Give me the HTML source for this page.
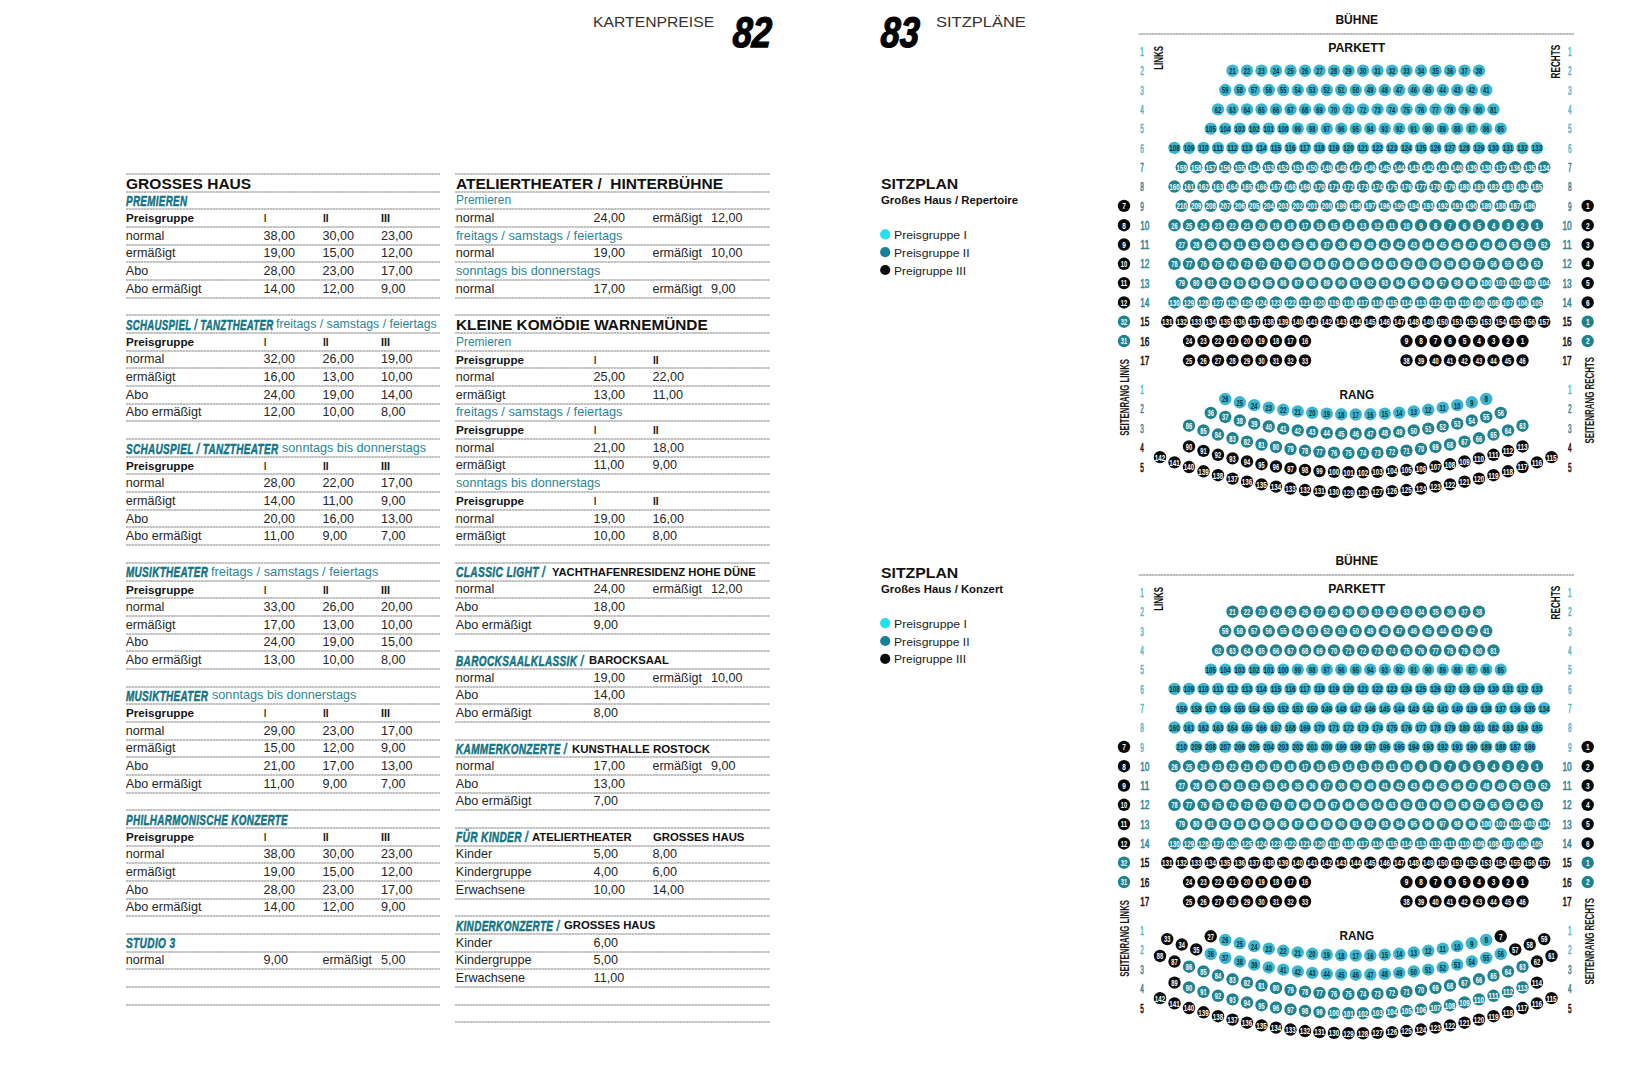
<!DOCTYPE html>
<html><head><meta charset="utf-8"><style>
html,body{margin:0;padding:0;background:#fff;width:1650px;height:1080px;overflow:hidden}
body{position:relative;font-family:"Liberation Sans",sans-serif}
.t{position:absolute;white-space:pre;line-height:0;transform-origin:0 0}
.ln{position:absolute;height:2px;background:repeating-linear-gradient(90deg,#c2c2c2 0 2px,#dadada 2px 3px)}
svg{position:absolute;left:0;top:0}
</style></head><body>
<div class="ln" style="left:125.5px;top:173.0px;width:314.5px"></div>
<div class="ln" style="left:125.5px;top:190.7px;width:314.5px"></div>
<div class="ln" style="left:125.5px;top:208.3px;width:314.5px"></div>
<div class="ln" style="left:125.5px;top:226.0px;width:314.5px"></div>
<div class="ln" style="left:125.5px;top:243.7px;width:314.5px"></div>
<div class="ln" style="left:125.5px;top:261.4px;width:314.5px"></div>
<div class="ln" style="left:125.5px;top:279.0px;width:314.5px"></div>
<div class="ln" style="left:125.5px;top:296.7px;width:314.5px"></div>
<div class="ln" style="left:125.5px;top:314.4px;width:314.5px"></div>
<div class="ln" style="left:125.5px;top:332.0px;width:314.5px"></div>
<div class="ln" style="left:125.5px;top:349.7px;width:314.5px"></div>
<div class="ln" style="left:125.5px;top:367.4px;width:314.5px"></div>
<div class="ln" style="left:125.5px;top:385.1px;width:314.5px"></div>
<div class="ln" style="left:125.5px;top:402.7px;width:314.5px"></div>
<div class="ln" style="left:125.5px;top:420.4px;width:314.5px"></div>
<div class="ln" style="left:125.5px;top:438.1px;width:314.5px"></div>
<div class="ln" style="left:125.5px;top:455.8px;width:314.5px"></div>
<div class="ln" style="left:125.5px;top:473.4px;width:314.5px"></div>
<div class="ln" style="left:125.5px;top:491.1px;width:314.5px"></div>
<div class="ln" style="left:125.5px;top:508.8px;width:314.5px"></div>
<div class="ln" style="left:125.5px;top:526.4px;width:314.5px"></div>
<div class="ln" style="left:125.5px;top:544.1px;width:314.5px"></div>
<div class="ln" style="left:125.5px;top:561.8px;width:314.5px"></div>
<div class="ln" style="left:125.5px;top:579.5px;width:314.5px"></div>
<div class="ln" style="left:125.5px;top:597.1px;width:314.5px"></div>
<div class="ln" style="left:125.5px;top:614.8px;width:314.5px"></div>
<div class="ln" style="left:125.5px;top:632.5px;width:314.5px"></div>
<div class="ln" style="left:125.5px;top:650.1px;width:314.5px"></div>
<div class="ln" style="left:125.5px;top:667.8px;width:314.5px"></div>
<div class="ln" style="left:125.5px;top:685.5px;width:314.5px"></div>
<div class="ln" style="left:125.5px;top:703.2px;width:314.5px"></div>
<div class="ln" style="left:125.5px;top:720.8px;width:314.5px"></div>
<div class="ln" style="left:125.5px;top:738.5px;width:314.5px"></div>
<div class="ln" style="left:125.5px;top:756.2px;width:314.5px"></div>
<div class="ln" style="left:125.5px;top:773.8px;width:314.5px"></div>
<div class="ln" style="left:125.5px;top:791.5px;width:314.5px"></div>
<div class="ln" style="left:125.5px;top:809.2px;width:314.5px"></div>
<div class="ln" style="left:125.5px;top:826.9px;width:314.5px"></div>
<div class="ln" style="left:125.5px;top:844.5px;width:314.5px"></div>
<div class="ln" style="left:125.5px;top:862.2px;width:314.5px"></div>
<div class="ln" style="left:125.5px;top:879.9px;width:314.5px"></div>
<div class="ln" style="left:125.5px;top:897.6px;width:314.5px"></div>
<div class="ln" style="left:125.5px;top:915.2px;width:314.5px"></div>
<div class="ln" style="left:125.5px;top:932.9px;width:314.5px"></div>
<div class="ln" style="left:125.5px;top:950.6px;width:314.5px"></div>
<div class="ln" style="left:125.5px;top:968.2px;width:314.5px"></div>
<div class="ln" style="left:125.5px;top:985.9px;width:314.5px"></div>
<div class="ln" style="left:125.5px;top:1003.6px;width:314.5px"></div>
<div class="ln" style="left:455.3px;top:173.0px;width:314.5px"></div>
<div class="ln" style="left:455.3px;top:190.7px;width:314.5px"></div>
<div class="ln" style="left:455.3px;top:208.3px;width:314.5px"></div>
<div class="ln" style="left:455.3px;top:226.0px;width:314.5px"></div>
<div class="ln" style="left:455.3px;top:243.7px;width:314.5px"></div>
<div class="ln" style="left:455.3px;top:261.4px;width:314.5px"></div>
<div class="ln" style="left:455.3px;top:279.0px;width:314.5px"></div>
<div class="ln" style="left:455.3px;top:296.7px;width:314.5px"></div>
<div class="ln" style="left:455.3px;top:314.4px;width:314.5px"></div>
<div class="ln" style="left:455.3px;top:332.0px;width:314.5px"></div>
<div class="ln" style="left:455.3px;top:349.7px;width:314.5px"></div>
<div class="ln" style="left:455.3px;top:367.4px;width:314.5px"></div>
<div class="ln" style="left:455.3px;top:385.1px;width:314.5px"></div>
<div class="ln" style="left:455.3px;top:402.7px;width:314.5px"></div>
<div class="ln" style="left:455.3px;top:420.4px;width:314.5px"></div>
<div class="ln" style="left:455.3px;top:438.1px;width:314.5px"></div>
<div class="ln" style="left:455.3px;top:455.8px;width:314.5px"></div>
<div class="ln" style="left:455.3px;top:473.4px;width:314.5px"></div>
<div class="ln" style="left:455.3px;top:491.1px;width:314.5px"></div>
<div class="ln" style="left:455.3px;top:508.8px;width:314.5px"></div>
<div class="ln" style="left:455.3px;top:526.4px;width:314.5px"></div>
<div class="ln" style="left:455.3px;top:544.1px;width:314.5px"></div>
<div class="ln" style="left:455.3px;top:561.8px;width:314.5px"></div>
<div class="ln" style="left:455.3px;top:579.5px;width:314.5px"></div>
<div class="ln" style="left:455.3px;top:597.1px;width:314.5px"></div>
<div class="ln" style="left:455.3px;top:614.8px;width:314.5px"></div>
<div class="ln" style="left:455.3px;top:632.5px;width:314.5px"></div>
<div class="ln" style="left:455.3px;top:650.1px;width:314.5px"></div>
<div class="ln" style="left:455.3px;top:667.8px;width:314.5px"></div>
<div class="ln" style="left:455.3px;top:685.5px;width:314.5px"></div>
<div class="ln" style="left:455.3px;top:703.2px;width:314.5px"></div>
<div class="ln" style="left:455.3px;top:720.8px;width:314.5px"></div>
<div class="ln" style="left:455.3px;top:738.5px;width:314.5px"></div>
<div class="ln" style="left:455.3px;top:756.2px;width:314.5px"></div>
<div class="ln" style="left:455.3px;top:773.8px;width:314.5px"></div>
<div class="ln" style="left:455.3px;top:791.5px;width:314.5px"></div>
<div class="ln" style="left:455.3px;top:809.2px;width:314.5px"></div>
<div class="ln" style="left:455.3px;top:826.9px;width:314.5px"></div>
<div class="ln" style="left:455.3px;top:844.5px;width:314.5px"></div>
<div class="ln" style="left:455.3px;top:862.2px;width:314.5px"></div>
<div class="ln" style="left:455.3px;top:879.9px;width:314.5px"></div>
<div class="ln" style="left:455.3px;top:897.6px;width:314.5px"></div>
<div class="ln" style="left:455.3px;top:915.2px;width:314.5px"></div>
<div class="ln" style="left:455.3px;top:932.9px;width:314.5px"></div>
<div class="ln" style="left:455.3px;top:950.6px;width:314.5px"></div>
<div class="ln" style="left:455.3px;top:968.2px;width:314.5px"></div>
<div class="ln" style="left:455.3px;top:985.9px;width:314.5px"></div>
<div class="ln" style="left:455.3px;top:1003.6px;width:314.5px"></div>
<div class="ln" style="left:455.3px;top:1021.3px;width:314.5px"></div>
<div class="t" style="left:125.8px;top:183.58px;font-size:13.9px;font-weight:700;font-style:normal;color:#111;transform:scaleX(1.1186);">GROSSES HAUS</div>
<div class="t" style="left:125.8px;top:201.12px;font-size:14.3px;font-weight:700;font-style:italic;letter-spacing:0.5px;color:#137283;-webkit-text-stroke:0.5px #137283;transform:scaleX(0.6860);">PREMIEREN</div>
<div class="t" style="left:125.8px;top:218.43px;font-size:11.3px;font-weight:700;font-style:normal;color:#141414;transform:scaleX(1.0315);">Preisgruppe</div>
<div class="t" style="left:263.9px;top:218.43px;font-size:11.3px;font-weight:700;font-style:normal;color:#141414;transform:scaleX(0.7005);">I</div>
<div class="t" style="left:322.7px;top:218.43px;font-size:11.3px;font-weight:700;font-style:normal;color:#141414;transform:scaleX(0.8915);">II</div>
<div class="t" style="left:381.4px;top:218.43px;font-size:11.3px;font-weight:700;font-style:normal;color:#141414;transform:scaleX(0.9552);">III</div>
<div class="t" style="left:125.8px;top:235.75px;font-size:12.6px;font-weight:400;font-style:normal;color:#262626;">normal</div>
<div class="t" style="left:263.6px;top:235.75px;font-size:12.6px;font-weight:400;font-style:normal;color:#262626;">38,00</div>
<div class="t" style="left:322.4px;top:235.75px;font-size:12.6px;font-weight:400;font-style:normal;color:#262626;">30,00</div>
<div class="t" style="left:381.1px;top:235.75px;font-size:12.6px;font-weight:400;font-style:normal;color:#262626;">23,00</div>
<div class="t" style="left:125.8px;top:253.42px;font-size:12.6px;font-weight:400;font-style:normal;color:#262626;">ermäßigt</div>
<div class="t" style="left:263.6px;top:253.42px;font-size:12.6px;font-weight:400;font-style:normal;color:#262626;">19,00</div>
<div class="t" style="left:322.4px;top:253.42px;font-size:12.6px;font-weight:400;font-style:normal;color:#262626;">15,00</div>
<div class="t" style="left:381.1px;top:253.42px;font-size:12.6px;font-weight:400;font-style:normal;color:#262626;">12,00</div>
<div class="t" style="left:125.8px;top:271.09px;font-size:12.6px;font-weight:400;font-style:normal;color:#262626;">Abo</div>
<div class="t" style="left:263.6px;top:271.09px;font-size:12.6px;font-weight:400;font-style:normal;color:#262626;">28,00</div>
<div class="t" style="left:322.4px;top:271.09px;font-size:12.6px;font-weight:400;font-style:normal;color:#262626;">23,00</div>
<div class="t" style="left:381.1px;top:271.09px;font-size:12.6px;font-weight:400;font-style:normal;color:#262626;">17,00</div>
<div class="t" style="left:125.8px;top:288.77px;font-size:12.6px;font-weight:400;font-style:normal;color:#262626;">Abo ermäßigt</div>
<div class="t" style="left:263.6px;top:288.77px;font-size:12.6px;font-weight:400;font-style:normal;color:#262626;">14,00</div>
<div class="t" style="left:322.4px;top:288.77px;font-size:12.6px;font-weight:400;font-style:normal;color:#262626;">12,00</div>
<div class="t" style="left:381.1px;top:288.77px;font-size:12.6px;font-weight:400;font-style:normal;color:#262626;">9,00</div>
<div class="t" style="left:125.8px;top:324.82px;font-size:14.3px;font-weight:700;font-style:italic;letter-spacing:0.5px;color:#137283;-webkit-text-stroke:0.5px #137283;transform:scaleX(0.6726);">SCHAUSPIEL / TANZTHEATER</div>
<div class="t" style="left:276.2px;top:324.11px;font-size:12.6px;font-weight:400;font-style:normal;color:#2b8696;transform:scaleX(0.9769);">freitags / samstags / feiertags</div>
<div class="t" style="left:125.8px;top:342.13px;font-size:11.3px;font-weight:700;font-style:normal;color:#141414;transform:scaleX(1.0315);">Preisgruppe</div>
<div class="t" style="left:263.9px;top:342.13px;font-size:11.3px;font-weight:700;font-style:normal;color:#141414;transform:scaleX(0.7005);">I</div>
<div class="t" style="left:322.7px;top:342.13px;font-size:11.3px;font-weight:700;font-style:normal;color:#141414;transform:scaleX(0.8915);">II</div>
<div class="t" style="left:381.4px;top:342.13px;font-size:11.3px;font-weight:700;font-style:normal;color:#141414;transform:scaleX(0.9552);">III</div>
<div class="t" style="left:125.8px;top:359.45px;font-size:12.6px;font-weight:400;font-style:normal;color:#262626;">normal</div>
<div class="t" style="left:263.6px;top:359.45px;font-size:12.6px;font-weight:400;font-style:normal;color:#262626;">32,00</div>
<div class="t" style="left:322.4px;top:359.45px;font-size:12.6px;font-weight:400;font-style:normal;color:#262626;">26,00</div>
<div class="t" style="left:381.1px;top:359.45px;font-size:12.6px;font-weight:400;font-style:normal;color:#262626;">19,00</div>
<div class="t" style="left:125.8px;top:377.13px;font-size:12.6px;font-weight:400;font-style:normal;color:#262626;">ermäßigt</div>
<div class="t" style="left:263.6px;top:377.13px;font-size:12.6px;font-weight:400;font-style:normal;color:#262626;">16,00</div>
<div class="t" style="left:322.4px;top:377.13px;font-size:12.6px;font-weight:400;font-style:normal;color:#262626;">13,00</div>
<div class="t" style="left:381.1px;top:377.13px;font-size:12.6px;font-weight:400;font-style:normal;color:#262626;">10,00</div>
<div class="t" style="left:125.8px;top:394.80px;font-size:12.6px;font-weight:400;font-style:normal;color:#262626;">Abo</div>
<div class="t" style="left:263.6px;top:394.80px;font-size:12.6px;font-weight:400;font-style:normal;color:#262626;">24,00</div>
<div class="t" style="left:322.4px;top:394.80px;font-size:12.6px;font-weight:400;font-style:normal;color:#262626;">19,00</div>
<div class="t" style="left:381.1px;top:394.80px;font-size:12.6px;font-weight:400;font-style:normal;color:#262626;">14,00</div>
<div class="t" style="left:125.8px;top:412.47px;font-size:12.6px;font-weight:400;font-style:normal;color:#262626;">Abo ermäßigt</div>
<div class="t" style="left:263.6px;top:412.47px;font-size:12.6px;font-weight:400;font-style:normal;color:#262626;">12,00</div>
<div class="t" style="left:322.4px;top:412.47px;font-size:12.6px;font-weight:400;font-style:normal;color:#262626;">10,00</div>
<div class="t" style="left:381.1px;top:412.47px;font-size:12.6px;font-weight:400;font-style:normal;color:#262626;">8,00</div>
<div class="t" style="left:125.8px;top:448.53px;font-size:14.3px;font-weight:700;font-style:italic;letter-spacing:0.5px;color:#137283;-webkit-text-stroke:0.5px #137283;transform:scaleX(0.6954);">SCHAUSPIEL / TANZTHEATER</div>
<div class="t" style="left:281.8px;top:447.81px;font-size:12.6px;font-weight:400;font-style:normal;color:#2b8696;transform:scaleX(1.0047);">sonntags bis donnerstags</div>
<div class="t" style="left:125.8px;top:465.84px;font-size:11.3px;font-weight:700;font-style:normal;color:#141414;transform:scaleX(1.0315);">Preisgruppe</div>
<div class="t" style="left:263.9px;top:465.84px;font-size:11.3px;font-weight:700;font-style:normal;color:#141414;transform:scaleX(0.7005);">I</div>
<div class="t" style="left:322.7px;top:465.84px;font-size:11.3px;font-weight:700;font-style:normal;color:#141414;transform:scaleX(0.8915);">II</div>
<div class="t" style="left:381.4px;top:465.84px;font-size:11.3px;font-weight:700;font-style:normal;color:#141414;transform:scaleX(0.9552);">III</div>
<div class="t" style="left:125.8px;top:483.16px;font-size:12.6px;font-weight:400;font-style:normal;color:#262626;">normal</div>
<div class="t" style="left:263.6px;top:483.16px;font-size:12.6px;font-weight:400;font-style:normal;color:#262626;">28,00</div>
<div class="t" style="left:322.4px;top:483.16px;font-size:12.6px;font-weight:400;font-style:normal;color:#262626;">22,00</div>
<div class="t" style="left:381.1px;top:483.16px;font-size:12.6px;font-weight:400;font-style:normal;color:#262626;">17,00</div>
<div class="t" style="left:125.8px;top:500.83px;font-size:12.6px;font-weight:400;font-style:normal;color:#262626;">ermäßigt</div>
<div class="t" style="left:263.6px;top:500.83px;font-size:12.6px;font-weight:400;font-style:normal;color:#262626;">14,00</div>
<div class="t" style="left:322.4px;top:500.83px;font-size:12.6px;font-weight:400;font-style:normal;color:#262626;">11,00</div>
<div class="t" style="left:381.1px;top:500.83px;font-size:12.6px;font-weight:400;font-style:normal;color:#262626;">9,00</div>
<div class="t" style="left:125.8px;top:518.50px;font-size:12.6px;font-weight:400;font-style:normal;color:#262626;">Abo</div>
<div class="t" style="left:263.6px;top:518.50px;font-size:12.6px;font-weight:400;font-style:normal;color:#262626;">20,00</div>
<div class="t" style="left:322.4px;top:518.50px;font-size:12.6px;font-weight:400;font-style:normal;color:#262626;">16,00</div>
<div class="t" style="left:381.1px;top:518.50px;font-size:12.6px;font-weight:400;font-style:normal;color:#262626;">13,00</div>
<div class="t" style="left:125.8px;top:536.17px;font-size:12.6px;font-weight:400;font-style:normal;color:#262626;">Abo ermäßigt</div>
<div class="t" style="left:263.6px;top:536.17px;font-size:12.6px;font-weight:400;font-style:normal;color:#262626;">11,00</div>
<div class="t" style="left:322.4px;top:536.17px;font-size:12.6px;font-weight:400;font-style:normal;color:#262626;">9,00</div>
<div class="t" style="left:381.1px;top:536.17px;font-size:12.6px;font-weight:400;font-style:normal;color:#262626;">7,00</div>
<div class="t" style="left:125.8px;top:572.23px;font-size:14.3px;font-weight:700;font-style:italic;letter-spacing:0.5px;color:#137283;-webkit-text-stroke:0.5px #137283;transform:scaleX(0.6935);">MUSIKTHEATER</div>
<div class="t" style="left:211.3px;top:571.52px;font-size:12.6px;font-weight:400;font-style:normal;color:#2b8696;transform:scaleX(1.0176);">freitags / samstags / feiertags</div>
<div class="t" style="left:125.8px;top:589.54px;font-size:11.3px;font-weight:700;font-style:normal;color:#141414;transform:scaleX(1.0315);">Preisgruppe</div>
<div class="t" style="left:263.9px;top:589.54px;font-size:11.3px;font-weight:700;font-style:normal;color:#141414;transform:scaleX(0.7005);">I</div>
<div class="t" style="left:322.7px;top:589.54px;font-size:11.3px;font-weight:700;font-style:normal;color:#141414;transform:scaleX(0.8915);">II</div>
<div class="t" style="left:381.4px;top:589.54px;font-size:11.3px;font-weight:700;font-style:normal;color:#141414;transform:scaleX(0.9552);">III</div>
<div class="t" style="left:125.8px;top:606.86px;font-size:12.6px;font-weight:400;font-style:normal;color:#262626;">normal</div>
<div class="t" style="left:263.6px;top:606.86px;font-size:12.6px;font-weight:400;font-style:normal;color:#262626;">33,00</div>
<div class="t" style="left:322.4px;top:606.86px;font-size:12.6px;font-weight:400;font-style:normal;color:#262626;">26,00</div>
<div class="t" style="left:381.1px;top:606.86px;font-size:12.6px;font-weight:400;font-style:normal;color:#262626;">20,00</div>
<div class="t" style="left:125.8px;top:624.53px;font-size:12.6px;font-weight:400;font-style:normal;color:#262626;">ermäßigt</div>
<div class="t" style="left:263.6px;top:624.53px;font-size:12.6px;font-weight:400;font-style:normal;color:#262626;">17,00</div>
<div class="t" style="left:322.4px;top:624.53px;font-size:12.6px;font-weight:400;font-style:normal;color:#262626;">13,00</div>
<div class="t" style="left:381.1px;top:624.53px;font-size:12.6px;font-weight:400;font-style:normal;color:#262626;">10,00</div>
<div class="t" style="left:125.8px;top:642.21px;font-size:12.6px;font-weight:400;font-style:normal;color:#262626;">Abo</div>
<div class="t" style="left:263.6px;top:642.21px;font-size:12.6px;font-weight:400;font-style:normal;color:#262626;">24,00</div>
<div class="t" style="left:322.4px;top:642.21px;font-size:12.6px;font-weight:400;font-style:normal;color:#262626;">19,00</div>
<div class="t" style="left:381.1px;top:642.21px;font-size:12.6px;font-weight:400;font-style:normal;color:#262626;">15,00</div>
<div class="t" style="left:125.8px;top:659.88px;font-size:12.6px;font-weight:400;font-style:normal;color:#262626;">Abo ermäßigt</div>
<div class="t" style="left:263.6px;top:659.88px;font-size:12.6px;font-weight:400;font-style:normal;color:#262626;">13,00</div>
<div class="t" style="left:322.4px;top:659.88px;font-size:12.6px;font-weight:400;font-style:normal;color:#262626;">10,00</div>
<div class="t" style="left:381.1px;top:659.88px;font-size:12.6px;font-weight:400;font-style:normal;color:#262626;">8,00</div>
<div class="t" style="left:125.8px;top:695.93px;font-size:14.3px;font-weight:700;font-style:italic;letter-spacing:0.5px;color:#137283;-webkit-text-stroke:0.5px #137283;transform:scaleX(0.6935);">MUSIKTHEATER</div>
<div class="t" style="left:211.8px;top:695.22px;font-size:12.6px;font-weight:400;font-style:normal;color:#2b8696;transform:scaleX(1.0054);">sonntags bis donnerstags</div>
<div class="t" style="left:125.8px;top:713.24px;font-size:11.3px;font-weight:700;font-style:normal;color:#141414;transform:scaleX(1.0315);">Preisgruppe</div>
<div class="t" style="left:263.9px;top:713.24px;font-size:11.3px;font-weight:700;font-style:normal;color:#141414;transform:scaleX(0.7005);">I</div>
<div class="t" style="left:322.7px;top:713.24px;font-size:11.3px;font-weight:700;font-style:normal;color:#141414;transform:scaleX(0.8915);">II</div>
<div class="t" style="left:381.4px;top:713.24px;font-size:11.3px;font-weight:700;font-style:normal;color:#141414;transform:scaleX(0.9552);">III</div>
<div class="t" style="left:125.8px;top:730.57px;font-size:12.6px;font-weight:400;font-style:normal;color:#262626;">normal</div>
<div class="t" style="left:263.6px;top:730.57px;font-size:12.6px;font-weight:400;font-style:normal;color:#262626;">29,00</div>
<div class="t" style="left:322.4px;top:730.57px;font-size:12.6px;font-weight:400;font-style:normal;color:#262626;">23,00</div>
<div class="t" style="left:381.1px;top:730.57px;font-size:12.6px;font-weight:400;font-style:normal;color:#262626;">17,00</div>
<div class="t" style="left:125.8px;top:748.24px;font-size:12.6px;font-weight:400;font-style:normal;color:#262626;">ermäßigt</div>
<div class="t" style="left:263.6px;top:748.24px;font-size:12.6px;font-weight:400;font-style:normal;color:#262626;">15,00</div>
<div class="t" style="left:322.4px;top:748.24px;font-size:12.6px;font-weight:400;font-style:normal;color:#262626;">12,00</div>
<div class="t" style="left:381.1px;top:748.24px;font-size:12.6px;font-weight:400;font-style:normal;color:#262626;">9,00</div>
<div class="t" style="left:125.8px;top:765.91px;font-size:12.6px;font-weight:400;font-style:normal;color:#262626;">Abo</div>
<div class="t" style="left:263.6px;top:765.91px;font-size:12.6px;font-weight:400;font-style:normal;color:#262626;">21,00</div>
<div class="t" style="left:322.4px;top:765.91px;font-size:12.6px;font-weight:400;font-style:normal;color:#262626;">17,00</div>
<div class="t" style="left:381.1px;top:765.91px;font-size:12.6px;font-weight:400;font-style:normal;color:#262626;">13,00</div>
<div class="t" style="left:125.8px;top:783.58px;font-size:12.6px;font-weight:400;font-style:normal;color:#262626;">Abo ermäßigt</div>
<div class="t" style="left:263.6px;top:783.58px;font-size:12.6px;font-weight:400;font-style:normal;color:#262626;">11,00</div>
<div class="t" style="left:322.4px;top:783.58px;font-size:12.6px;font-weight:400;font-style:normal;color:#262626;">9,00</div>
<div class="t" style="left:381.1px;top:783.58px;font-size:12.6px;font-weight:400;font-style:normal;color:#262626;">7,00</div>
<div class="t" style="left:125.8px;top:819.64px;font-size:14.3px;font-weight:700;font-style:italic;letter-spacing:0.5px;color:#137283;-webkit-text-stroke:0.5px #137283;transform:scaleX(0.6895);">PHILHARMONISCHE KONZERTE</div>
<div class="t" style="left:125.8px;top:836.95px;font-size:11.3px;font-weight:700;font-style:normal;color:#141414;transform:scaleX(1.0315);">Preisgruppe</div>
<div class="t" style="left:263.9px;top:836.95px;font-size:11.3px;font-weight:700;font-style:normal;color:#141414;transform:scaleX(0.7005);">I</div>
<div class="t" style="left:322.7px;top:836.95px;font-size:11.3px;font-weight:700;font-style:normal;color:#141414;transform:scaleX(0.8915);">II</div>
<div class="t" style="left:381.4px;top:836.95px;font-size:11.3px;font-weight:700;font-style:normal;color:#141414;transform:scaleX(0.9552);">III</div>
<div class="t" style="left:125.8px;top:854.27px;font-size:12.6px;font-weight:400;font-style:normal;color:#262626;">normal</div>
<div class="t" style="left:263.6px;top:854.27px;font-size:12.6px;font-weight:400;font-style:normal;color:#262626;">38,00</div>
<div class="t" style="left:322.4px;top:854.27px;font-size:12.6px;font-weight:400;font-style:normal;color:#262626;">30,00</div>
<div class="t" style="left:381.1px;top:854.27px;font-size:12.6px;font-weight:400;font-style:normal;color:#262626;">23,00</div>
<div class="t" style="left:125.8px;top:871.94px;font-size:12.6px;font-weight:400;font-style:normal;color:#262626;">ermäßigt</div>
<div class="t" style="left:263.6px;top:871.94px;font-size:12.6px;font-weight:400;font-style:normal;color:#262626;">19,00</div>
<div class="t" style="left:322.4px;top:871.94px;font-size:12.6px;font-weight:400;font-style:normal;color:#262626;">15,00</div>
<div class="t" style="left:381.1px;top:871.94px;font-size:12.6px;font-weight:400;font-style:normal;color:#262626;">12,00</div>
<div class="t" style="left:125.8px;top:889.61px;font-size:12.6px;font-weight:400;font-style:normal;color:#262626;">Abo</div>
<div class="t" style="left:263.6px;top:889.61px;font-size:12.6px;font-weight:400;font-style:normal;color:#262626;">28,00</div>
<div class="t" style="left:322.4px;top:889.61px;font-size:12.6px;font-weight:400;font-style:normal;color:#262626;">23,00</div>
<div class="t" style="left:381.1px;top:889.61px;font-size:12.6px;font-weight:400;font-style:normal;color:#262626;">17,00</div>
<div class="t" style="left:125.8px;top:907.29px;font-size:12.6px;font-weight:400;font-style:normal;color:#262626;">Abo ermäßigt</div>
<div class="t" style="left:263.6px;top:907.29px;font-size:12.6px;font-weight:400;font-style:normal;color:#262626;">14,00</div>
<div class="t" style="left:322.4px;top:907.29px;font-size:12.6px;font-weight:400;font-style:normal;color:#262626;">12,00</div>
<div class="t" style="left:381.1px;top:907.29px;font-size:12.6px;font-weight:400;font-style:normal;color:#262626;">9,00</div>
<div class="t" style="left:125.8px;top:943.34px;font-size:14.3px;font-weight:700;font-style:italic;letter-spacing:0.5px;color:#137283;-webkit-text-stroke:0.5px #137283;transform:scaleX(0.7063);">STUDIO 3</div>
<div class="t" style="left:125.8px;top:960.30px;font-size:12.6px;font-weight:400;font-style:normal;color:#262626;">normal</div>
<div class="t" style="left:263.6px;top:960.30px;font-size:12.6px;font-weight:400;font-style:normal;color:#262626;">9,00</div>
<div class="t" style="left:322.4px;top:960.30px;font-size:12.6px;font-weight:400;font-style:normal;color:#262626;">ermäßigt</div>
<div class="t" style="left:381.1px;top:960.30px;font-size:12.6px;font-weight:400;font-style:normal;color:#262626;">5,00</div>
<div class="t" style="left:455.8px;top:183.58px;font-size:13.9px;font-weight:700;font-style:normal;color:#111;transform:scaleX(1.1149);">ATELIERTHEATER /  HINTERBÜHNE</div>
<div class="t" style="left:455.8px;top:200.41px;font-size:12.6px;font-weight:400;font-style:normal;color:#2b8696;transform:scaleX(0.9485);">Premieren</div>
<div class="t" style="left:455.8px;top:218.08px;font-size:12.6px;font-weight:400;font-style:normal;color:#262626;">normal</div>
<div class="t" style="left:593.6px;top:218.08px;font-size:12.6px;font-weight:400;font-style:normal;color:#262626;">24,00</div>
<div class="t" style="left:652.4px;top:218.08px;font-size:12.6px;font-weight:400;font-style:normal;color:#262626;">ermäßigt</div>
<div class="t" style="left:711.1px;top:218.08px;font-size:12.6px;font-weight:400;font-style:normal;color:#262626;">12,00</div>
<div class="t" style="left:455.8px;top:235.75px;font-size:12.6px;font-weight:400;font-style:normal;color:#2b8696;transform:scaleX(1.0122);">freitags / samstags / feiertags</div>
<div class="t" style="left:455.8px;top:253.42px;font-size:12.6px;font-weight:400;font-style:normal;color:#262626;">normal</div>
<div class="t" style="left:593.6px;top:253.42px;font-size:12.6px;font-weight:400;font-style:normal;color:#262626;">19,00</div>
<div class="t" style="left:652.4px;top:253.42px;font-size:12.6px;font-weight:400;font-style:normal;color:#262626;">ermäßigt</div>
<div class="t" style="left:711.1px;top:253.42px;font-size:12.6px;font-weight:400;font-style:normal;color:#262626;">10,00</div>
<div class="t" style="left:455.8px;top:271.09px;font-size:12.6px;font-weight:400;font-style:normal;color:#2b8696;transform:scaleX(1.0061);">sonntags bis donnerstags</div>
<div class="t" style="left:455.8px;top:288.77px;font-size:12.6px;font-weight:400;font-style:normal;color:#262626;">normal</div>
<div class="t" style="left:593.6px;top:288.77px;font-size:12.6px;font-weight:400;font-style:normal;color:#262626;">17,00</div>
<div class="t" style="left:652.4px;top:288.77px;font-size:12.6px;font-weight:400;font-style:normal;color:#262626;">ermäßigt</div>
<div class="t" style="left:711.1px;top:288.77px;font-size:12.6px;font-weight:400;font-style:normal;color:#262626;">9,00</div>
<div class="t" style="left:455.8px;top:324.96px;font-size:13.9px;font-weight:700;font-style:normal;color:#111;transform:scaleX(1.1056);">KLEINE KOMÖDIE WARNEMÜNDE</div>
<div class="t" style="left:455.8px;top:341.78px;font-size:12.6px;font-weight:400;font-style:normal;color:#2b8696;transform:scaleX(0.9485);">Premieren</div>
<div class="t" style="left:455.8px;top:359.80px;font-size:11.3px;font-weight:700;font-style:normal;color:#141414;transform:scaleX(1.0315);">Preisgruppe</div>
<div class="t" style="left:593.9px;top:359.80px;font-size:11.3px;font-weight:700;font-style:normal;color:#141414;transform:scaleX(0.7005);">I</div>
<div class="t" style="left:652.7px;top:359.80px;font-size:11.3px;font-weight:700;font-style:normal;color:#141414;transform:scaleX(0.8915);">II</div>
<div class="t" style="left:455.8px;top:377.13px;font-size:12.6px;font-weight:400;font-style:normal;color:#262626;">normal</div>
<div class="t" style="left:593.6px;top:377.13px;font-size:12.6px;font-weight:400;font-style:normal;color:#262626;">25,00</div>
<div class="t" style="left:652.4px;top:377.13px;font-size:12.6px;font-weight:400;font-style:normal;color:#262626;">22,00</div>
<div class="t" style="left:455.8px;top:394.80px;font-size:12.6px;font-weight:400;font-style:normal;color:#262626;">ermäßigt</div>
<div class="t" style="left:593.6px;top:394.80px;font-size:12.6px;font-weight:400;font-style:normal;color:#262626;">13,00</div>
<div class="t" style="left:652.4px;top:394.80px;font-size:12.6px;font-weight:400;font-style:normal;color:#262626;">11,00</div>
<div class="t" style="left:455.8px;top:412.47px;font-size:12.6px;font-weight:400;font-style:normal;color:#2b8696;transform:scaleX(1.0122);">freitags / samstags / feiertags</div>
<div class="t" style="left:455.8px;top:430.49px;font-size:11.3px;font-weight:700;font-style:normal;color:#141414;transform:scaleX(1.0315);">Preisgruppe</div>
<div class="t" style="left:593.9px;top:430.49px;font-size:11.3px;font-weight:700;font-style:normal;color:#141414;transform:scaleX(0.7005);">I</div>
<div class="t" style="left:652.7px;top:430.49px;font-size:11.3px;font-weight:700;font-style:normal;color:#141414;transform:scaleX(0.8915);">II</div>
<div class="t" style="left:455.8px;top:447.81px;font-size:12.6px;font-weight:400;font-style:normal;color:#262626;">normal</div>
<div class="t" style="left:593.6px;top:447.81px;font-size:12.6px;font-weight:400;font-style:normal;color:#262626;">21,00</div>
<div class="t" style="left:652.4px;top:447.81px;font-size:12.6px;font-weight:400;font-style:normal;color:#262626;">18,00</div>
<div class="t" style="left:455.8px;top:465.49px;font-size:12.6px;font-weight:400;font-style:normal;color:#262626;">ermäßigt</div>
<div class="t" style="left:593.6px;top:465.49px;font-size:12.6px;font-weight:400;font-style:normal;color:#262626;">11,00</div>
<div class="t" style="left:652.4px;top:465.49px;font-size:12.6px;font-weight:400;font-style:normal;color:#262626;">9,00</div>
<div class="t" style="left:455.8px;top:483.16px;font-size:12.6px;font-weight:400;font-style:normal;color:#2b8696;transform:scaleX(1.0061);">sonntags bis donnerstags</div>
<div class="t" style="left:455.8px;top:501.18px;font-size:11.3px;font-weight:700;font-style:normal;color:#141414;transform:scaleX(1.0315);">Preisgruppe</div>
<div class="t" style="left:593.9px;top:501.18px;font-size:11.3px;font-weight:700;font-style:normal;color:#141414;transform:scaleX(0.7005);">I</div>
<div class="t" style="left:652.7px;top:501.18px;font-size:11.3px;font-weight:700;font-style:normal;color:#141414;transform:scaleX(0.8915);">II</div>
<div class="t" style="left:455.8px;top:518.50px;font-size:12.6px;font-weight:400;font-style:normal;color:#262626;">normal</div>
<div class="t" style="left:593.6px;top:518.50px;font-size:12.6px;font-weight:400;font-style:normal;color:#262626;">19,00</div>
<div class="t" style="left:652.4px;top:518.50px;font-size:12.6px;font-weight:400;font-style:normal;color:#262626;">16,00</div>
<div class="t" style="left:455.8px;top:536.17px;font-size:12.6px;font-weight:400;font-style:normal;color:#262626;">ermäßigt</div>
<div class="t" style="left:593.6px;top:536.17px;font-size:12.6px;font-weight:400;font-style:normal;color:#262626;">10,00</div>
<div class="t" style="left:652.4px;top:536.17px;font-size:12.6px;font-weight:400;font-style:normal;color:#262626;">8,00</div>
<div class="t" style="left:455.8px;top:572.23px;font-size:14.3px;font-weight:700;font-style:italic;letter-spacing:0.5px;color:#137283;-webkit-text-stroke:0.5px #137283;transform:scaleX(0.7132);">CLASSIC LIGHT /</div>
<div class="t" style="left:551.8px;top:571.91px;font-size:10.6px;font-weight:700;font-style:normal;color:#111;transform:scaleX(1.0604);">YACHTHAFENRESIDENZ HOHE DÜNE</div>
<div class="t" style="left:455.8px;top:589.19px;font-size:12.6px;font-weight:400;font-style:normal;color:#262626;">normal</div>
<div class="t" style="left:593.6px;top:589.19px;font-size:12.6px;font-weight:400;font-style:normal;color:#262626;">24,00</div>
<div class="t" style="left:652.4px;top:589.19px;font-size:12.6px;font-weight:400;font-style:normal;color:#262626;">ermäßigt</div>
<div class="t" style="left:711.1px;top:589.19px;font-size:12.6px;font-weight:400;font-style:normal;color:#262626;">12,00</div>
<div class="t" style="left:455.8px;top:606.86px;font-size:12.6px;font-weight:400;font-style:normal;color:#262626;">Abo</div>
<div class="t" style="left:593.6px;top:606.86px;font-size:12.6px;font-weight:400;font-style:normal;color:#262626;">18,00</div>
<div class="t" style="left:455.8px;top:624.53px;font-size:12.6px;font-weight:400;font-style:normal;color:#262626;">Abo ermäßigt</div>
<div class="t" style="left:593.6px;top:624.53px;font-size:12.6px;font-weight:400;font-style:normal;color:#262626;">9,00</div>
<div class="t" style="left:455.8px;top:660.59px;font-size:14.3px;font-weight:700;font-style:italic;letter-spacing:0.5px;color:#137283;-webkit-text-stroke:0.5px #137283;transform:scaleX(0.7016);">BAROCKSAALKLASSIK /</div>
<div class="t" style="left:589.2px;top:660.27px;font-size:10.6px;font-weight:700;font-style:normal;color:#111;transform:scaleX(1.0591);">BAROCKSAAL</div>
<div class="t" style="left:455.8px;top:677.55px;font-size:12.6px;font-weight:400;font-style:normal;color:#262626;">normal</div>
<div class="t" style="left:593.6px;top:677.55px;font-size:12.6px;font-weight:400;font-style:normal;color:#262626;">19,00</div>
<div class="t" style="left:652.4px;top:677.55px;font-size:12.6px;font-weight:400;font-style:normal;color:#262626;">ermäßigt</div>
<div class="t" style="left:711.1px;top:677.55px;font-size:12.6px;font-weight:400;font-style:normal;color:#262626;">10,00</div>
<div class="t" style="left:455.8px;top:695.22px;font-size:12.6px;font-weight:400;font-style:normal;color:#262626;">Abo</div>
<div class="t" style="left:593.6px;top:695.22px;font-size:12.6px;font-weight:400;font-style:normal;color:#262626;">14,00</div>
<div class="t" style="left:455.8px;top:712.89px;font-size:12.6px;font-weight:400;font-style:normal;color:#262626;">Abo ermäßigt</div>
<div class="t" style="left:593.6px;top:712.89px;font-size:12.6px;font-weight:400;font-style:normal;color:#262626;">8,00</div>
<div class="t" style="left:455.8px;top:748.95px;font-size:14.3px;font-weight:700;font-style:italic;letter-spacing:0.5px;color:#137283;-webkit-text-stroke:0.5px #137283;transform:scaleX(0.6990);">KAMMERKONZERTE /</div>
<div class="t" style="left:572.0px;top:748.63px;font-size:10.6px;font-weight:700;font-style:normal;color:#111;transform:scaleX(1.0821);">KUNSTHALLE ROSTOCK</div>
<div class="t" style="left:455.8px;top:765.91px;font-size:12.6px;font-weight:400;font-style:normal;color:#262626;">normal</div>
<div class="t" style="left:593.6px;top:765.91px;font-size:12.6px;font-weight:400;font-style:normal;color:#262626;">17,00</div>
<div class="t" style="left:652.4px;top:765.91px;font-size:12.6px;font-weight:400;font-style:normal;color:#262626;">ermäßigt</div>
<div class="t" style="left:711.1px;top:765.91px;font-size:12.6px;font-weight:400;font-style:normal;color:#262626;">9,00</div>
<div class="t" style="left:455.8px;top:783.58px;font-size:12.6px;font-weight:400;font-style:normal;color:#262626;">Abo</div>
<div class="t" style="left:593.6px;top:783.58px;font-size:12.6px;font-weight:400;font-style:normal;color:#262626;">13,00</div>
<div class="t" style="left:455.8px;top:801.25px;font-size:12.6px;font-weight:400;font-style:normal;color:#262626;">Abo ermäßigt</div>
<div class="t" style="left:593.6px;top:801.25px;font-size:12.6px;font-weight:400;font-style:normal;color:#262626;">7,00</div>
<div class="t" style="left:455.8px;top:837.31px;font-size:14.3px;font-weight:700;font-style:italic;letter-spacing:0.5px;color:#137283;-webkit-text-stroke:0.5px #137283;transform:scaleX(0.7071);">FÜR KINDER /</div>
<div class="t" style="left:532.3px;top:836.99px;font-size:10.6px;font-weight:700;font-style:normal;color:#111;transform:scaleX(1.0631);">ATELIERTHEATER</div>
<div class="t" style="left:652.6px;top:836.99px;font-size:10.6px;font-weight:700;font-style:normal;color:#111;transform:scaleX(1.0708);">GROSSES HAUS</div>
<div class="t" style="left:455.8px;top:854.27px;font-size:12.6px;font-weight:400;font-style:normal;color:#262626;">Kinder</div>
<div class="t" style="left:593.6px;top:854.27px;font-size:12.6px;font-weight:400;font-style:normal;color:#262626;">5,00</div>
<div class="t" style="left:652.4px;top:854.27px;font-size:12.6px;font-weight:400;font-style:normal;color:#262626;">8,00</div>
<div class="t" style="left:455.8px;top:871.94px;font-size:12.6px;font-weight:400;font-style:normal;color:#262626;">Kindergruppe</div>
<div class="t" style="left:593.6px;top:871.94px;font-size:12.6px;font-weight:400;font-style:normal;color:#262626;">4,00</div>
<div class="t" style="left:652.4px;top:871.94px;font-size:12.6px;font-weight:400;font-style:normal;color:#262626;">6,00</div>
<div class="t" style="left:455.8px;top:889.61px;font-size:12.6px;font-weight:400;font-style:normal;color:#262626;">Erwachsene</div>
<div class="t" style="left:593.6px;top:889.61px;font-size:12.6px;font-weight:400;font-style:normal;color:#262626;">10,00</div>
<div class="t" style="left:652.4px;top:889.61px;font-size:12.6px;font-weight:400;font-style:normal;color:#262626;">14,00</div>
<div class="t" style="left:455.8px;top:925.67px;font-size:14.3px;font-weight:700;font-style:italic;letter-spacing:0.5px;color:#137283;-webkit-text-stroke:0.5px #137283;transform:scaleX(0.6940);">KINDERKONZERTE /</div>
<div class="t" style="left:563.6px;top:925.35px;font-size:10.6px;font-weight:700;font-style:normal;color:#111;transform:scaleX(1.0696);">GROSSES HAUS</div>
<div class="t" style="left:455.8px;top:942.63px;font-size:12.6px;font-weight:400;font-style:normal;color:#262626;">Kinder</div>
<div class="t" style="left:593.6px;top:942.63px;font-size:12.6px;font-weight:400;font-style:normal;color:#262626;">6,00</div>
<div class="t" style="left:455.8px;top:960.30px;font-size:12.6px;font-weight:400;font-style:normal;color:#262626;">Kindergruppe</div>
<div class="t" style="left:593.6px;top:960.30px;font-size:12.6px;font-weight:400;font-style:normal;color:#262626;">5,00</div>
<div class="t" style="left:455.8px;top:977.97px;font-size:12.6px;font-weight:400;font-style:normal;color:#262626;">Erwachsene</div>
<div class="t" style="left:593.6px;top:977.97px;font-size:12.6px;font-weight:400;font-style:normal;color:#262626;">11,00</div>
<div class="t" style="left:592.9px;top:22.36px;font-size:15.4px;font-weight:400;font-style:normal;color:#333;transform:scaleX(1.0218);">KARTENPREISE</div>
<div class="t" style="left:935.5px;top:22.36px;font-size:15.4px;font-weight:400;font-style:normal;color:#333;transform:scaleX(1.0724);">SITZPLÄNE</div>
<div class="t" style="left:732.5px;top:32.37px;font-size:42.8px;font-weight:700;font-style:italic;color:#000;-webkit-text-stroke:1.3px #000;transform:scaleX(0.8150) skewX(-5deg);">82</div>
<div class="t" style="left:881.0px;top:32.37px;font-size:42.8px;font-weight:700;font-style:italic;color:#000;-webkit-text-stroke:1.3px #000;transform:scaleX(0.8087) skewX(-5deg);">83</div>
<div class="t" style="left:880.5px;top:183.95px;font-size:14px;font-weight:700;font-style:normal;color:#111;transform:scaleX(1.1278);">SITZPLAN</div>
<div class="t" style="left:880.5px;top:200.18px;font-size:11.3px;font-weight:700;font-style:normal;color:#111;transform:scaleX(1.0064);">Großes Haus / Repertoire</div>
<div class="t" style="left:893.9px;top:235.18px;font-size:11.6px;font-weight:400;font-style:normal;color:#222;transform:scaleX(1.0570);">Preisgruppe I</div>
<div class="t" style="left:893.9px;top:252.98px;font-size:11.6px;font-weight:400;font-style:normal;color:#222;transform:scaleX(1.0473);">Preisgruppe II</div>
<div class="t" style="left:893.9px;top:270.78px;font-size:11.6px;font-weight:400;font-style:normal;color:#222;transform:scaleX(1.0343);">Preigruppe III</div>
<div class="t" style="left:880.5px;top:572.55px;font-size:14px;font-weight:700;font-style:normal;color:#111;transform:scaleX(1.1278);">SITZPLAN</div>
<div class="t" style="left:880.5px;top:588.78px;font-size:11.3px;font-weight:700;font-style:normal;color:#111;transform:scaleX(1.0026);">Großes Haus / Konzert</div>
<div class="t" style="left:893.9px;top:623.78px;font-size:11.6px;font-weight:400;font-style:normal;color:#222;transform:scaleX(1.0570);">Preisgruppe I</div>
<div class="t" style="left:893.9px;top:641.58px;font-size:11.6px;font-weight:400;font-style:normal;color:#222;transform:scaleX(1.0473);">Preisgruppe II</div>
<div class="t" style="left:893.9px;top:659.38px;font-size:11.6px;font-weight:400;font-style:normal;color:#222;transform:scaleX(1.0343);">Preigruppe III</div>
<svg width="1650" height="1080" viewBox="0 0 1650 1080"><defs><pattern id="dots" width="3" height="2" patternUnits="userSpaceOnUse"><rect width="2" height="2" fill="#bdbdbd"/><rect x="2" width="1" height="2" fill="#d6d6d6"/></pattern></defs><style>text{font-family:"Liberation Sans",sans-serif;font-weight:700;font-size:9.3px;text-anchor:middle}.lb{font-weight:400;font-size:12.8px;stroke-width:0.6px}.hd{font-size:12px;fill:#111}.vt{font-size:12.4px;fill:#111;text-anchor:start}.vs{font-size:12.6px;font-weight:700;fill:#1a1a1a;text-anchor:start}</style><circle cx="1232.50" cy="70.71" r="6.2" fill="#3db5cf"/><text x="1232.50" y="74.06" fill="#0c3340" textLength="6.3" lengthAdjust="spacingAndGlyphs">21</text><circle cx="1247.00" cy="70.71" r="6.2" fill="#3db5cf"/><text x="1247.00" y="74.06" fill="#0c3340" textLength="6.3" lengthAdjust="spacingAndGlyphs">22</text><circle cx="1261.50" cy="70.71" r="6.2" fill="#3db5cf"/><text x="1261.50" y="74.06" fill="#0c3340" textLength="6.3" lengthAdjust="spacingAndGlyphs">23</text><circle cx="1276.00" cy="70.71" r="6.2" fill="#3db5cf"/><text x="1276.00" y="74.06" fill="#0c3340" textLength="6.3" lengthAdjust="spacingAndGlyphs">24</text><circle cx="1290.50" cy="70.71" r="6.2" fill="#3db5cf"/><text x="1290.50" y="74.06" fill="#0c3340" textLength="6.3" lengthAdjust="spacingAndGlyphs">25</text><circle cx="1305.00" cy="70.71" r="6.2" fill="#3db5cf"/><text x="1305.00" y="74.06" fill="#0c3340" textLength="6.3" lengthAdjust="spacingAndGlyphs">26</text><circle cx="1319.50" cy="70.71" r="6.2" fill="#3db5cf"/><text x="1319.50" y="74.06" fill="#0c3340" textLength="6.3" lengthAdjust="spacingAndGlyphs">27</text><circle cx="1334.00" cy="70.71" r="6.2" fill="#3db5cf"/><text x="1334.00" y="74.06" fill="#0c3340" textLength="6.3" lengthAdjust="spacingAndGlyphs">28</text><circle cx="1348.50" cy="70.71" r="6.2" fill="#3db5cf"/><text x="1348.50" y="74.06" fill="#0c3340" textLength="6.3" lengthAdjust="spacingAndGlyphs">29</text><circle cx="1363.00" cy="70.71" r="6.2" fill="#3db5cf"/><text x="1363.00" y="74.06" fill="#0c3340" textLength="6.3" lengthAdjust="spacingAndGlyphs">30</text><circle cx="1377.50" cy="70.71" r="6.2" fill="#3db5cf"/><text x="1377.50" y="74.06" fill="#0c3340" textLength="6.3" lengthAdjust="spacingAndGlyphs">31</text><circle cx="1392.00" cy="70.71" r="6.2" fill="#3db5cf"/><text x="1392.00" y="74.06" fill="#0c3340" textLength="6.3" lengthAdjust="spacingAndGlyphs">32</text><circle cx="1406.50" cy="70.71" r="6.2" fill="#3db5cf"/><text x="1406.50" y="74.06" fill="#0c3340" textLength="6.3" lengthAdjust="spacingAndGlyphs">33</text><circle cx="1421.00" cy="70.71" r="6.2" fill="#3db5cf"/><text x="1421.00" y="74.06" fill="#0c3340" textLength="6.3" lengthAdjust="spacingAndGlyphs">34</text><circle cx="1435.50" cy="70.71" r="6.2" fill="#3db5cf"/><text x="1435.50" y="74.06" fill="#0c3340" textLength="6.3" lengthAdjust="spacingAndGlyphs">35</text><circle cx="1450.00" cy="70.71" r="6.2" fill="#3db5cf"/><text x="1450.00" y="74.06" fill="#0c3340" textLength="6.3" lengthAdjust="spacingAndGlyphs">36</text><circle cx="1464.50" cy="70.71" r="6.2" fill="#3db5cf"/><text x="1464.50" y="74.06" fill="#0c3340" textLength="6.3" lengthAdjust="spacingAndGlyphs">37</text><circle cx="1479.00" cy="70.71" r="6.2" fill="#3db5cf"/><text x="1479.00" y="74.06" fill="#0c3340" textLength="6.3" lengthAdjust="spacingAndGlyphs">38</text><circle cx="1225.25" cy="90.02" r="6.2" fill="#3db5cf"/><text x="1225.25" y="93.37" fill="#0c3340" textLength="6.3" lengthAdjust="spacingAndGlyphs">59</text><circle cx="1239.75" cy="90.02" r="6.2" fill="#3db5cf"/><text x="1239.75" y="93.37" fill="#0c3340" textLength="6.3" lengthAdjust="spacingAndGlyphs">58</text><circle cx="1254.25" cy="90.02" r="6.2" fill="#3db5cf"/><text x="1254.25" y="93.37" fill="#0c3340" textLength="6.3" lengthAdjust="spacingAndGlyphs">57</text><circle cx="1268.75" cy="90.02" r="6.2" fill="#3db5cf"/><text x="1268.75" y="93.37" fill="#0c3340" textLength="6.3" lengthAdjust="spacingAndGlyphs">56</text><circle cx="1283.25" cy="90.02" r="6.2" fill="#3db5cf"/><text x="1283.25" y="93.37" fill="#0c3340" textLength="6.3" lengthAdjust="spacingAndGlyphs">55</text><circle cx="1297.75" cy="90.02" r="6.2" fill="#3db5cf"/><text x="1297.75" y="93.37" fill="#0c3340" textLength="6.3" lengthAdjust="spacingAndGlyphs">54</text><circle cx="1312.25" cy="90.02" r="6.2" fill="#3db5cf"/><text x="1312.25" y="93.37" fill="#0c3340" textLength="6.3" lengthAdjust="spacingAndGlyphs">53</text><circle cx="1326.75" cy="90.02" r="6.2" fill="#3db5cf"/><text x="1326.75" y="93.37" fill="#0c3340" textLength="6.3" lengthAdjust="spacingAndGlyphs">52</text><circle cx="1341.25" cy="90.02" r="6.2" fill="#3db5cf"/><text x="1341.25" y="93.37" fill="#0c3340" textLength="6.3" lengthAdjust="spacingAndGlyphs">51</text><circle cx="1355.75" cy="90.02" r="6.2" fill="#3db5cf"/><text x="1355.75" y="93.37" fill="#0c3340" textLength="6.3" lengthAdjust="spacingAndGlyphs">50</text><circle cx="1370.25" cy="90.02" r="6.2" fill="#3db5cf"/><text x="1370.25" y="93.37" fill="#0c3340" textLength="6.3" lengthAdjust="spacingAndGlyphs">49</text><circle cx="1384.75" cy="90.02" r="6.2" fill="#3db5cf"/><text x="1384.75" y="93.37" fill="#0c3340" textLength="6.3" lengthAdjust="spacingAndGlyphs">48</text><circle cx="1399.25" cy="90.02" r="6.2" fill="#3db5cf"/><text x="1399.25" y="93.37" fill="#0c3340" textLength="6.3" lengthAdjust="spacingAndGlyphs">47</text><circle cx="1413.75" cy="90.02" r="6.2" fill="#3db5cf"/><text x="1413.75" y="93.37" fill="#0c3340" textLength="6.3" lengthAdjust="spacingAndGlyphs">46</text><circle cx="1428.25" cy="90.02" r="6.2" fill="#3db5cf"/><text x="1428.25" y="93.37" fill="#0c3340" textLength="6.3" lengthAdjust="spacingAndGlyphs">45</text><circle cx="1442.75" cy="90.02" r="6.2" fill="#3db5cf"/><text x="1442.75" y="93.37" fill="#0c3340" textLength="6.3" lengthAdjust="spacingAndGlyphs">44</text><circle cx="1457.25" cy="90.02" r="6.2" fill="#3db5cf"/><text x="1457.25" y="93.37" fill="#0c3340" textLength="6.3" lengthAdjust="spacingAndGlyphs">43</text><circle cx="1471.75" cy="90.02" r="6.2" fill="#3db5cf"/><text x="1471.75" y="93.37" fill="#0c3340" textLength="6.3" lengthAdjust="spacingAndGlyphs">42</text><circle cx="1486.25" cy="90.02" r="6.2" fill="#3db5cf"/><text x="1486.25" y="93.37" fill="#0c3340" textLength="6.3" lengthAdjust="spacingAndGlyphs">41</text><circle cx="1218.00" cy="109.33" r="6.2" fill="#3db5cf"/><text x="1218.00" y="112.68" fill="#0c3340" textLength="6.3" lengthAdjust="spacingAndGlyphs">62</text><circle cx="1232.50" cy="109.33" r="6.2" fill="#3db5cf"/><text x="1232.50" y="112.68" fill="#0c3340" textLength="6.3" lengthAdjust="spacingAndGlyphs">63</text><circle cx="1247.00" cy="109.33" r="6.2" fill="#3db5cf"/><text x="1247.00" y="112.68" fill="#0c3340" textLength="6.3" lengthAdjust="spacingAndGlyphs">64</text><circle cx="1261.50" cy="109.33" r="6.2" fill="#3db5cf"/><text x="1261.50" y="112.68" fill="#0c3340" textLength="6.3" lengthAdjust="spacingAndGlyphs">65</text><circle cx="1276.00" cy="109.33" r="6.2" fill="#3db5cf"/><text x="1276.00" y="112.68" fill="#0c3340" textLength="6.3" lengthAdjust="spacingAndGlyphs">66</text><circle cx="1290.50" cy="109.33" r="6.2" fill="#3db5cf"/><text x="1290.50" y="112.68" fill="#0c3340" textLength="6.3" lengthAdjust="spacingAndGlyphs">67</text><circle cx="1305.00" cy="109.33" r="6.2" fill="#3db5cf"/><text x="1305.00" y="112.68" fill="#0c3340" textLength="6.3" lengthAdjust="spacingAndGlyphs">68</text><circle cx="1319.50" cy="109.33" r="6.2" fill="#3db5cf"/><text x="1319.50" y="112.68" fill="#0c3340" textLength="6.3" lengthAdjust="spacingAndGlyphs">69</text><circle cx="1334.00" cy="109.33" r="6.2" fill="#3db5cf"/><text x="1334.00" y="112.68" fill="#0c3340" textLength="6.3" lengthAdjust="spacingAndGlyphs">70</text><circle cx="1348.50" cy="109.33" r="6.2" fill="#3db5cf"/><text x="1348.50" y="112.68" fill="#0c3340" textLength="6.3" lengthAdjust="spacingAndGlyphs">71</text><circle cx="1363.00" cy="109.33" r="6.2" fill="#3db5cf"/><text x="1363.00" y="112.68" fill="#0c3340" textLength="6.3" lengthAdjust="spacingAndGlyphs">72</text><circle cx="1377.50" cy="109.33" r="6.2" fill="#3db5cf"/><text x="1377.50" y="112.68" fill="#0c3340" textLength="6.3" lengthAdjust="spacingAndGlyphs">73</text><circle cx="1392.00" cy="109.33" r="6.2" fill="#3db5cf"/><text x="1392.00" y="112.68" fill="#0c3340" textLength="6.3" lengthAdjust="spacingAndGlyphs">74</text><circle cx="1406.50" cy="109.33" r="6.2" fill="#3db5cf"/><text x="1406.50" y="112.68" fill="#0c3340" textLength="6.3" lengthAdjust="spacingAndGlyphs">75</text><circle cx="1421.00" cy="109.33" r="6.2" fill="#3db5cf"/><text x="1421.00" y="112.68" fill="#0c3340" textLength="6.3" lengthAdjust="spacingAndGlyphs">76</text><circle cx="1435.50" cy="109.33" r="6.2" fill="#3db5cf"/><text x="1435.50" y="112.68" fill="#0c3340" textLength="6.3" lengthAdjust="spacingAndGlyphs">77</text><circle cx="1450.00" cy="109.33" r="6.2" fill="#3db5cf"/><text x="1450.00" y="112.68" fill="#0c3340" textLength="6.3" lengthAdjust="spacingAndGlyphs">78</text><circle cx="1464.50" cy="109.33" r="6.2" fill="#3db5cf"/><text x="1464.50" y="112.68" fill="#0c3340" textLength="6.3" lengthAdjust="spacingAndGlyphs">79</text><circle cx="1479.00" cy="109.33" r="6.2" fill="#3db5cf"/><text x="1479.00" y="112.68" fill="#0c3340" textLength="6.3" lengthAdjust="spacingAndGlyphs">80</text><circle cx="1493.50" cy="109.33" r="6.2" fill="#3db5cf"/><text x="1493.50" y="112.68" fill="#0c3340" textLength="6.3" lengthAdjust="spacingAndGlyphs">81</text><circle cx="1210.75" cy="128.64" r="6.2" fill="#3db5cf"/><text x="1210.75" y="131.99" fill="#0c3340" textLength="10.3" lengthAdjust="spacingAndGlyphs">105</text><circle cx="1225.25" cy="128.64" r="6.2" fill="#3db5cf"/><text x="1225.25" y="131.99" fill="#0c3340" textLength="10.3" lengthAdjust="spacingAndGlyphs">104</text><circle cx="1239.75" cy="128.64" r="6.2" fill="#3db5cf"/><text x="1239.75" y="131.99" fill="#0c3340" textLength="10.3" lengthAdjust="spacingAndGlyphs">103</text><circle cx="1254.25" cy="128.64" r="6.2" fill="#3db5cf"/><text x="1254.25" y="131.99" fill="#0c3340" textLength="10.3" lengthAdjust="spacingAndGlyphs">102</text><circle cx="1268.75" cy="128.64" r="6.2" fill="#3db5cf"/><text x="1268.75" y="131.99" fill="#0c3340" textLength="10.3" lengthAdjust="spacingAndGlyphs">101</text><circle cx="1283.25" cy="128.64" r="6.2" fill="#3db5cf"/><text x="1283.25" y="131.99" fill="#0c3340" textLength="10.3" lengthAdjust="spacingAndGlyphs">100</text><circle cx="1297.75" cy="128.64" r="6.2" fill="#3db5cf"/><text x="1297.75" y="131.99" fill="#0c3340" textLength="6.3" lengthAdjust="spacingAndGlyphs">99</text><circle cx="1312.25" cy="128.64" r="6.2" fill="#3db5cf"/><text x="1312.25" y="131.99" fill="#0c3340" textLength="6.3" lengthAdjust="spacingAndGlyphs">98</text><circle cx="1326.75" cy="128.64" r="6.2" fill="#3db5cf"/><text x="1326.75" y="131.99" fill="#0c3340" textLength="6.3" lengthAdjust="spacingAndGlyphs">97</text><circle cx="1341.25" cy="128.64" r="6.2" fill="#3db5cf"/><text x="1341.25" y="131.99" fill="#0c3340" textLength="6.3" lengthAdjust="spacingAndGlyphs">96</text><circle cx="1355.75" cy="128.64" r="6.2" fill="#3db5cf"/><text x="1355.75" y="131.99" fill="#0c3340" textLength="6.3" lengthAdjust="spacingAndGlyphs">95</text><circle cx="1370.25" cy="128.64" r="6.2" fill="#3db5cf"/><text x="1370.25" y="131.99" fill="#0c3340" textLength="6.3" lengthAdjust="spacingAndGlyphs">94</text><circle cx="1384.75" cy="128.64" r="6.2" fill="#3db5cf"/><text x="1384.75" y="131.99" fill="#0c3340" textLength="6.3" lengthAdjust="spacingAndGlyphs">93</text><circle cx="1399.25" cy="128.64" r="6.2" fill="#3db5cf"/><text x="1399.25" y="131.99" fill="#0c3340" textLength="6.3" lengthAdjust="spacingAndGlyphs">92</text><circle cx="1413.75" cy="128.64" r="6.2" fill="#3db5cf"/><text x="1413.75" y="131.99" fill="#0c3340" textLength="6.3" lengthAdjust="spacingAndGlyphs">91</text><circle cx="1428.25" cy="128.64" r="6.2" fill="#3db5cf"/><text x="1428.25" y="131.99" fill="#0c3340" textLength="6.3" lengthAdjust="spacingAndGlyphs">90</text><circle cx="1442.75" cy="128.64" r="6.2" fill="#3db5cf"/><text x="1442.75" y="131.99" fill="#0c3340" textLength="6.3" lengthAdjust="spacingAndGlyphs">89</text><circle cx="1457.25" cy="128.64" r="6.2" fill="#3db5cf"/><text x="1457.25" y="131.99" fill="#0c3340" textLength="6.3" lengthAdjust="spacingAndGlyphs">88</text><circle cx="1471.75" cy="128.64" r="6.2" fill="#3db5cf"/><text x="1471.75" y="131.99" fill="#0c3340" textLength="6.3" lengthAdjust="spacingAndGlyphs">87</text><circle cx="1486.25" cy="128.64" r="6.2" fill="#3db5cf"/><text x="1486.25" y="131.99" fill="#0c3340" textLength="6.3" lengthAdjust="spacingAndGlyphs">86</text><circle cx="1500.75" cy="128.64" r="6.2" fill="#3db5cf"/><text x="1500.75" y="131.99" fill="#0c3340" textLength="6.3" lengthAdjust="spacingAndGlyphs">85</text><circle cx="1174.50" cy="147.95" r="6.2" fill="#3db5cf"/><text x="1174.50" y="151.30" fill="#0c3340" textLength="10.3" lengthAdjust="spacingAndGlyphs">108</text><circle cx="1189.00" cy="147.95" r="6.2" fill="#3db5cf"/><text x="1189.00" y="151.30" fill="#0c3340" textLength="10.3" lengthAdjust="spacingAndGlyphs">109</text><circle cx="1203.50" cy="147.95" r="6.2" fill="#3db5cf"/><text x="1203.50" y="151.30" fill="#0c3340" textLength="10.3" lengthAdjust="spacingAndGlyphs">110</text><circle cx="1218.00" cy="147.95" r="6.2" fill="#3db5cf"/><text x="1218.00" y="151.30" fill="#0c3340" textLength="10.3" lengthAdjust="spacingAndGlyphs">111</text><circle cx="1232.50" cy="147.95" r="6.2" fill="#3db5cf"/><text x="1232.50" y="151.30" fill="#0c3340" textLength="10.3" lengthAdjust="spacingAndGlyphs">112</text><circle cx="1247.00" cy="147.95" r="6.2" fill="#3db5cf"/><text x="1247.00" y="151.30" fill="#0c3340" textLength="10.3" lengthAdjust="spacingAndGlyphs">113</text><circle cx="1261.50" cy="147.95" r="6.2" fill="#3db5cf"/><text x="1261.50" y="151.30" fill="#0c3340" textLength="10.3" lengthAdjust="spacingAndGlyphs">114</text><circle cx="1276.00" cy="147.95" r="6.2" fill="#3db5cf"/><text x="1276.00" y="151.30" fill="#0c3340" textLength="10.3" lengthAdjust="spacingAndGlyphs">115</text><circle cx="1290.50" cy="147.95" r="6.2" fill="#3db5cf"/><text x="1290.50" y="151.30" fill="#0c3340" textLength="10.3" lengthAdjust="spacingAndGlyphs">116</text><circle cx="1305.00" cy="147.95" r="6.2" fill="#3db5cf"/><text x="1305.00" y="151.30" fill="#0c3340" textLength="10.3" lengthAdjust="spacingAndGlyphs">117</text><circle cx="1319.50" cy="147.95" r="6.2" fill="#3db5cf"/><text x="1319.50" y="151.30" fill="#0c3340" textLength="10.3" lengthAdjust="spacingAndGlyphs">118</text><circle cx="1334.00" cy="147.95" r="6.2" fill="#3db5cf"/><text x="1334.00" y="151.30" fill="#0c3340" textLength="10.3" lengthAdjust="spacingAndGlyphs">119</text><circle cx="1348.50" cy="147.95" r="6.2" fill="#3db5cf"/><text x="1348.50" y="151.30" fill="#0c3340" textLength="10.3" lengthAdjust="spacingAndGlyphs">120</text><circle cx="1363.00" cy="147.95" r="6.2" fill="#3db5cf"/><text x="1363.00" y="151.30" fill="#0c3340" textLength="10.3" lengthAdjust="spacingAndGlyphs">121</text><circle cx="1377.50" cy="147.95" r="6.2" fill="#3db5cf"/><text x="1377.50" y="151.30" fill="#0c3340" textLength="10.3" lengthAdjust="spacingAndGlyphs">122</text><circle cx="1392.00" cy="147.95" r="6.2" fill="#3db5cf"/><text x="1392.00" y="151.30" fill="#0c3340" textLength="10.3" lengthAdjust="spacingAndGlyphs">123</text><circle cx="1406.50" cy="147.95" r="6.2" fill="#3db5cf"/><text x="1406.50" y="151.30" fill="#0c3340" textLength="10.3" lengthAdjust="spacingAndGlyphs">124</text><circle cx="1421.00" cy="147.95" r="6.2" fill="#3db5cf"/><text x="1421.00" y="151.30" fill="#0c3340" textLength="10.3" lengthAdjust="spacingAndGlyphs">125</text><circle cx="1435.50" cy="147.95" r="6.2" fill="#3db5cf"/><text x="1435.50" y="151.30" fill="#0c3340" textLength="10.3" lengthAdjust="spacingAndGlyphs">126</text><circle cx="1450.00" cy="147.95" r="6.2" fill="#3db5cf"/><text x="1450.00" y="151.30" fill="#0c3340" textLength="10.3" lengthAdjust="spacingAndGlyphs">127</text><circle cx="1464.50" cy="147.95" r="6.2" fill="#3db5cf"/><text x="1464.50" y="151.30" fill="#0c3340" textLength="10.3" lengthAdjust="spacingAndGlyphs">128</text><circle cx="1479.00" cy="147.95" r="6.2" fill="#3db5cf"/><text x="1479.00" y="151.30" fill="#0c3340" textLength="10.3" lengthAdjust="spacingAndGlyphs">129</text><circle cx="1493.50" cy="147.95" r="6.2" fill="#3db5cf"/><text x="1493.50" y="151.30" fill="#0c3340" textLength="10.3" lengthAdjust="spacingAndGlyphs">130</text><circle cx="1508.00" cy="147.95" r="6.2" fill="#3db5cf"/><text x="1508.00" y="151.30" fill="#0c3340" textLength="10.3" lengthAdjust="spacingAndGlyphs">131</text><circle cx="1522.50" cy="147.95" r="6.2" fill="#3db5cf"/><text x="1522.50" y="151.30" fill="#0c3340" textLength="10.3" lengthAdjust="spacingAndGlyphs">132</text><circle cx="1537.00" cy="147.95" r="6.2" fill="#3db5cf"/><text x="1537.00" y="151.30" fill="#0c3340" textLength="10.3" lengthAdjust="spacingAndGlyphs">133</text><circle cx="1181.75" cy="167.26" r="6.2" fill="#21828f"/><text x="1181.75" y="170.61" fill="#ffffff" textLength="10.3" lengthAdjust="spacingAndGlyphs">159</text><circle cx="1196.25" cy="167.26" r="6.2" fill="#21828f"/><text x="1196.25" y="170.61" fill="#ffffff" textLength="10.3" lengthAdjust="spacingAndGlyphs">158</text><circle cx="1210.75" cy="167.26" r="6.2" fill="#21828f"/><text x="1210.75" y="170.61" fill="#ffffff" textLength="10.3" lengthAdjust="spacingAndGlyphs">157</text><circle cx="1225.25" cy="167.26" r="6.2" fill="#21828f"/><text x="1225.25" y="170.61" fill="#ffffff" textLength="10.3" lengthAdjust="spacingAndGlyphs">156</text><circle cx="1239.75" cy="167.26" r="6.2" fill="#21828f"/><text x="1239.75" y="170.61" fill="#ffffff" textLength="10.3" lengthAdjust="spacingAndGlyphs">155</text><circle cx="1254.25" cy="167.26" r="6.2" fill="#21828f"/><text x="1254.25" y="170.61" fill="#ffffff" textLength="10.3" lengthAdjust="spacingAndGlyphs">154</text><circle cx="1268.75" cy="167.26" r="6.2" fill="#21828f"/><text x="1268.75" y="170.61" fill="#ffffff" textLength="10.3" lengthAdjust="spacingAndGlyphs">153</text><circle cx="1283.25" cy="167.26" r="6.2" fill="#21828f"/><text x="1283.25" y="170.61" fill="#ffffff" textLength="10.3" lengthAdjust="spacingAndGlyphs">152</text><circle cx="1297.75" cy="167.26" r="6.2" fill="#21828f"/><text x="1297.75" y="170.61" fill="#ffffff" textLength="10.3" lengthAdjust="spacingAndGlyphs">151</text><circle cx="1312.25" cy="167.26" r="6.2" fill="#21828f"/><text x="1312.25" y="170.61" fill="#ffffff" textLength="10.3" lengthAdjust="spacingAndGlyphs">150</text><circle cx="1326.75" cy="167.26" r="6.2" fill="#21828f"/><text x="1326.75" y="170.61" fill="#ffffff" textLength="10.3" lengthAdjust="spacingAndGlyphs">149</text><circle cx="1341.25" cy="167.26" r="6.2" fill="#21828f"/><text x="1341.25" y="170.61" fill="#ffffff" textLength="10.3" lengthAdjust="spacingAndGlyphs">148</text><circle cx="1355.75" cy="167.26" r="6.2" fill="#21828f"/><text x="1355.75" y="170.61" fill="#ffffff" textLength="10.3" lengthAdjust="spacingAndGlyphs">147</text><circle cx="1370.25" cy="167.26" r="6.2" fill="#21828f"/><text x="1370.25" y="170.61" fill="#ffffff" textLength="10.3" lengthAdjust="spacingAndGlyphs">146</text><circle cx="1384.75" cy="167.26" r="6.2" fill="#21828f"/><text x="1384.75" y="170.61" fill="#ffffff" textLength="10.3" lengthAdjust="spacingAndGlyphs">145</text><circle cx="1399.25" cy="167.26" r="6.2" fill="#21828f"/><text x="1399.25" y="170.61" fill="#ffffff" textLength="10.3" lengthAdjust="spacingAndGlyphs">144</text><circle cx="1413.75" cy="167.26" r="6.2" fill="#21828f"/><text x="1413.75" y="170.61" fill="#ffffff" textLength="10.3" lengthAdjust="spacingAndGlyphs">143</text><circle cx="1428.25" cy="167.26" r="6.2" fill="#21828f"/><text x="1428.25" y="170.61" fill="#ffffff" textLength="10.3" lengthAdjust="spacingAndGlyphs">142</text><circle cx="1442.75" cy="167.26" r="6.2" fill="#21828f"/><text x="1442.75" y="170.61" fill="#ffffff" textLength="10.3" lengthAdjust="spacingAndGlyphs">141</text><circle cx="1457.25" cy="167.26" r="6.2" fill="#21828f"/><text x="1457.25" y="170.61" fill="#ffffff" textLength="10.3" lengthAdjust="spacingAndGlyphs">140</text><circle cx="1471.75" cy="167.26" r="6.2" fill="#21828f"/><text x="1471.75" y="170.61" fill="#ffffff" textLength="10.3" lengthAdjust="spacingAndGlyphs">139</text><circle cx="1486.25" cy="167.26" r="6.2" fill="#21828f"/><text x="1486.25" y="170.61" fill="#ffffff" textLength="10.3" lengthAdjust="spacingAndGlyphs">138</text><circle cx="1500.75" cy="167.26" r="6.2" fill="#21828f"/><text x="1500.75" y="170.61" fill="#ffffff" textLength="10.3" lengthAdjust="spacingAndGlyphs">137</text><circle cx="1515.25" cy="167.26" r="6.2" fill="#21828f"/><text x="1515.25" y="170.61" fill="#ffffff" textLength="10.3" lengthAdjust="spacingAndGlyphs">136</text><circle cx="1529.75" cy="167.26" r="6.2" fill="#21828f"/><text x="1529.75" y="170.61" fill="#ffffff" textLength="10.3" lengthAdjust="spacingAndGlyphs">135</text><circle cx="1544.25" cy="167.26" r="6.2" fill="#21828f"/><text x="1544.25" y="170.61" fill="#ffffff" textLength="10.3" lengthAdjust="spacingAndGlyphs">134</text><circle cx="1174.50" cy="186.57" r="6.2" fill="#21828f"/><text x="1174.50" y="189.92" fill="#ffffff" textLength="10.3" lengthAdjust="spacingAndGlyphs">160</text><circle cx="1189.00" cy="186.57" r="6.2" fill="#21828f"/><text x="1189.00" y="189.92" fill="#ffffff" textLength="10.3" lengthAdjust="spacingAndGlyphs">161</text><circle cx="1203.50" cy="186.57" r="6.2" fill="#21828f"/><text x="1203.50" y="189.92" fill="#ffffff" textLength="10.3" lengthAdjust="spacingAndGlyphs">162</text><circle cx="1218.00" cy="186.57" r="6.2" fill="#21828f"/><text x="1218.00" y="189.92" fill="#ffffff" textLength="10.3" lengthAdjust="spacingAndGlyphs">163</text><circle cx="1232.50" cy="186.57" r="6.2" fill="#21828f"/><text x="1232.50" y="189.92" fill="#ffffff" textLength="10.3" lengthAdjust="spacingAndGlyphs">164</text><circle cx="1247.00" cy="186.57" r="6.2" fill="#21828f"/><text x="1247.00" y="189.92" fill="#ffffff" textLength="10.3" lengthAdjust="spacingAndGlyphs">165</text><circle cx="1261.50" cy="186.57" r="6.2" fill="#21828f"/><text x="1261.50" y="189.92" fill="#ffffff" textLength="10.3" lengthAdjust="spacingAndGlyphs">166</text><circle cx="1276.00" cy="186.57" r="6.2" fill="#21828f"/><text x="1276.00" y="189.92" fill="#ffffff" textLength="10.3" lengthAdjust="spacingAndGlyphs">167</text><circle cx="1290.50" cy="186.57" r="6.2" fill="#21828f"/><text x="1290.50" y="189.92" fill="#ffffff" textLength="10.3" lengthAdjust="spacingAndGlyphs">168</text><circle cx="1305.00" cy="186.57" r="6.2" fill="#21828f"/><text x="1305.00" y="189.92" fill="#ffffff" textLength="10.3" lengthAdjust="spacingAndGlyphs">169</text><circle cx="1319.50" cy="186.57" r="6.2" fill="#21828f"/><text x="1319.50" y="189.92" fill="#ffffff" textLength="10.3" lengthAdjust="spacingAndGlyphs">170</text><circle cx="1334.00" cy="186.57" r="6.2" fill="#21828f"/><text x="1334.00" y="189.92" fill="#ffffff" textLength="10.3" lengthAdjust="spacingAndGlyphs">171</text><circle cx="1348.50" cy="186.57" r="6.2" fill="#21828f"/><text x="1348.50" y="189.92" fill="#ffffff" textLength="10.3" lengthAdjust="spacingAndGlyphs">172</text><circle cx="1363.00" cy="186.57" r="6.2" fill="#21828f"/><text x="1363.00" y="189.92" fill="#ffffff" textLength="10.3" lengthAdjust="spacingAndGlyphs">173</text><circle cx="1377.50" cy="186.57" r="6.2" fill="#21828f"/><text x="1377.50" y="189.92" fill="#ffffff" textLength="10.3" lengthAdjust="spacingAndGlyphs">174</text><circle cx="1392.00" cy="186.57" r="6.2" fill="#21828f"/><text x="1392.00" y="189.92" fill="#ffffff" textLength="10.3" lengthAdjust="spacingAndGlyphs">175</text><circle cx="1406.50" cy="186.57" r="6.2" fill="#21828f"/><text x="1406.50" y="189.92" fill="#ffffff" textLength="10.3" lengthAdjust="spacingAndGlyphs">176</text><circle cx="1421.00" cy="186.57" r="6.2" fill="#21828f"/><text x="1421.00" y="189.92" fill="#ffffff" textLength="10.3" lengthAdjust="spacingAndGlyphs">177</text><circle cx="1435.50" cy="186.57" r="6.2" fill="#21828f"/><text x="1435.50" y="189.92" fill="#ffffff" textLength="10.3" lengthAdjust="spacingAndGlyphs">178</text><circle cx="1450.00" cy="186.57" r="6.2" fill="#21828f"/><text x="1450.00" y="189.92" fill="#ffffff" textLength="10.3" lengthAdjust="spacingAndGlyphs">179</text><circle cx="1464.50" cy="186.57" r="6.2" fill="#21828f"/><text x="1464.50" y="189.92" fill="#ffffff" textLength="10.3" lengthAdjust="spacingAndGlyphs">180</text><circle cx="1479.00" cy="186.57" r="6.2" fill="#21828f"/><text x="1479.00" y="189.92" fill="#ffffff" textLength="10.3" lengthAdjust="spacingAndGlyphs">181</text><circle cx="1493.50" cy="186.57" r="6.2" fill="#21828f"/><text x="1493.50" y="189.92" fill="#ffffff" textLength="10.3" lengthAdjust="spacingAndGlyphs">182</text><circle cx="1508.00" cy="186.57" r="6.2" fill="#21828f"/><text x="1508.00" y="189.92" fill="#ffffff" textLength="10.3" lengthAdjust="spacingAndGlyphs">183</text><circle cx="1522.50" cy="186.57" r="6.2" fill="#21828f"/><text x="1522.50" y="189.92" fill="#ffffff" textLength="10.3" lengthAdjust="spacingAndGlyphs">184</text><circle cx="1537.00" cy="186.57" r="6.2" fill="#21828f"/><text x="1537.00" y="189.92" fill="#ffffff" textLength="10.3" lengthAdjust="spacingAndGlyphs">185</text><circle cx="1181.75" cy="205.88" r="6.2" fill="#21828f"/><text x="1181.75" y="209.23" fill="#ffffff" textLength="10.3" lengthAdjust="spacingAndGlyphs">210</text><circle cx="1196.25" cy="205.88" r="6.2" fill="#21828f"/><text x="1196.25" y="209.23" fill="#ffffff" textLength="10.3" lengthAdjust="spacingAndGlyphs">209</text><circle cx="1210.75" cy="205.88" r="6.2" fill="#21828f"/><text x="1210.75" y="209.23" fill="#ffffff" textLength="10.3" lengthAdjust="spacingAndGlyphs">208</text><circle cx="1225.25" cy="205.88" r="6.2" fill="#21828f"/><text x="1225.25" y="209.23" fill="#ffffff" textLength="10.3" lengthAdjust="spacingAndGlyphs">207</text><circle cx="1239.75" cy="205.88" r="6.2" fill="#21828f"/><text x="1239.75" y="209.23" fill="#ffffff" textLength="10.3" lengthAdjust="spacingAndGlyphs">206</text><circle cx="1254.25" cy="205.88" r="6.2" fill="#21828f"/><text x="1254.25" y="209.23" fill="#ffffff" textLength="10.3" lengthAdjust="spacingAndGlyphs">205</text><circle cx="1268.75" cy="205.88" r="6.2" fill="#21828f"/><text x="1268.75" y="209.23" fill="#ffffff" textLength="10.3" lengthAdjust="spacingAndGlyphs">204</text><circle cx="1283.25" cy="205.88" r="6.2" fill="#21828f"/><text x="1283.25" y="209.23" fill="#ffffff" textLength="10.3" lengthAdjust="spacingAndGlyphs">203</text><circle cx="1297.75" cy="205.88" r="6.2" fill="#21828f"/><text x="1297.75" y="209.23" fill="#ffffff" textLength="10.3" lengthAdjust="spacingAndGlyphs">202</text><circle cx="1312.25" cy="205.88" r="6.2" fill="#21828f"/><text x="1312.25" y="209.23" fill="#ffffff" textLength="10.3" lengthAdjust="spacingAndGlyphs">201</text><circle cx="1326.75" cy="205.88" r="6.2" fill="#21828f"/><text x="1326.75" y="209.23" fill="#ffffff" textLength="10.3" lengthAdjust="spacingAndGlyphs">200</text><circle cx="1341.25" cy="205.88" r="6.2" fill="#21828f"/><text x="1341.25" y="209.23" fill="#ffffff" textLength="10.3" lengthAdjust="spacingAndGlyphs">199</text><circle cx="1355.75" cy="205.88" r="6.2" fill="#21828f"/><text x="1355.75" y="209.23" fill="#ffffff" textLength="10.3" lengthAdjust="spacingAndGlyphs">198</text><circle cx="1370.25" cy="205.88" r="6.2" fill="#21828f"/><text x="1370.25" y="209.23" fill="#ffffff" textLength="10.3" lengthAdjust="spacingAndGlyphs">197</text><circle cx="1384.75" cy="205.88" r="6.2" fill="#21828f"/><text x="1384.75" y="209.23" fill="#ffffff" textLength="10.3" lengthAdjust="spacingAndGlyphs">196</text><circle cx="1399.25" cy="205.88" r="6.2" fill="#21828f"/><text x="1399.25" y="209.23" fill="#ffffff" textLength="10.3" lengthAdjust="spacingAndGlyphs">195</text><circle cx="1413.75" cy="205.88" r="6.2" fill="#21828f"/><text x="1413.75" y="209.23" fill="#ffffff" textLength="10.3" lengthAdjust="spacingAndGlyphs">194</text><circle cx="1428.25" cy="205.88" r="6.2" fill="#21828f"/><text x="1428.25" y="209.23" fill="#ffffff" textLength="10.3" lengthAdjust="spacingAndGlyphs">193</text><circle cx="1442.75" cy="205.88" r="6.2" fill="#21828f"/><text x="1442.75" y="209.23" fill="#ffffff" textLength="10.3" lengthAdjust="spacingAndGlyphs">192</text><circle cx="1457.25" cy="205.88" r="6.2" fill="#21828f"/><text x="1457.25" y="209.23" fill="#ffffff" textLength="10.3" lengthAdjust="spacingAndGlyphs">191</text><circle cx="1471.75" cy="205.88" r="6.2" fill="#21828f"/><text x="1471.75" y="209.23" fill="#ffffff" textLength="10.3" lengthAdjust="spacingAndGlyphs">190</text><circle cx="1486.25" cy="205.88" r="6.2" fill="#21828f"/><text x="1486.25" y="209.23" fill="#ffffff" textLength="10.3" lengthAdjust="spacingAndGlyphs">189</text><circle cx="1500.75" cy="205.88" r="6.2" fill="#21828f"/><text x="1500.75" y="209.23" fill="#ffffff" textLength="10.3" lengthAdjust="spacingAndGlyphs">188</text><circle cx="1515.25" cy="205.88" r="6.2" fill="#21828f"/><text x="1515.25" y="209.23" fill="#ffffff" textLength="10.3" lengthAdjust="spacingAndGlyphs">187</text><circle cx="1529.75" cy="205.88" r="6.2" fill="#21828f"/><text x="1529.75" y="209.23" fill="#ffffff" textLength="10.3" lengthAdjust="spacingAndGlyphs">186</text><circle cx="1174.50" cy="225.19" r="6.2" fill="#21828f"/><text x="1174.50" y="228.54" fill="#ffffff" textLength="6.3" lengthAdjust="spacingAndGlyphs">26</text><circle cx="1189.00" cy="225.19" r="6.2" fill="#21828f"/><text x="1189.00" y="228.54" fill="#ffffff" textLength="6.3" lengthAdjust="spacingAndGlyphs">25</text><circle cx="1203.50" cy="225.19" r="6.2" fill="#21828f"/><text x="1203.50" y="228.54" fill="#ffffff" textLength="6.3" lengthAdjust="spacingAndGlyphs">24</text><circle cx="1218.00" cy="225.19" r="6.2" fill="#21828f"/><text x="1218.00" y="228.54" fill="#ffffff" textLength="6.3" lengthAdjust="spacingAndGlyphs">23</text><circle cx="1232.50" cy="225.19" r="6.2" fill="#21828f"/><text x="1232.50" y="228.54" fill="#ffffff" textLength="6.3" lengthAdjust="spacingAndGlyphs">22</text><circle cx="1247.00" cy="225.19" r="6.2" fill="#21828f"/><text x="1247.00" y="228.54" fill="#ffffff" textLength="6.3" lengthAdjust="spacingAndGlyphs">21</text><circle cx="1261.50" cy="225.19" r="6.2" fill="#21828f"/><text x="1261.50" y="228.54" fill="#ffffff" textLength="6.3" lengthAdjust="spacingAndGlyphs">20</text><circle cx="1276.00" cy="225.19" r="6.2" fill="#21828f"/><text x="1276.00" y="228.54" fill="#ffffff" textLength="6.3" lengthAdjust="spacingAndGlyphs">19</text><circle cx="1290.50" cy="225.19" r="6.2" fill="#21828f"/><text x="1290.50" y="228.54" fill="#ffffff" textLength="6.3" lengthAdjust="spacingAndGlyphs">18</text><circle cx="1305.00" cy="225.19" r="6.2" fill="#21828f"/><text x="1305.00" y="228.54" fill="#ffffff" textLength="6.3" lengthAdjust="spacingAndGlyphs">17</text><circle cx="1319.50" cy="225.19" r="6.2" fill="#21828f"/><text x="1319.50" y="228.54" fill="#ffffff" textLength="6.3" lengthAdjust="spacingAndGlyphs">16</text><circle cx="1334.00" cy="225.19" r="6.2" fill="#21828f"/><text x="1334.00" y="228.54" fill="#ffffff" textLength="6.3" lengthAdjust="spacingAndGlyphs">15</text><circle cx="1348.50" cy="225.19" r="6.2" fill="#21828f"/><text x="1348.50" y="228.54" fill="#ffffff" textLength="6.3" lengthAdjust="spacingAndGlyphs">14</text><circle cx="1363.00" cy="225.19" r="6.2" fill="#21828f"/><text x="1363.00" y="228.54" fill="#ffffff" textLength="6.3" lengthAdjust="spacingAndGlyphs">13</text><circle cx="1377.50" cy="225.19" r="6.2" fill="#21828f"/><text x="1377.50" y="228.54" fill="#ffffff" textLength="6.3" lengthAdjust="spacingAndGlyphs">12</text><circle cx="1392.00" cy="225.19" r="6.2" fill="#21828f"/><text x="1392.00" y="228.54" fill="#ffffff" textLength="6.3" lengthAdjust="spacingAndGlyphs">11</text><circle cx="1406.50" cy="225.19" r="6.2" fill="#21828f"/><text x="1406.50" y="228.54" fill="#ffffff" textLength="6.3" lengthAdjust="spacingAndGlyphs">10</text><circle cx="1421.00" cy="225.19" r="6.2" fill="#21828f"/><text x="1421.00" y="228.54" fill="#ffffff" textLength="3.6" lengthAdjust="spacingAndGlyphs">9</text><circle cx="1435.50" cy="225.19" r="6.2" fill="#21828f"/><text x="1435.50" y="228.54" fill="#ffffff" textLength="3.6" lengthAdjust="spacingAndGlyphs">8</text><circle cx="1450.00" cy="225.19" r="6.2" fill="#21828f"/><text x="1450.00" y="228.54" fill="#ffffff" textLength="3.6" lengthAdjust="spacingAndGlyphs">7</text><circle cx="1464.50" cy="225.19" r="6.2" fill="#21828f"/><text x="1464.50" y="228.54" fill="#ffffff" textLength="3.6" lengthAdjust="spacingAndGlyphs">6</text><circle cx="1479.00" cy="225.19" r="6.2" fill="#21828f"/><text x="1479.00" y="228.54" fill="#ffffff" textLength="3.6" lengthAdjust="spacingAndGlyphs">5</text><circle cx="1493.50" cy="225.19" r="6.2" fill="#21828f"/><text x="1493.50" y="228.54" fill="#ffffff" textLength="3.6" lengthAdjust="spacingAndGlyphs">4</text><circle cx="1508.00" cy="225.19" r="6.2" fill="#21828f"/><text x="1508.00" y="228.54" fill="#ffffff" textLength="3.6" lengthAdjust="spacingAndGlyphs">3</text><circle cx="1522.50" cy="225.19" r="6.2" fill="#21828f"/><text x="1522.50" y="228.54" fill="#ffffff" textLength="3.6" lengthAdjust="spacingAndGlyphs">2</text><circle cx="1537.00" cy="225.19" r="6.2" fill="#21828f"/><text x="1537.00" y="228.54" fill="#ffffff" textLength="3.6" lengthAdjust="spacingAndGlyphs">1</text><circle cx="1181.75" cy="244.50" r="6.2" fill="#21828f"/><text x="1181.75" y="247.85" fill="#ffffff" textLength="6.3" lengthAdjust="spacingAndGlyphs">27</text><circle cx="1196.25" cy="244.50" r="6.2" fill="#21828f"/><text x="1196.25" y="247.85" fill="#ffffff" textLength="6.3" lengthAdjust="spacingAndGlyphs">28</text><circle cx="1210.75" cy="244.50" r="6.2" fill="#21828f"/><text x="1210.75" y="247.85" fill="#ffffff" textLength="6.3" lengthAdjust="spacingAndGlyphs">29</text><circle cx="1225.25" cy="244.50" r="6.2" fill="#21828f"/><text x="1225.25" y="247.85" fill="#ffffff" textLength="6.3" lengthAdjust="spacingAndGlyphs">30</text><circle cx="1239.75" cy="244.50" r="6.2" fill="#21828f"/><text x="1239.75" y="247.85" fill="#ffffff" textLength="6.3" lengthAdjust="spacingAndGlyphs">31</text><circle cx="1254.25" cy="244.50" r="6.2" fill="#21828f"/><text x="1254.25" y="247.85" fill="#ffffff" textLength="6.3" lengthAdjust="spacingAndGlyphs">32</text><circle cx="1268.75" cy="244.50" r="6.2" fill="#21828f"/><text x="1268.75" y="247.85" fill="#ffffff" textLength="6.3" lengthAdjust="spacingAndGlyphs">33</text><circle cx="1283.25" cy="244.50" r="6.2" fill="#21828f"/><text x="1283.25" y="247.85" fill="#ffffff" textLength="6.3" lengthAdjust="spacingAndGlyphs">34</text><circle cx="1297.75" cy="244.50" r="6.2" fill="#21828f"/><text x="1297.75" y="247.85" fill="#ffffff" textLength="6.3" lengthAdjust="spacingAndGlyphs">35</text><circle cx="1312.25" cy="244.50" r="6.2" fill="#21828f"/><text x="1312.25" y="247.85" fill="#ffffff" textLength="6.3" lengthAdjust="spacingAndGlyphs">36</text><circle cx="1326.75" cy="244.50" r="6.2" fill="#21828f"/><text x="1326.75" y="247.85" fill="#ffffff" textLength="6.3" lengthAdjust="spacingAndGlyphs">37</text><circle cx="1341.25" cy="244.50" r="6.2" fill="#21828f"/><text x="1341.25" y="247.85" fill="#ffffff" textLength="6.3" lengthAdjust="spacingAndGlyphs">38</text><circle cx="1355.75" cy="244.50" r="6.2" fill="#21828f"/><text x="1355.75" y="247.85" fill="#ffffff" textLength="6.3" lengthAdjust="spacingAndGlyphs">39</text><circle cx="1370.25" cy="244.50" r="6.2" fill="#21828f"/><text x="1370.25" y="247.85" fill="#ffffff" textLength="6.3" lengthAdjust="spacingAndGlyphs">40</text><circle cx="1384.75" cy="244.50" r="6.2" fill="#21828f"/><text x="1384.75" y="247.85" fill="#ffffff" textLength="6.3" lengthAdjust="spacingAndGlyphs">41</text><circle cx="1399.25" cy="244.50" r="6.2" fill="#21828f"/><text x="1399.25" y="247.85" fill="#ffffff" textLength="6.3" lengthAdjust="spacingAndGlyphs">42</text><circle cx="1413.75" cy="244.50" r="6.2" fill="#21828f"/><text x="1413.75" y="247.85" fill="#ffffff" textLength="6.3" lengthAdjust="spacingAndGlyphs">43</text><circle cx="1428.25" cy="244.50" r="6.2" fill="#21828f"/><text x="1428.25" y="247.85" fill="#ffffff" textLength="6.3" lengthAdjust="spacingAndGlyphs">44</text><circle cx="1442.75" cy="244.50" r="6.2" fill="#21828f"/><text x="1442.75" y="247.85" fill="#ffffff" textLength="6.3" lengthAdjust="spacingAndGlyphs">45</text><circle cx="1457.25" cy="244.50" r="6.2" fill="#21828f"/><text x="1457.25" y="247.85" fill="#ffffff" textLength="6.3" lengthAdjust="spacingAndGlyphs">46</text><circle cx="1471.75" cy="244.50" r="6.2" fill="#21828f"/><text x="1471.75" y="247.85" fill="#ffffff" textLength="6.3" lengthAdjust="spacingAndGlyphs">47</text><circle cx="1486.25" cy="244.50" r="6.2" fill="#21828f"/><text x="1486.25" y="247.85" fill="#ffffff" textLength="6.3" lengthAdjust="spacingAndGlyphs">48</text><circle cx="1500.75" cy="244.50" r="6.2" fill="#21828f"/><text x="1500.75" y="247.85" fill="#ffffff" textLength="6.3" lengthAdjust="spacingAndGlyphs">49</text><circle cx="1515.25" cy="244.50" r="6.2" fill="#21828f"/><text x="1515.25" y="247.85" fill="#ffffff" textLength="6.3" lengthAdjust="spacingAndGlyphs">50</text><circle cx="1529.75" cy="244.50" r="6.2" fill="#21828f"/><text x="1529.75" y="247.85" fill="#ffffff" textLength="6.3" lengthAdjust="spacingAndGlyphs">51</text><circle cx="1544.25" cy="244.50" r="6.2" fill="#21828f"/><text x="1544.25" y="247.85" fill="#ffffff" textLength="6.3" lengthAdjust="spacingAndGlyphs">52</text><circle cx="1174.50" cy="263.81" r="6.2" fill="#21828f"/><text x="1174.50" y="267.16" fill="#ffffff" textLength="6.3" lengthAdjust="spacingAndGlyphs">78</text><circle cx="1189.00" cy="263.81" r="6.2" fill="#21828f"/><text x="1189.00" y="267.16" fill="#ffffff" textLength="6.3" lengthAdjust="spacingAndGlyphs">77</text><circle cx="1203.50" cy="263.81" r="6.2" fill="#21828f"/><text x="1203.50" y="267.16" fill="#ffffff" textLength="6.3" lengthAdjust="spacingAndGlyphs">76</text><circle cx="1218.00" cy="263.81" r="6.2" fill="#21828f"/><text x="1218.00" y="267.16" fill="#ffffff" textLength="6.3" lengthAdjust="spacingAndGlyphs">75</text><circle cx="1232.50" cy="263.81" r="6.2" fill="#21828f"/><text x="1232.50" y="267.16" fill="#ffffff" textLength="6.3" lengthAdjust="spacingAndGlyphs">74</text><circle cx="1247.00" cy="263.81" r="6.2" fill="#21828f"/><text x="1247.00" y="267.16" fill="#ffffff" textLength="6.3" lengthAdjust="spacingAndGlyphs">73</text><circle cx="1261.50" cy="263.81" r="6.2" fill="#21828f"/><text x="1261.50" y="267.16" fill="#ffffff" textLength="6.3" lengthAdjust="spacingAndGlyphs">72</text><circle cx="1276.00" cy="263.81" r="6.2" fill="#21828f"/><text x="1276.00" y="267.16" fill="#ffffff" textLength="6.3" lengthAdjust="spacingAndGlyphs">71</text><circle cx="1290.50" cy="263.81" r="6.2" fill="#21828f"/><text x="1290.50" y="267.16" fill="#ffffff" textLength="6.3" lengthAdjust="spacingAndGlyphs">70</text><circle cx="1305.00" cy="263.81" r="6.2" fill="#21828f"/><text x="1305.00" y="267.16" fill="#ffffff" textLength="6.3" lengthAdjust="spacingAndGlyphs">69</text><circle cx="1319.50" cy="263.81" r="6.2" fill="#21828f"/><text x="1319.50" y="267.16" fill="#ffffff" textLength="6.3" lengthAdjust="spacingAndGlyphs">68</text><circle cx="1334.00" cy="263.81" r="6.2" fill="#21828f"/><text x="1334.00" y="267.16" fill="#ffffff" textLength="6.3" lengthAdjust="spacingAndGlyphs">67</text><circle cx="1348.50" cy="263.81" r="6.2" fill="#21828f"/><text x="1348.50" y="267.16" fill="#ffffff" textLength="6.3" lengthAdjust="spacingAndGlyphs">66</text><circle cx="1363.00" cy="263.81" r="6.2" fill="#21828f"/><text x="1363.00" y="267.16" fill="#ffffff" textLength="6.3" lengthAdjust="spacingAndGlyphs">65</text><circle cx="1377.50" cy="263.81" r="6.2" fill="#21828f"/><text x="1377.50" y="267.16" fill="#ffffff" textLength="6.3" lengthAdjust="spacingAndGlyphs">64</text><circle cx="1392.00" cy="263.81" r="6.2" fill="#21828f"/><text x="1392.00" y="267.16" fill="#ffffff" textLength="6.3" lengthAdjust="spacingAndGlyphs">63</text><circle cx="1406.50" cy="263.81" r="6.2" fill="#21828f"/><text x="1406.50" y="267.16" fill="#ffffff" textLength="6.3" lengthAdjust="spacingAndGlyphs">62</text><circle cx="1421.00" cy="263.81" r="6.2" fill="#21828f"/><text x="1421.00" y="267.16" fill="#ffffff" textLength="6.3" lengthAdjust="spacingAndGlyphs">61</text><circle cx="1435.50" cy="263.81" r="6.2" fill="#21828f"/><text x="1435.50" y="267.16" fill="#ffffff" textLength="6.3" lengthAdjust="spacingAndGlyphs">60</text><circle cx="1450.00" cy="263.81" r="6.2" fill="#21828f"/><text x="1450.00" y="267.16" fill="#ffffff" textLength="6.3" lengthAdjust="spacingAndGlyphs">59</text><circle cx="1464.50" cy="263.81" r="6.2" fill="#21828f"/><text x="1464.50" y="267.16" fill="#ffffff" textLength="6.3" lengthAdjust="spacingAndGlyphs">58</text><circle cx="1479.00" cy="263.81" r="6.2" fill="#21828f"/><text x="1479.00" y="267.16" fill="#ffffff" textLength="6.3" lengthAdjust="spacingAndGlyphs">57</text><circle cx="1493.50" cy="263.81" r="6.2" fill="#21828f"/><text x="1493.50" y="267.16" fill="#ffffff" textLength="6.3" lengthAdjust="spacingAndGlyphs">56</text><circle cx="1508.00" cy="263.81" r="6.2" fill="#21828f"/><text x="1508.00" y="267.16" fill="#ffffff" textLength="6.3" lengthAdjust="spacingAndGlyphs">55</text><circle cx="1522.50" cy="263.81" r="6.2" fill="#21828f"/><text x="1522.50" y="267.16" fill="#ffffff" textLength="6.3" lengthAdjust="spacingAndGlyphs">54</text><circle cx="1537.00" cy="263.81" r="6.2" fill="#21828f"/><text x="1537.00" y="267.16" fill="#ffffff" textLength="6.3" lengthAdjust="spacingAndGlyphs">53</text><circle cx="1181.75" cy="283.12" r="6.2" fill="#21828f"/><text x="1181.75" y="286.47" fill="#ffffff" textLength="6.3" lengthAdjust="spacingAndGlyphs">79</text><circle cx="1196.25" cy="283.12" r="6.2" fill="#21828f"/><text x="1196.25" y="286.47" fill="#ffffff" textLength="6.3" lengthAdjust="spacingAndGlyphs">80</text><circle cx="1210.75" cy="283.12" r="6.2" fill="#21828f"/><text x="1210.75" y="286.47" fill="#ffffff" textLength="6.3" lengthAdjust="spacingAndGlyphs">81</text><circle cx="1225.25" cy="283.12" r="6.2" fill="#21828f"/><text x="1225.25" y="286.47" fill="#ffffff" textLength="6.3" lengthAdjust="spacingAndGlyphs">82</text><circle cx="1239.75" cy="283.12" r="6.2" fill="#21828f"/><text x="1239.75" y="286.47" fill="#ffffff" textLength="6.3" lengthAdjust="spacingAndGlyphs">83</text><circle cx="1254.25" cy="283.12" r="6.2" fill="#21828f"/><text x="1254.25" y="286.47" fill="#ffffff" textLength="6.3" lengthAdjust="spacingAndGlyphs">84</text><circle cx="1268.75" cy="283.12" r="6.2" fill="#21828f"/><text x="1268.75" y="286.47" fill="#ffffff" textLength="6.3" lengthAdjust="spacingAndGlyphs">85</text><circle cx="1283.25" cy="283.12" r="6.2" fill="#21828f"/><text x="1283.25" y="286.47" fill="#ffffff" textLength="6.3" lengthAdjust="spacingAndGlyphs">86</text><circle cx="1297.75" cy="283.12" r="6.2" fill="#21828f"/><text x="1297.75" y="286.47" fill="#ffffff" textLength="6.3" lengthAdjust="spacingAndGlyphs">87</text><circle cx="1312.25" cy="283.12" r="6.2" fill="#21828f"/><text x="1312.25" y="286.47" fill="#ffffff" textLength="6.3" lengthAdjust="spacingAndGlyphs">88</text><circle cx="1326.75" cy="283.12" r="6.2" fill="#21828f"/><text x="1326.75" y="286.47" fill="#ffffff" textLength="6.3" lengthAdjust="spacingAndGlyphs">89</text><circle cx="1341.25" cy="283.12" r="6.2" fill="#21828f"/><text x="1341.25" y="286.47" fill="#ffffff" textLength="6.3" lengthAdjust="spacingAndGlyphs">90</text><circle cx="1355.75" cy="283.12" r="6.2" fill="#21828f"/><text x="1355.75" y="286.47" fill="#ffffff" textLength="6.3" lengthAdjust="spacingAndGlyphs">91</text><circle cx="1370.25" cy="283.12" r="6.2" fill="#21828f"/><text x="1370.25" y="286.47" fill="#ffffff" textLength="6.3" lengthAdjust="spacingAndGlyphs">92</text><circle cx="1384.75" cy="283.12" r="6.2" fill="#21828f"/><text x="1384.75" y="286.47" fill="#ffffff" textLength="6.3" lengthAdjust="spacingAndGlyphs">93</text><circle cx="1399.25" cy="283.12" r="6.2" fill="#21828f"/><text x="1399.25" y="286.47" fill="#ffffff" textLength="6.3" lengthAdjust="spacingAndGlyphs">94</text><circle cx="1413.75" cy="283.12" r="6.2" fill="#21828f"/><text x="1413.75" y="286.47" fill="#ffffff" textLength="6.3" lengthAdjust="spacingAndGlyphs">95</text><circle cx="1428.25" cy="283.12" r="6.2" fill="#21828f"/><text x="1428.25" y="286.47" fill="#ffffff" textLength="6.3" lengthAdjust="spacingAndGlyphs">96</text><circle cx="1442.75" cy="283.12" r="6.2" fill="#21828f"/><text x="1442.75" y="286.47" fill="#ffffff" textLength="6.3" lengthAdjust="spacingAndGlyphs">97</text><circle cx="1457.25" cy="283.12" r="6.2" fill="#21828f"/><text x="1457.25" y="286.47" fill="#ffffff" textLength="6.3" lengthAdjust="spacingAndGlyphs">98</text><circle cx="1471.75" cy="283.12" r="6.2" fill="#21828f"/><text x="1471.75" y="286.47" fill="#ffffff" textLength="6.3" lengthAdjust="spacingAndGlyphs">99</text><circle cx="1486.25" cy="283.12" r="6.2" fill="#21828f"/><text x="1486.25" y="286.47" fill="#ffffff" textLength="10.3" lengthAdjust="spacingAndGlyphs">100</text><circle cx="1500.75" cy="283.12" r="6.2" fill="#21828f"/><text x="1500.75" y="286.47" fill="#ffffff" textLength="10.3" lengthAdjust="spacingAndGlyphs">101</text><circle cx="1515.25" cy="283.12" r="6.2" fill="#21828f"/><text x="1515.25" y="286.47" fill="#ffffff" textLength="10.3" lengthAdjust="spacingAndGlyphs">102</text><circle cx="1529.75" cy="283.12" r="6.2" fill="#21828f"/><text x="1529.75" y="286.47" fill="#ffffff" textLength="10.3" lengthAdjust="spacingAndGlyphs">103</text><circle cx="1544.25" cy="283.12" r="6.2" fill="#21828f"/><text x="1544.25" y="286.47" fill="#ffffff" textLength="10.3" lengthAdjust="spacingAndGlyphs">104</text><circle cx="1174.50" cy="302.43" r="6.2" fill="#21828f"/><text x="1174.50" y="305.78" fill="#ffffff" textLength="10.3" lengthAdjust="spacingAndGlyphs">130</text><circle cx="1189.00" cy="302.43" r="6.2" fill="#21828f"/><text x="1189.00" y="305.78" fill="#ffffff" textLength="10.3" lengthAdjust="spacingAndGlyphs">129</text><circle cx="1203.50" cy="302.43" r="6.2" fill="#21828f"/><text x="1203.50" y="305.78" fill="#ffffff" textLength="10.3" lengthAdjust="spacingAndGlyphs">128</text><circle cx="1218.00" cy="302.43" r="6.2" fill="#21828f"/><text x="1218.00" y="305.78" fill="#ffffff" textLength="10.3" lengthAdjust="spacingAndGlyphs">127</text><circle cx="1232.50" cy="302.43" r="6.2" fill="#21828f"/><text x="1232.50" y="305.78" fill="#ffffff" textLength="10.3" lengthAdjust="spacingAndGlyphs">126</text><circle cx="1247.00" cy="302.43" r="6.2" fill="#21828f"/><text x="1247.00" y="305.78" fill="#ffffff" textLength="10.3" lengthAdjust="spacingAndGlyphs">125</text><circle cx="1261.50" cy="302.43" r="6.2" fill="#21828f"/><text x="1261.50" y="305.78" fill="#ffffff" textLength="10.3" lengthAdjust="spacingAndGlyphs">124</text><circle cx="1276.00" cy="302.43" r="6.2" fill="#21828f"/><text x="1276.00" y="305.78" fill="#ffffff" textLength="10.3" lengthAdjust="spacingAndGlyphs">123</text><circle cx="1290.50" cy="302.43" r="6.2" fill="#21828f"/><text x="1290.50" y="305.78" fill="#ffffff" textLength="10.3" lengthAdjust="spacingAndGlyphs">122</text><circle cx="1305.00" cy="302.43" r="6.2" fill="#21828f"/><text x="1305.00" y="305.78" fill="#ffffff" textLength="10.3" lengthAdjust="spacingAndGlyphs">121</text><circle cx="1319.50" cy="302.43" r="6.2" fill="#21828f"/><text x="1319.50" y="305.78" fill="#ffffff" textLength="10.3" lengthAdjust="spacingAndGlyphs">120</text><circle cx="1334.00" cy="302.43" r="6.2" fill="#21828f"/><text x="1334.00" y="305.78" fill="#ffffff" textLength="10.3" lengthAdjust="spacingAndGlyphs">119</text><circle cx="1348.50" cy="302.43" r="6.2" fill="#21828f"/><text x="1348.50" y="305.78" fill="#ffffff" textLength="10.3" lengthAdjust="spacingAndGlyphs">118</text><circle cx="1363.00" cy="302.43" r="6.2" fill="#21828f"/><text x="1363.00" y="305.78" fill="#ffffff" textLength="10.3" lengthAdjust="spacingAndGlyphs">117</text><circle cx="1377.50" cy="302.43" r="6.2" fill="#21828f"/><text x="1377.50" y="305.78" fill="#ffffff" textLength="10.3" lengthAdjust="spacingAndGlyphs">116</text><circle cx="1392.00" cy="302.43" r="6.2" fill="#21828f"/><text x="1392.00" y="305.78" fill="#ffffff" textLength="10.3" lengthAdjust="spacingAndGlyphs">115</text><circle cx="1406.50" cy="302.43" r="6.2" fill="#21828f"/><text x="1406.50" y="305.78" fill="#ffffff" textLength="10.3" lengthAdjust="spacingAndGlyphs">114</text><circle cx="1421.00" cy="302.43" r="6.2" fill="#21828f"/><text x="1421.00" y="305.78" fill="#ffffff" textLength="10.3" lengthAdjust="spacingAndGlyphs">113</text><circle cx="1435.50" cy="302.43" r="6.2" fill="#21828f"/><text x="1435.50" y="305.78" fill="#ffffff" textLength="10.3" lengthAdjust="spacingAndGlyphs">112</text><circle cx="1450.00" cy="302.43" r="6.2" fill="#21828f"/><text x="1450.00" y="305.78" fill="#ffffff" textLength="10.3" lengthAdjust="spacingAndGlyphs">111</text><circle cx="1464.50" cy="302.43" r="6.2" fill="#21828f"/><text x="1464.50" y="305.78" fill="#ffffff" textLength="10.3" lengthAdjust="spacingAndGlyphs">110</text><circle cx="1479.00" cy="302.43" r="6.2" fill="#21828f"/><text x="1479.00" y="305.78" fill="#ffffff" textLength="10.3" lengthAdjust="spacingAndGlyphs">109</text><circle cx="1493.50" cy="302.43" r="6.2" fill="#21828f"/><text x="1493.50" y="305.78" fill="#ffffff" textLength="10.3" lengthAdjust="spacingAndGlyphs">108</text><circle cx="1508.00" cy="302.43" r="6.2" fill="#21828f"/><text x="1508.00" y="305.78" fill="#ffffff" textLength="10.3" lengthAdjust="spacingAndGlyphs">107</text><circle cx="1522.50" cy="302.43" r="6.2" fill="#21828f"/><text x="1522.50" y="305.78" fill="#ffffff" textLength="10.3" lengthAdjust="spacingAndGlyphs">106</text><circle cx="1537.00" cy="302.43" r="6.2" fill="#21828f"/><text x="1537.00" y="305.78" fill="#ffffff" textLength="10.3" lengthAdjust="spacingAndGlyphs">105</text><circle cx="1167.25" cy="321.74" r="6.2" fill="#0b0b0b"/><text x="1167.25" y="325.09" fill="#ffffff" textLength="10.3" lengthAdjust="spacingAndGlyphs">131</text><circle cx="1181.75" cy="321.74" r="6.2" fill="#0b0b0b"/><text x="1181.75" y="325.09" fill="#ffffff" textLength="10.3" lengthAdjust="spacingAndGlyphs">132</text><circle cx="1196.25" cy="321.74" r="6.2" fill="#0b0b0b"/><text x="1196.25" y="325.09" fill="#ffffff" textLength="10.3" lengthAdjust="spacingAndGlyphs">133</text><circle cx="1210.75" cy="321.74" r="6.2" fill="#0b0b0b"/><text x="1210.75" y="325.09" fill="#ffffff" textLength="10.3" lengthAdjust="spacingAndGlyphs">134</text><circle cx="1225.25" cy="321.74" r="6.2" fill="#0b0b0b"/><text x="1225.25" y="325.09" fill="#ffffff" textLength="10.3" lengthAdjust="spacingAndGlyphs">135</text><circle cx="1239.75" cy="321.74" r="6.2" fill="#0b0b0b"/><text x="1239.75" y="325.09" fill="#ffffff" textLength="10.3" lengthAdjust="spacingAndGlyphs">136</text><circle cx="1254.25" cy="321.74" r="6.2" fill="#0b0b0b"/><text x="1254.25" y="325.09" fill="#ffffff" textLength="10.3" lengthAdjust="spacingAndGlyphs">137</text><circle cx="1268.75" cy="321.74" r="6.2" fill="#0b0b0b"/><text x="1268.75" y="325.09" fill="#ffffff" textLength="10.3" lengthAdjust="spacingAndGlyphs">138</text><circle cx="1283.25" cy="321.74" r="6.2" fill="#0b0b0b"/><text x="1283.25" y="325.09" fill="#ffffff" textLength="10.3" lengthAdjust="spacingAndGlyphs">139</text><circle cx="1297.75" cy="321.74" r="6.2" fill="#0b0b0b"/><text x="1297.75" y="325.09" fill="#ffffff" textLength="10.3" lengthAdjust="spacingAndGlyphs">140</text><circle cx="1312.25" cy="321.74" r="6.2" fill="#0b0b0b"/><text x="1312.25" y="325.09" fill="#ffffff" textLength="10.3" lengthAdjust="spacingAndGlyphs">141</text><circle cx="1326.75" cy="321.74" r="6.2" fill="#0b0b0b"/><text x="1326.75" y="325.09" fill="#ffffff" textLength="10.3" lengthAdjust="spacingAndGlyphs">142</text><circle cx="1341.25" cy="321.74" r="6.2" fill="#0b0b0b"/><text x="1341.25" y="325.09" fill="#ffffff" textLength="10.3" lengthAdjust="spacingAndGlyphs">143</text><circle cx="1355.75" cy="321.74" r="6.2" fill="#0b0b0b"/><text x="1355.75" y="325.09" fill="#ffffff" textLength="10.3" lengthAdjust="spacingAndGlyphs">144</text><circle cx="1370.25" cy="321.74" r="6.2" fill="#0b0b0b"/><text x="1370.25" y="325.09" fill="#ffffff" textLength="10.3" lengthAdjust="spacingAndGlyphs">145</text><circle cx="1384.75" cy="321.74" r="6.2" fill="#0b0b0b"/><text x="1384.75" y="325.09" fill="#ffffff" textLength="10.3" lengthAdjust="spacingAndGlyphs">146</text><circle cx="1399.25" cy="321.74" r="6.2" fill="#0b0b0b"/><text x="1399.25" y="325.09" fill="#ffffff" textLength="10.3" lengthAdjust="spacingAndGlyphs">147</text><circle cx="1413.75" cy="321.74" r="6.2" fill="#0b0b0b"/><text x="1413.75" y="325.09" fill="#ffffff" textLength="10.3" lengthAdjust="spacingAndGlyphs">148</text><circle cx="1428.25" cy="321.74" r="6.2" fill="#0b0b0b"/><text x="1428.25" y="325.09" fill="#ffffff" textLength="10.3" lengthAdjust="spacingAndGlyphs">149</text><circle cx="1442.75" cy="321.74" r="6.2" fill="#0b0b0b"/><text x="1442.75" y="325.09" fill="#ffffff" textLength="10.3" lengthAdjust="spacingAndGlyphs">150</text><circle cx="1457.25" cy="321.74" r="6.2" fill="#0b0b0b"/><text x="1457.25" y="325.09" fill="#ffffff" textLength="10.3" lengthAdjust="spacingAndGlyphs">151</text><circle cx="1471.75" cy="321.74" r="6.2" fill="#0b0b0b"/><text x="1471.75" y="325.09" fill="#ffffff" textLength="10.3" lengthAdjust="spacingAndGlyphs">152</text><circle cx="1486.25" cy="321.74" r="6.2" fill="#0b0b0b"/><text x="1486.25" y="325.09" fill="#ffffff" textLength="10.3" lengthAdjust="spacingAndGlyphs">153</text><circle cx="1500.75" cy="321.74" r="6.2" fill="#0b0b0b"/><text x="1500.75" y="325.09" fill="#ffffff" textLength="10.3" lengthAdjust="spacingAndGlyphs">154</text><circle cx="1515.25" cy="321.74" r="6.2" fill="#0b0b0b"/><text x="1515.25" y="325.09" fill="#ffffff" textLength="10.3" lengthAdjust="spacingAndGlyphs">155</text><circle cx="1529.75" cy="321.74" r="6.2" fill="#0b0b0b"/><text x="1529.75" y="325.09" fill="#ffffff" textLength="10.3" lengthAdjust="spacingAndGlyphs">156</text><circle cx="1544.25" cy="321.74" r="6.2" fill="#0b0b0b"/><text x="1544.25" y="325.09" fill="#ffffff" textLength="10.3" lengthAdjust="spacingAndGlyphs">157</text><circle cx="1189.00" cy="341.05" r="6.2" fill="#0b0b0b"/><text x="1189.00" y="344.40" fill="#ffffff" textLength="6.3" lengthAdjust="spacingAndGlyphs">24</text><circle cx="1203.50" cy="341.05" r="6.2" fill="#0b0b0b"/><text x="1203.50" y="344.40" fill="#ffffff" textLength="6.3" lengthAdjust="spacingAndGlyphs">23</text><circle cx="1218.00" cy="341.05" r="6.2" fill="#0b0b0b"/><text x="1218.00" y="344.40" fill="#ffffff" textLength="6.3" lengthAdjust="spacingAndGlyphs">22</text><circle cx="1232.50" cy="341.05" r="6.2" fill="#0b0b0b"/><text x="1232.50" y="344.40" fill="#ffffff" textLength="6.3" lengthAdjust="spacingAndGlyphs">21</text><circle cx="1247.00" cy="341.05" r="6.2" fill="#0b0b0b"/><text x="1247.00" y="344.40" fill="#ffffff" textLength="6.3" lengthAdjust="spacingAndGlyphs">20</text><circle cx="1261.50" cy="341.05" r="6.2" fill="#0b0b0b"/><text x="1261.50" y="344.40" fill="#ffffff" textLength="6.3" lengthAdjust="spacingAndGlyphs">19</text><circle cx="1276.00" cy="341.05" r="6.2" fill="#0b0b0b"/><text x="1276.00" y="344.40" fill="#ffffff" textLength="6.3" lengthAdjust="spacingAndGlyphs">18</text><circle cx="1290.50" cy="341.05" r="6.2" fill="#0b0b0b"/><text x="1290.50" y="344.40" fill="#ffffff" textLength="6.3" lengthAdjust="spacingAndGlyphs">17</text><circle cx="1305.00" cy="341.05" r="6.2" fill="#0b0b0b"/><text x="1305.00" y="344.40" fill="#ffffff" textLength="6.3" lengthAdjust="spacingAndGlyphs">16</text><circle cx="1406.50" cy="341.05" r="6.2" fill="#0b0b0b"/><text x="1406.50" y="344.40" fill="#ffffff" textLength="3.6" lengthAdjust="spacingAndGlyphs">9</text><circle cx="1421.00" cy="341.05" r="6.2" fill="#0b0b0b"/><text x="1421.00" y="344.40" fill="#ffffff" textLength="3.6" lengthAdjust="spacingAndGlyphs">8</text><circle cx="1435.50" cy="341.05" r="6.2" fill="#0b0b0b"/><text x="1435.50" y="344.40" fill="#ffffff" textLength="3.6" lengthAdjust="spacingAndGlyphs">7</text><circle cx="1450.00" cy="341.05" r="6.2" fill="#0b0b0b"/><text x="1450.00" y="344.40" fill="#ffffff" textLength="3.6" lengthAdjust="spacingAndGlyphs">6</text><circle cx="1464.50" cy="341.05" r="6.2" fill="#0b0b0b"/><text x="1464.50" y="344.40" fill="#ffffff" textLength="3.6" lengthAdjust="spacingAndGlyphs">5</text><circle cx="1479.00" cy="341.05" r="6.2" fill="#0b0b0b"/><text x="1479.00" y="344.40" fill="#ffffff" textLength="3.6" lengthAdjust="spacingAndGlyphs">4</text><circle cx="1493.50" cy="341.05" r="6.2" fill="#0b0b0b"/><text x="1493.50" y="344.40" fill="#ffffff" textLength="3.6" lengthAdjust="spacingAndGlyphs">3</text><circle cx="1508.00" cy="341.05" r="6.2" fill="#0b0b0b"/><text x="1508.00" y="344.40" fill="#ffffff" textLength="3.6" lengthAdjust="spacingAndGlyphs">2</text><circle cx="1522.50" cy="341.05" r="6.2" fill="#0b0b0b"/><text x="1522.50" y="344.40" fill="#ffffff" textLength="3.6" lengthAdjust="spacingAndGlyphs">1</text><circle cx="1189.00" cy="360.36" r="6.2" fill="#0b0b0b"/><text x="1189.00" y="363.71" fill="#ffffff" textLength="6.3" lengthAdjust="spacingAndGlyphs">25</text><circle cx="1203.50" cy="360.36" r="6.2" fill="#0b0b0b"/><text x="1203.50" y="363.71" fill="#ffffff" textLength="6.3" lengthAdjust="spacingAndGlyphs">26</text><circle cx="1218.00" cy="360.36" r="6.2" fill="#0b0b0b"/><text x="1218.00" y="363.71" fill="#ffffff" textLength="6.3" lengthAdjust="spacingAndGlyphs">27</text><circle cx="1232.50" cy="360.36" r="6.2" fill="#0b0b0b"/><text x="1232.50" y="363.71" fill="#ffffff" textLength="6.3" lengthAdjust="spacingAndGlyphs">28</text><circle cx="1247.00" cy="360.36" r="6.2" fill="#0b0b0b"/><text x="1247.00" y="363.71" fill="#ffffff" textLength="6.3" lengthAdjust="spacingAndGlyphs">29</text><circle cx="1261.50" cy="360.36" r="6.2" fill="#0b0b0b"/><text x="1261.50" y="363.71" fill="#ffffff" textLength="6.3" lengthAdjust="spacingAndGlyphs">30</text><circle cx="1276.00" cy="360.36" r="6.2" fill="#0b0b0b"/><text x="1276.00" y="363.71" fill="#ffffff" textLength="6.3" lengthAdjust="spacingAndGlyphs">31</text><circle cx="1290.50" cy="360.36" r="6.2" fill="#0b0b0b"/><text x="1290.50" y="363.71" fill="#ffffff" textLength="6.3" lengthAdjust="spacingAndGlyphs">32</text><circle cx="1305.00" cy="360.36" r="6.2" fill="#0b0b0b"/><text x="1305.00" y="363.71" fill="#ffffff" textLength="6.3" lengthAdjust="spacingAndGlyphs">33</text><circle cx="1406.50" cy="360.36" r="6.2" fill="#0b0b0b"/><text x="1406.50" y="363.71" fill="#ffffff" textLength="6.3" lengthAdjust="spacingAndGlyphs">38</text><circle cx="1421.00" cy="360.36" r="6.2" fill="#0b0b0b"/><text x="1421.00" y="363.71" fill="#ffffff" textLength="6.3" lengthAdjust="spacingAndGlyphs">39</text><circle cx="1435.50" cy="360.36" r="6.2" fill="#0b0b0b"/><text x="1435.50" y="363.71" fill="#ffffff" textLength="6.3" lengthAdjust="spacingAndGlyphs">40</text><circle cx="1450.00" cy="360.36" r="6.2" fill="#0b0b0b"/><text x="1450.00" y="363.71" fill="#ffffff" textLength="6.3" lengthAdjust="spacingAndGlyphs">41</text><circle cx="1464.50" cy="360.36" r="6.2" fill="#0b0b0b"/><text x="1464.50" y="363.71" fill="#ffffff" textLength="6.3" lengthAdjust="spacingAndGlyphs">42</text><circle cx="1479.00" cy="360.36" r="6.2" fill="#0b0b0b"/><text x="1479.00" y="363.71" fill="#ffffff" textLength="6.3" lengthAdjust="spacingAndGlyphs">43</text><circle cx="1493.50" cy="360.36" r="6.2" fill="#0b0b0b"/><text x="1493.50" y="363.71" fill="#ffffff" textLength="6.3" lengthAdjust="spacingAndGlyphs">44</text><circle cx="1508.00" cy="360.36" r="6.2" fill="#0b0b0b"/><text x="1508.00" y="363.71" fill="#ffffff" textLength="6.3" lengthAdjust="spacingAndGlyphs">45</text><circle cx="1522.50" cy="360.36" r="6.2" fill="#0b0b0b"/><text x="1522.50" y="363.71" fill="#ffffff" textLength="6.3" lengthAdjust="spacingAndGlyphs">46</text><circle cx="1225.25" cy="399.00" r="6.2" fill="#3db5cf"/><text x="1225.25" y="402.35" fill="#0c3340" textLength="6.3" lengthAdjust="spacingAndGlyphs">26</text><circle cx="1239.75" cy="402.29" r="6.2" fill="#3db5cf"/><text x="1239.75" y="405.64" fill="#0c3340" textLength="6.3" lengthAdjust="spacingAndGlyphs">25</text><circle cx="1254.25" cy="405.17" r="6.2" fill="#3db5cf"/><text x="1254.25" y="408.52" fill="#0c3340" textLength="6.3" lengthAdjust="spacingAndGlyphs">24</text><circle cx="1268.75" cy="407.66" r="6.2" fill="#3db5cf"/><text x="1268.75" y="411.01" fill="#0c3340" textLength="6.3" lengthAdjust="spacingAndGlyphs">23</text><circle cx="1283.25" cy="409.76" r="6.2" fill="#3db5cf"/><text x="1283.25" y="413.11" fill="#0c3340" textLength="6.3" lengthAdjust="spacingAndGlyphs">22</text><circle cx="1297.75" cy="411.47" r="6.2" fill="#3db5cf"/><text x="1297.75" y="414.82" fill="#0c3340" textLength="6.3" lengthAdjust="spacingAndGlyphs">21</text><circle cx="1312.25" cy="412.80" r="6.2" fill="#3db5cf"/><text x="1312.25" y="416.15" fill="#0c3340" textLength="6.3" lengthAdjust="spacingAndGlyphs">20</text><circle cx="1326.75" cy="413.74" r="6.2" fill="#3db5cf"/><text x="1326.75" y="417.09" fill="#0c3340" textLength="6.3" lengthAdjust="spacingAndGlyphs">19</text><circle cx="1341.25" cy="414.31" r="6.2" fill="#3db5cf"/><text x="1341.25" y="417.66" fill="#0c3340" textLength="6.3" lengthAdjust="spacingAndGlyphs">18</text><circle cx="1355.75" cy="414.50" r="6.2" fill="#3db5cf"/><text x="1355.75" y="417.85" fill="#0c3340" textLength="6.3" lengthAdjust="spacingAndGlyphs">17</text><circle cx="1370.25" cy="414.31" r="6.2" fill="#3db5cf"/><text x="1370.25" y="417.66" fill="#0c3340" textLength="6.3" lengthAdjust="spacingAndGlyphs">16</text><circle cx="1384.75" cy="413.74" r="6.2" fill="#3db5cf"/><text x="1384.75" y="417.09" fill="#0c3340" textLength="6.3" lengthAdjust="spacingAndGlyphs">15</text><circle cx="1399.25" cy="412.80" r="6.2" fill="#3db5cf"/><text x="1399.25" y="416.15" fill="#0c3340" textLength="6.3" lengthAdjust="spacingAndGlyphs">14</text><circle cx="1413.75" cy="411.47" r="6.2" fill="#3db5cf"/><text x="1413.75" y="414.82" fill="#0c3340" textLength="6.3" lengthAdjust="spacingAndGlyphs">13</text><circle cx="1428.25" cy="409.76" r="6.2" fill="#3db5cf"/><text x="1428.25" y="413.11" fill="#0c3340" textLength="6.3" lengthAdjust="spacingAndGlyphs">12</text><circle cx="1442.75" cy="407.66" r="6.2" fill="#3db5cf"/><text x="1442.75" y="411.01" fill="#0c3340" textLength="6.3" lengthAdjust="spacingAndGlyphs">11</text><circle cx="1457.25" cy="405.17" r="6.2" fill="#3db5cf"/><text x="1457.25" y="408.52" fill="#0c3340" textLength="6.3" lengthAdjust="spacingAndGlyphs">10</text><circle cx="1471.75" cy="402.29" r="6.2" fill="#3db5cf"/><text x="1471.75" y="405.64" fill="#0c3340" textLength="3.6" lengthAdjust="spacingAndGlyphs">9</text><circle cx="1486.25" cy="399.00" r="6.2" fill="#3db5cf"/><text x="1486.25" y="402.35" fill="#0c3340" textLength="3.6" lengthAdjust="spacingAndGlyphs">8</text><circle cx="1210.75" cy="412.95" r="6.2" fill="#21828f"/><text x="1210.75" y="416.30" fill="#ffffff" textLength="6.3" lengthAdjust="spacingAndGlyphs">36</text><circle cx="1225.25" cy="416.96" r="6.2" fill="#21828f"/><text x="1225.25" y="420.31" fill="#ffffff" textLength="6.3" lengthAdjust="spacingAndGlyphs">37</text><circle cx="1239.75" cy="420.52" r="6.2" fill="#21828f"/><text x="1239.75" y="423.87" fill="#ffffff" textLength="6.3" lengthAdjust="spacingAndGlyphs">38</text><circle cx="1254.25" cy="423.64" r="6.2" fill="#21828f"/><text x="1254.25" y="426.99" fill="#ffffff" textLength="6.3" lengthAdjust="spacingAndGlyphs">39</text><circle cx="1268.75" cy="426.33" r="6.2" fill="#21828f"/><text x="1268.75" y="429.68" fill="#ffffff" textLength="6.3" lengthAdjust="spacingAndGlyphs">40</text><circle cx="1283.25" cy="428.59" r="6.2" fill="#21828f"/><text x="1283.25" y="431.94" fill="#ffffff" textLength="6.3" lengthAdjust="spacingAndGlyphs">41</text><circle cx="1297.75" cy="430.44" r="6.2" fill="#21828f"/><text x="1297.75" y="433.79" fill="#ffffff" textLength="6.3" lengthAdjust="spacingAndGlyphs">42</text><circle cx="1312.25" cy="431.87" r="6.2" fill="#21828f"/><text x="1312.25" y="435.22" fill="#ffffff" textLength="6.3" lengthAdjust="spacingAndGlyphs">43</text><circle cx="1326.75" cy="432.89" r="6.2" fill="#21828f"/><text x="1326.75" y="436.24" fill="#ffffff" textLength="6.3" lengthAdjust="spacingAndGlyphs">44</text><circle cx="1341.25" cy="433.50" r="6.2" fill="#21828f"/><text x="1341.25" y="436.85" fill="#ffffff" textLength="6.3" lengthAdjust="spacingAndGlyphs">45</text><circle cx="1355.75" cy="433.70" r="6.2" fill="#21828f"/><text x="1355.75" y="437.05" fill="#ffffff" textLength="6.3" lengthAdjust="spacingAndGlyphs">46</text><circle cx="1370.25" cy="433.50" r="6.2" fill="#21828f"/><text x="1370.25" y="436.85" fill="#ffffff" textLength="6.3" lengthAdjust="spacingAndGlyphs">47</text><circle cx="1384.75" cy="432.89" r="6.2" fill="#21828f"/><text x="1384.75" y="436.24" fill="#ffffff" textLength="6.3" lengthAdjust="spacingAndGlyphs">48</text><circle cx="1399.25" cy="431.87" r="6.2" fill="#21828f"/><text x="1399.25" y="435.22" fill="#ffffff" textLength="6.3" lengthAdjust="spacingAndGlyphs">49</text><circle cx="1413.75" cy="430.44" r="6.2" fill="#21828f"/><text x="1413.75" y="433.79" fill="#ffffff" textLength="6.3" lengthAdjust="spacingAndGlyphs">50</text><circle cx="1428.25" cy="428.59" r="6.2" fill="#21828f"/><text x="1428.25" y="431.94" fill="#ffffff" textLength="6.3" lengthAdjust="spacingAndGlyphs">51</text><circle cx="1442.75" cy="426.33" r="6.2" fill="#21828f"/><text x="1442.75" y="429.68" fill="#ffffff" textLength="6.3" lengthAdjust="spacingAndGlyphs">52</text><circle cx="1457.25" cy="423.64" r="6.2" fill="#21828f"/><text x="1457.25" y="426.99" fill="#ffffff" textLength="6.3" lengthAdjust="spacingAndGlyphs">53</text><circle cx="1471.75" cy="420.52" r="6.2" fill="#21828f"/><text x="1471.75" y="423.87" fill="#ffffff" textLength="6.3" lengthAdjust="spacingAndGlyphs">54</text><circle cx="1486.25" cy="416.96" r="6.2" fill="#21828f"/><text x="1486.25" y="420.31" fill="#ffffff" textLength="6.3" lengthAdjust="spacingAndGlyphs">55</text><circle cx="1500.75" cy="412.95" r="6.2" fill="#21828f"/><text x="1500.75" y="416.30" fill="#ffffff" textLength="6.3" lengthAdjust="spacingAndGlyphs">56</text><circle cx="1189.00" cy="425.69" r="6.2" fill="#21828f"/><text x="1189.00" y="429.04" fill="#ffffff" textLength="6.3" lengthAdjust="spacingAndGlyphs">86</text><circle cx="1203.50" cy="430.36" r="6.2" fill="#21828f"/><text x="1203.50" y="433.71" fill="#ffffff" textLength="6.3" lengthAdjust="spacingAndGlyphs">85</text><circle cx="1218.00" cy="434.56" r="6.2" fill="#21828f"/><text x="1218.00" y="437.91" fill="#ffffff" textLength="6.3" lengthAdjust="spacingAndGlyphs">84</text><circle cx="1232.50" cy="438.31" r="6.2" fill="#21828f"/><text x="1232.50" y="441.66" fill="#ffffff" textLength="6.3" lengthAdjust="spacingAndGlyphs">83</text><circle cx="1247.00" cy="441.62" r="6.2" fill="#21828f"/><text x="1247.00" y="444.97" fill="#ffffff" textLength="6.3" lengthAdjust="spacingAndGlyphs">82</text><circle cx="1261.50" cy="444.50" r="6.2" fill="#21828f"/><text x="1261.50" y="447.85" fill="#ffffff" textLength="6.3" lengthAdjust="spacingAndGlyphs">81</text><circle cx="1276.00" cy="446.96" r="6.2" fill="#21828f"/><text x="1276.00" y="450.31" fill="#ffffff" textLength="6.3" lengthAdjust="spacingAndGlyphs">80</text><circle cx="1290.50" cy="449.00" r="6.2" fill="#21828f"/><text x="1290.50" y="452.35" fill="#ffffff" textLength="6.3" lengthAdjust="spacingAndGlyphs">79</text><circle cx="1305.00" cy="450.62" r="6.2" fill="#21828f"/><text x="1305.00" y="453.97" fill="#ffffff" textLength="6.3" lengthAdjust="spacingAndGlyphs">78</text><circle cx="1319.50" cy="451.84" r="6.2" fill="#21828f"/><text x="1319.50" y="455.19" fill="#ffffff" textLength="6.3" lengthAdjust="spacingAndGlyphs">77</text><circle cx="1334.00" cy="452.65" r="6.2" fill="#21828f"/><text x="1334.00" y="456.00" fill="#ffffff" textLength="6.3" lengthAdjust="spacingAndGlyphs">76</text><circle cx="1348.50" cy="453.05" r="6.2" fill="#21828f"/><text x="1348.50" y="456.40" fill="#ffffff" textLength="6.3" lengthAdjust="spacingAndGlyphs">75</text><circle cx="1363.00" cy="453.05" r="6.2" fill="#21828f"/><text x="1363.00" y="456.40" fill="#ffffff" textLength="6.3" lengthAdjust="spacingAndGlyphs">74</text><circle cx="1377.50" cy="452.65" r="6.2" fill="#21828f"/><text x="1377.50" y="456.00" fill="#ffffff" textLength="6.3" lengthAdjust="spacingAndGlyphs">73</text><circle cx="1392.00" cy="451.84" r="6.2" fill="#21828f"/><text x="1392.00" y="455.19" fill="#ffffff" textLength="6.3" lengthAdjust="spacingAndGlyphs">72</text><circle cx="1406.50" cy="450.62" r="6.2" fill="#21828f"/><text x="1406.50" y="453.97" fill="#ffffff" textLength="6.3" lengthAdjust="spacingAndGlyphs">71</text><circle cx="1421.00" cy="449.00" r="6.2" fill="#21828f"/><text x="1421.00" y="452.35" fill="#ffffff" textLength="6.3" lengthAdjust="spacingAndGlyphs">70</text><circle cx="1435.50" cy="446.96" r="6.2" fill="#21828f"/><text x="1435.50" y="450.31" fill="#ffffff" textLength="6.3" lengthAdjust="spacingAndGlyphs">69</text><circle cx="1450.00" cy="444.50" r="6.2" fill="#21828f"/><text x="1450.00" y="447.85" fill="#ffffff" textLength="6.3" lengthAdjust="spacingAndGlyphs">68</text><circle cx="1464.50" cy="441.62" r="6.2" fill="#21828f"/><text x="1464.50" y="444.97" fill="#ffffff" textLength="6.3" lengthAdjust="spacingAndGlyphs">67</text><circle cx="1479.00" cy="438.31" r="6.2" fill="#21828f"/><text x="1479.00" y="441.66" fill="#ffffff" textLength="6.3" lengthAdjust="spacingAndGlyphs">66</text><circle cx="1493.50" cy="434.56" r="6.2" fill="#21828f"/><text x="1493.50" y="437.91" fill="#ffffff" textLength="6.3" lengthAdjust="spacingAndGlyphs">65</text><circle cx="1508.00" cy="430.36" r="6.2" fill="#21828f"/><text x="1508.00" y="433.71" fill="#ffffff" textLength="6.3" lengthAdjust="spacingAndGlyphs">64</text><circle cx="1522.50" cy="425.69" r="6.2" fill="#21828f"/><text x="1522.50" y="429.04" fill="#ffffff" textLength="6.3" lengthAdjust="spacingAndGlyphs">63</text><circle cx="1189.00" cy="446.46" r="6.2" fill="#0b0b0b"/><text x="1189.00" y="449.81" fill="#ffffff" textLength="6.3" lengthAdjust="spacingAndGlyphs">90</text><circle cx="1203.50" cy="450.85" r="6.2" fill="#0b0b0b"/><text x="1203.50" y="454.20" fill="#ffffff" textLength="6.3" lengthAdjust="spacingAndGlyphs">91</text><circle cx="1218.00" cy="454.80" r="6.2" fill="#0b0b0b"/><text x="1218.00" y="458.15" fill="#ffffff" textLength="6.3" lengthAdjust="spacingAndGlyphs">92</text><circle cx="1232.50" cy="458.34" r="6.2" fill="#0b0b0b"/><text x="1232.50" y="461.69" fill="#ffffff" textLength="6.3" lengthAdjust="spacingAndGlyphs">93</text><circle cx="1247.00" cy="461.46" r="6.2" fill="#0b0b0b"/><text x="1247.00" y="464.81" fill="#ffffff" textLength="6.3" lengthAdjust="spacingAndGlyphs">94</text><circle cx="1261.50" cy="464.18" r="6.2" fill="#0b0b0b"/><text x="1261.50" y="467.53" fill="#ffffff" textLength="6.3" lengthAdjust="spacingAndGlyphs">95</text><circle cx="1276.00" cy="466.50" r="6.2" fill="#0b0b0b"/><text x="1276.00" y="469.85" fill="#ffffff" textLength="6.3" lengthAdjust="spacingAndGlyphs">96</text><circle cx="1290.50" cy="468.42" r="6.2" fill="#0b0b0b"/><text x="1290.50" y="471.77" fill="#ffffff" textLength="6.3" lengthAdjust="spacingAndGlyphs">97</text><circle cx="1305.00" cy="469.96" r="6.2" fill="#0b0b0b"/><text x="1305.00" y="473.31" fill="#ffffff" textLength="6.3" lengthAdjust="spacingAndGlyphs">98</text><circle cx="1319.50" cy="471.11" r="6.2" fill="#0b0b0b"/><text x="1319.50" y="474.46" fill="#ffffff" textLength="6.3" lengthAdjust="spacingAndGlyphs">99</text><circle cx="1334.00" cy="471.87" r="6.2" fill="#0b0b0b"/><text x="1334.00" y="475.22" fill="#ffffff" textLength="10.3" lengthAdjust="spacingAndGlyphs">100</text><circle cx="1348.50" cy="472.25" r="6.2" fill="#0b0b0b"/><text x="1348.50" y="475.60" fill="#ffffff" textLength="10.3" lengthAdjust="spacingAndGlyphs">101</text><circle cx="1363.00" cy="472.25" r="6.2" fill="#0b0b0b"/><text x="1363.00" y="475.60" fill="#ffffff" textLength="10.3" lengthAdjust="spacingAndGlyphs">102</text><circle cx="1377.50" cy="471.87" r="6.2" fill="#0b0b0b"/><text x="1377.50" y="475.22" fill="#ffffff" textLength="10.3" lengthAdjust="spacingAndGlyphs">103</text><circle cx="1392.00" cy="471.11" r="6.2" fill="#0b0b0b"/><text x="1392.00" y="474.46" fill="#ffffff" textLength="10.3" lengthAdjust="spacingAndGlyphs">104</text><circle cx="1406.50" cy="469.96" r="6.2" fill="#0b0b0b"/><text x="1406.50" y="473.31" fill="#ffffff" textLength="10.3" lengthAdjust="spacingAndGlyphs">105</text><circle cx="1421.00" cy="468.42" r="6.2" fill="#0b0b0b"/><text x="1421.00" y="471.77" fill="#ffffff" textLength="10.3" lengthAdjust="spacingAndGlyphs">106</text><circle cx="1435.50" cy="466.50" r="6.2" fill="#0b0b0b"/><text x="1435.50" y="469.85" fill="#ffffff" textLength="10.3" lengthAdjust="spacingAndGlyphs">107</text><circle cx="1450.00" cy="464.18" r="6.2" fill="#0b0b0b"/><text x="1450.00" y="467.53" fill="#ffffff" textLength="10.3" lengthAdjust="spacingAndGlyphs">108</text><circle cx="1464.50" cy="461.46" r="6.2" fill="#0b0b0b"/><text x="1464.50" y="464.81" fill="#ffffff" textLength="10.3" lengthAdjust="spacingAndGlyphs">109</text><circle cx="1479.00" cy="458.34" r="6.2" fill="#0b0b0b"/><text x="1479.00" y="461.69" fill="#ffffff" textLength="10.3" lengthAdjust="spacingAndGlyphs">110</text><circle cx="1493.50" cy="454.80" r="6.2" fill="#0b0b0b"/><text x="1493.50" y="458.15" fill="#ffffff" textLength="10.3" lengthAdjust="spacingAndGlyphs">111</text><circle cx="1508.00" cy="450.85" r="6.2" fill="#0b0b0b"/><text x="1508.00" y="454.20" fill="#ffffff" textLength="10.3" lengthAdjust="spacingAndGlyphs">112</text><circle cx="1522.50" cy="446.46" r="6.2" fill="#0b0b0b"/><text x="1522.50" y="449.81" fill="#ffffff" textLength="10.3" lengthAdjust="spacingAndGlyphs">113</text><circle cx="1160.00" cy="457.17" r="6.2" fill="#0b0b0b"/><text x="1160.00" y="460.52" fill="#ffffff" textLength="10.3" lengthAdjust="spacingAndGlyphs">142</text><circle cx="1174.50" cy="462.33" r="6.2" fill="#0b0b0b"/><text x="1174.50" y="465.68" fill="#ffffff" textLength="10.3" lengthAdjust="spacingAndGlyphs">141</text><circle cx="1189.00" cy="467.04" r="6.2" fill="#0b0b0b"/><text x="1189.00" y="470.39" fill="#ffffff" textLength="10.3" lengthAdjust="spacingAndGlyphs">140</text><circle cx="1203.50" cy="471.32" r="6.2" fill="#0b0b0b"/><text x="1203.50" y="474.67" fill="#ffffff" textLength="10.3" lengthAdjust="spacingAndGlyphs">139</text><circle cx="1218.00" cy="475.19" r="6.2" fill="#0b0b0b"/><text x="1218.00" y="478.54" fill="#ffffff" textLength="10.3" lengthAdjust="spacingAndGlyphs">138</text><circle cx="1232.50" cy="478.64" r="6.2" fill="#0b0b0b"/><text x="1232.50" y="481.99" fill="#ffffff" textLength="10.3" lengthAdjust="spacingAndGlyphs">137</text><circle cx="1247.00" cy="481.70" r="6.2" fill="#0b0b0b"/><text x="1247.00" y="485.05" fill="#ffffff" textLength="10.3" lengthAdjust="spacingAndGlyphs">136</text><circle cx="1261.50" cy="484.35" r="6.2" fill="#0b0b0b"/><text x="1261.50" y="487.70" fill="#ffffff" textLength="10.3" lengthAdjust="spacingAndGlyphs">135</text><circle cx="1276.00" cy="486.62" r="6.2" fill="#0b0b0b"/><text x="1276.00" y="489.97" fill="#ffffff" textLength="10.3" lengthAdjust="spacingAndGlyphs">134</text><circle cx="1290.50" cy="488.51" r="6.2" fill="#0b0b0b"/><text x="1290.50" y="491.86" fill="#ffffff" textLength="10.3" lengthAdjust="spacingAndGlyphs">133</text><circle cx="1305.00" cy="490.01" r="6.2" fill="#0b0b0b"/><text x="1305.00" y="493.36" fill="#ffffff" textLength="10.3" lengthAdjust="spacingAndGlyphs">132</text><circle cx="1319.50" cy="491.13" r="6.2" fill="#0b0b0b"/><text x="1319.50" y="494.48" fill="#ffffff" textLength="10.3" lengthAdjust="spacingAndGlyphs">131</text><circle cx="1334.00" cy="491.88" r="6.2" fill="#0b0b0b"/><text x="1334.00" y="495.23" fill="#ffffff" textLength="10.3" lengthAdjust="spacingAndGlyphs">130</text><circle cx="1348.50" cy="492.25" r="6.2" fill="#0b0b0b"/><text x="1348.50" y="495.60" fill="#ffffff" textLength="10.3" lengthAdjust="spacingAndGlyphs">129</text><circle cx="1363.00" cy="492.25" r="6.2" fill="#0b0b0b"/><text x="1363.00" y="495.60" fill="#ffffff" textLength="10.3" lengthAdjust="spacingAndGlyphs">128</text><circle cx="1377.50" cy="491.88" r="6.2" fill="#0b0b0b"/><text x="1377.50" y="495.23" fill="#ffffff" textLength="10.3" lengthAdjust="spacingAndGlyphs">127</text><circle cx="1392.00" cy="491.13" r="6.2" fill="#0b0b0b"/><text x="1392.00" y="494.48" fill="#ffffff" textLength="10.3" lengthAdjust="spacingAndGlyphs">126</text><circle cx="1406.50" cy="490.01" r="6.2" fill="#0b0b0b"/><text x="1406.50" y="493.36" fill="#ffffff" textLength="10.3" lengthAdjust="spacingAndGlyphs">125</text><circle cx="1421.00" cy="488.51" r="6.2" fill="#0b0b0b"/><text x="1421.00" y="491.86" fill="#ffffff" textLength="10.3" lengthAdjust="spacingAndGlyphs">124</text><circle cx="1435.50" cy="486.62" r="6.2" fill="#0b0b0b"/><text x="1435.50" y="489.97" fill="#ffffff" textLength="10.3" lengthAdjust="spacingAndGlyphs">123</text><circle cx="1450.00" cy="484.35" r="6.2" fill="#0b0b0b"/><text x="1450.00" y="487.70" fill="#ffffff" textLength="10.3" lengthAdjust="spacingAndGlyphs">122</text><circle cx="1464.50" cy="481.70" r="6.2" fill="#0b0b0b"/><text x="1464.50" y="485.05" fill="#ffffff" textLength="10.3" lengthAdjust="spacingAndGlyphs">121</text><circle cx="1479.00" cy="478.64" r="6.2" fill="#0b0b0b"/><text x="1479.00" y="481.99" fill="#ffffff" textLength="10.3" lengthAdjust="spacingAndGlyphs">120</text><circle cx="1493.50" cy="475.19" r="6.2" fill="#0b0b0b"/><text x="1493.50" y="478.54" fill="#ffffff" textLength="10.3" lengthAdjust="spacingAndGlyphs">119</text><circle cx="1508.00" cy="471.32" r="6.2" fill="#0b0b0b"/><text x="1508.00" y="474.67" fill="#ffffff" textLength="10.3" lengthAdjust="spacingAndGlyphs">118</text><circle cx="1522.50" cy="467.04" r="6.2" fill="#0b0b0b"/><text x="1522.50" y="470.39" fill="#ffffff" textLength="10.3" lengthAdjust="spacingAndGlyphs">117</text><circle cx="1537.00" cy="462.33" r="6.2" fill="#0b0b0b"/><text x="1537.00" y="465.68" fill="#ffffff" textLength="10.3" lengthAdjust="spacingAndGlyphs">116</text><circle cx="1551.50" cy="457.17" r="6.2" fill="#0b0b0b"/><text x="1551.50" y="460.52" fill="#ffffff" textLength="10.3" lengthAdjust="spacingAndGlyphs">115</text><circle cx="1124.00" cy="205.88" r="6.2" fill="#0b0b0b"/><text x="1124.00" y="209.23" fill="#ffffff" textLength="3.6" lengthAdjust="spacingAndGlyphs">7</text><circle cx="1587.70" cy="205.88" r="6.2" fill="#0b0b0b"/><text x="1587.70" y="209.23" fill="#ffffff" textLength="3.6" lengthAdjust="spacingAndGlyphs">1</text><circle cx="1124.00" cy="225.19" r="6.2" fill="#0b0b0b"/><text x="1124.00" y="228.54" fill="#ffffff" textLength="3.6" lengthAdjust="spacingAndGlyphs">8</text><circle cx="1587.70" cy="225.19" r="6.2" fill="#0b0b0b"/><text x="1587.70" y="228.54" fill="#ffffff" textLength="3.6" lengthAdjust="spacingAndGlyphs">2</text><circle cx="1124.00" cy="244.50" r="6.2" fill="#0b0b0b"/><text x="1124.00" y="247.85" fill="#ffffff" textLength="3.6" lengthAdjust="spacingAndGlyphs">9</text><circle cx="1587.70" cy="244.50" r="6.2" fill="#0b0b0b"/><text x="1587.70" y="247.85" fill="#ffffff" textLength="3.6" lengthAdjust="spacingAndGlyphs">3</text><circle cx="1124.00" cy="263.81" r="6.2" fill="#0b0b0b"/><text x="1124.00" y="267.16" fill="#ffffff" textLength="6.3" lengthAdjust="spacingAndGlyphs">10</text><circle cx="1587.70" cy="263.81" r="6.2" fill="#0b0b0b"/><text x="1587.70" y="267.16" fill="#ffffff" textLength="3.6" lengthAdjust="spacingAndGlyphs">4</text><circle cx="1124.00" cy="283.12" r="6.2" fill="#0b0b0b"/><text x="1124.00" y="286.47" fill="#ffffff" textLength="6.3" lengthAdjust="spacingAndGlyphs">11</text><circle cx="1587.70" cy="283.12" r="6.2" fill="#0b0b0b"/><text x="1587.70" y="286.47" fill="#ffffff" textLength="3.6" lengthAdjust="spacingAndGlyphs">5</text><circle cx="1124.00" cy="302.43" r="6.2" fill="#0b0b0b"/><text x="1124.00" y="305.78" fill="#ffffff" textLength="6.3" lengthAdjust="spacingAndGlyphs">12</text><circle cx="1587.70" cy="302.43" r="6.2" fill="#0b0b0b"/><text x="1587.70" y="305.78" fill="#ffffff" textLength="3.6" lengthAdjust="spacingAndGlyphs">6</text><circle cx="1124.00" cy="321.74" r="6.2" fill="#21828f"/><text x="1124.00" y="325.09" fill="#ffffff" textLength="6.3" lengthAdjust="spacingAndGlyphs">32</text><circle cx="1587.70" cy="321.74" r="6.2" fill="#21828f"/><text x="1587.70" y="325.09" fill="#ffffff" textLength="3.6" lengthAdjust="spacingAndGlyphs">1</text><circle cx="1124.00" cy="341.05" r="6.2" fill="#21828f"/><text x="1124.00" y="344.40" fill="#ffffff" textLength="6.3" lengthAdjust="spacingAndGlyphs">31</text><circle cx="1587.70" cy="341.05" r="6.2" fill="#21828f"/><text x="1587.70" y="344.40" fill="#ffffff" textLength="3.6" lengthAdjust="spacingAndGlyphs">2</text><text class="lb" x="1140.2" y="56.05" fill="#4fb9cf" stroke="#4fb9cf" textLength="3.6" lengthAdjust="spacingAndGlyphs" style="text-anchor:start">1</text><text class="lb" x="1571.6" y="56.05" fill="#4fb9cf" stroke="#4fb9cf" textLength="3.6" lengthAdjust="spacingAndGlyphs" style="text-anchor:end">1</text><text class="lb" x="1140.2" y="75.36" fill="#4fb9cf" stroke="#4fb9cf" textLength="3.6" lengthAdjust="spacingAndGlyphs" style="text-anchor:start">2</text><text class="lb" x="1571.6" y="75.36" fill="#4fb9cf" stroke="#4fb9cf" textLength="3.6" lengthAdjust="spacingAndGlyphs" style="text-anchor:end">2</text><text class="lb" x="1140.2" y="94.67" fill="#4fb9cf" stroke="#4fb9cf" textLength="3.6" lengthAdjust="spacingAndGlyphs" style="text-anchor:start">3</text><text class="lb" x="1571.6" y="94.67" fill="#4fb9cf" stroke="#4fb9cf" textLength="3.6" lengthAdjust="spacingAndGlyphs" style="text-anchor:end">3</text><text class="lb" x="1140.2" y="113.98" fill="#4fb9cf" stroke="#4fb9cf" textLength="3.6" lengthAdjust="spacingAndGlyphs" style="text-anchor:start">4</text><text class="lb" x="1571.6" y="113.98" fill="#4fb9cf" stroke="#4fb9cf" textLength="3.6" lengthAdjust="spacingAndGlyphs" style="text-anchor:end">4</text><text class="lb" x="1140.2" y="133.29" fill="#4fb9cf" stroke="#4fb9cf" textLength="3.6" lengthAdjust="spacingAndGlyphs" style="text-anchor:start">5</text><text class="lb" x="1571.6" y="133.29" fill="#4fb9cf" stroke="#4fb9cf" textLength="3.6" lengthAdjust="spacingAndGlyphs" style="text-anchor:end">5</text><text class="lb" x="1140.2" y="152.60" fill="#4fb9cf" stroke="#4fb9cf" textLength="3.6" lengthAdjust="spacingAndGlyphs" style="text-anchor:start">6</text><text class="lb" x="1571.6" y="152.60" fill="#4fb9cf" stroke="#4fb9cf" textLength="3.6" lengthAdjust="spacingAndGlyphs" style="text-anchor:end">6</text><text class="lb" x="1140.2" y="171.91" fill="#338898" stroke="#338898" textLength="3.6" lengthAdjust="spacingAndGlyphs" style="text-anchor:start">7</text><text class="lb" x="1571.6" y="171.91" fill="#338898" stroke="#338898" textLength="3.6" lengthAdjust="spacingAndGlyphs" style="text-anchor:end">7</text><text class="lb" x="1140.2" y="191.22" fill="#338898" stroke="#338898" textLength="3.6" lengthAdjust="spacingAndGlyphs" style="text-anchor:start">8</text><text class="lb" x="1571.6" y="191.22" fill="#338898" stroke="#338898" textLength="3.6" lengthAdjust="spacingAndGlyphs" style="text-anchor:end">8</text><text class="lb" x="1140.2" y="210.53" fill="#338898" stroke="#338898" textLength="3.6" lengthAdjust="spacingAndGlyphs" style="text-anchor:start">9</text><text class="lb" x="1571.6" y="210.53" fill="#338898" stroke="#338898" textLength="3.6" lengthAdjust="spacingAndGlyphs" style="text-anchor:end">9</text><text class="lb" x="1140.2" y="229.84" fill="#338898" stroke="#338898" textLength="9.2" lengthAdjust="spacingAndGlyphs" style="text-anchor:start">10</text><text class="lb" x="1571.6" y="229.84" fill="#338898" stroke="#338898" textLength="9.2" lengthAdjust="spacingAndGlyphs" style="text-anchor:end">10</text><text class="lb" x="1140.2" y="249.15" fill="#338898" stroke="#338898" textLength="9.2" lengthAdjust="spacingAndGlyphs" style="text-anchor:start">11</text><text class="lb" x="1571.6" y="249.15" fill="#338898" stroke="#338898" textLength="9.2" lengthAdjust="spacingAndGlyphs" style="text-anchor:end">11</text><text class="lb" x="1140.2" y="268.46" fill="#338898" stroke="#338898" textLength="9.2" lengthAdjust="spacingAndGlyphs" style="text-anchor:start">12</text><text class="lb" x="1571.6" y="268.46" fill="#338898" stroke="#338898" textLength="9.2" lengthAdjust="spacingAndGlyphs" style="text-anchor:end">12</text><text class="lb" x="1140.2" y="287.77" fill="#338898" stroke="#338898" textLength="9.2" lengthAdjust="spacingAndGlyphs" style="text-anchor:start">13</text><text class="lb" x="1571.6" y="287.77" fill="#338898" stroke="#338898" textLength="9.2" lengthAdjust="spacingAndGlyphs" style="text-anchor:end">13</text><text class="lb" x="1140.2" y="307.08" fill="#338898" stroke="#338898" textLength="9.2" lengthAdjust="spacingAndGlyphs" style="text-anchor:start">14</text><text class="lb" x="1571.6" y="307.08" fill="#338898" stroke="#338898" textLength="9.2" lengthAdjust="spacingAndGlyphs" style="text-anchor:end">14</text><text class="lb" x="1140.2" y="326.39" fill="#161616" stroke="#161616" textLength="9.2" lengthAdjust="spacingAndGlyphs" style="text-anchor:start">15</text><text class="lb" x="1571.6" y="326.39" fill="#161616" stroke="#161616" textLength="9.2" lengthAdjust="spacingAndGlyphs" style="text-anchor:end">15</text><text class="lb" x="1140.2" y="345.70" fill="#161616" stroke="#161616" textLength="9.2" lengthAdjust="spacingAndGlyphs" style="text-anchor:start">16</text><text class="lb" x="1571.6" y="345.70" fill="#161616" stroke="#161616" textLength="9.2" lengthAdjust="spacingAndGlyphs" style="text-anchor:end">16</text><text class="lb" x="1140.2" y="365.01" fill="#161616" stroke="#161616" textLength="9.2" lengthAdjust="spacingAndGlyphs" style="text-anchor:start">17</text><text class="lb" x="1571.6" y="365.01" fill="#161616" stroke="#161616" textLength="9.2" lengthAdjust="spacingAndGlyphs" style="text-anchor:end">17</text><text class="lb" x="1140.2" y="394.35" fill="#4fb9cf" stroke="#4fb9cf" textLength="3.6" lengthAdjust="spacingAndGlyphs" style="text-anchor:start">1</text><text class="lb" x="1571.6" y="394.35" fill="#4fb9cf" stroke="#4fb9cf" textLength="3.6" lengthAdjust="spacingAndGlyphs" style="text-anchor:end">1</text><text class="lb" x="1140.2" y="412.95" fill="#338898" stroke="#338898" textLength="3.6" lengthAdjust="spacingAndGlyphs" style="text-anchor:start">2</text><text class="lb" x="1571.6" y="412.95" fill="#338898" stroke="#338898" textLength="3.6" lengthAdjust="spacingAndGlyphs" style="text-anchor:end">2</text><text class="lb" x="1140.2" y="432.95" fill="#338898" stroke="#338898" textLength="3.6" lengthAdjust="spacingAndGlyphs" style="text-anchor:start">3</text><text class="lb" x="1571.6" y="432.95" fill="#338898" stroke="#338898" textLength="3.6" lengthAdjust="spacingAndGlyphs" style="text-anchor:end">3</text><text class="lb" x="1140.2" y="451.65" fill="#161616" stroke="#161616" textLength="3.6" lengthAdjust="spacingAndGlyphs" style="text-anchor:start">4</text><text class="lb" x="1571.6" y="451.65" fill="#161616" stroke="#161616" textLength="3.6" lengthAdjust="spacingAndGlyphs" style="text-anchor:end">4</text><text class="lb" x="1140.2" y="471.65" fill="#161616" stroke="#161616" textLength="3.6" lengthAdjust="spacingAndGlyphs" style="text-anchor:start">5</text><text class="lb" x="1571.6" y="471.65" fill="#161616" stroke="#161616" textLength="3.6" lengthAdjust="spacingAndGlyphs" style="text-anchor:end">5</text><text class="hd" x="1356.8" y="23.8" text-anchor="middle" textLength="42.7" lengthAdjust="spacingAndGlyphs">BÜHNE</text><rect x="1138.5" y="33.0" width="435.5" height="2" fill="url(#dots)"/><text class="hd" x="1356.7" y="52.3" text-anchor="middle" textLength="57" lengthAdjust="spacingAndGlyphs">PARKETT</text><text class="hd" x="1356.8" y="399" text-anchor="middle" textLength="34.6" lengthAdjust="spacingAndGlyphs">RANG</text><text class="vt" transform="translate(1163.3 69.8) rotate(-90) scale(0.64 1)">LINKS</text><text class="vt" transform="translate(1560.3 78.4) rotate(-90) scale(0.66 1)">RECHTS</text><text class="vs" transform="translate(1129.2 435.8) rotate(-90) scale(0.621 1)">SEITENRANG LINKS</text><text class="vs" transform="translate(1593.6 443.6) rotate(-90) scale(0.629 1)">SEITENRANG RECHTS</text><circle cx="1232.50" cy="611.71" r="6.2" fill="#21828f"/><text x="1232.50" y="615.06" fill="#ffffff" textLength="6.3" lengthAdjust="spacingAndGlyphs">21</text><circle cx="1247.00" cy="611.71" r="6.2" fill="#21828f"/><text x="1247.00" y="615.06" fill="#ffffff" textLength="6.3" lengthAdjust="spacingAndGlyphs">22</text><circle cx="1261.50" cy="611.71" r="6.2" fill="#21828f"/><text x="1261.50" y="615.06" fill="#ffffff" textLength="6.3" lengthAdjust="spacingAndGlyphs">23</text><circle cx="1276.00" cy="611.71" r="6.2" fill="#21828f"/><text x="1276.00" y="615.06" fill="#ffffff" textLength="6.3" lengthAdjust="spacingAndGlyphs">24</text><circle cx="1290.50" cy="611.71" r="6.2" fill="#21828f"/><text x="1290.50" y="615.06" fill="#ffffff" textLength="6.3" lengthAdjust="spacingAndGlyphs">25</text><circle cx="1305.00" cy="611.71" r="6.2" fill="#21828f"/><text x="1305.00" y="615.06" fill="#ffffff" textLength="6.3" lengthAdjust="spacingAndGlyphs">26</text><circle cx="1319.50" cy="611.71" r="6.2" fill="#21828f"/><text x="1319.50" y="615.06" fill="#ffffff" textLength="6.3" lengthAdjust="spacingAndGlyphs">27</text><circle cx="1334.00" cy="611.71" r="6.2" fill="#21828f"/><text x="1334.00" y="615.06" fill="#ffffff" textLength="6.3" lengthAdjust="spacingAndGlyphs">28</text><circle cx="1348.50" cy="611.71" r="6.2" fill="#21828f"/><text x="1348.50" y="615.06" fill="#ffffff" textLength="6.3" lengthAdjust="spacingAndGlyphs">29</text><circle cx="1363.00" cy="611.71" r="6.2" fill="#21828f"/><text x="1363.00" y="615.06" fill="#ffffff" textLength="6.3" lengthAdjust="spacingAndGlyphs">30</text><circle cx="1377.50" cy="611.71" r="6.2" fill="#21828f"/><text x="1377.50" y="615.06" fill="#ffffff" textLength="6.3" lengthAdjust="spacingAndGlyphs">31</text><circle cx="1392.00" cy="611.71" r="6.2" fill="#21828f"/><text x="1392.00" y="615.06" fill="#ffffff" textLength="6.3" lengthAdjust="spacingAndGlyphs">32</text><circle cx="1406.50" cy="611.71" r="6.2" fill="#21828f"/><text x="1406.50" y="615.06" fill="#ffffff" textLength="6.3" lengthAdjust="spacingAndGlyphs">33</text><circle cx="1421.00" cy="611.71" r="6.2" fill="#21828f"/><text x="1421.00" y="615.06" fill="#ffffff" textLength="6.3" lengthAdjust="spacingAndGlyphs">34</text><circle cx="1435.50" cy="611.71" r="6.2" fill="#21828f"/><text x="1435.50" y="615.06" fill="#ffffff" textLength="6.3" lengthAdjust="spacingAndGlyphs">35</text><circle cx="1450.00" cy="611.71" r="6.2" fill="#21828f"/><text x="1450.00" y="615.06" fill="#ffffff" textLength="6.3" lengthAdjust="spacingAndGlyphs">36</text><circle cx="1464.50" cy="611.71" r="6.2" fill="#21828f"/><text x="1464.50" y="615.06" fill="#ffffff" textLength="6.3" lengthAdjust="spacingAndGlyphs">37</text><circle cx="1479.00" cy="611.71" r="6.2" fill="#21828f"/><text x="1479.00" y="615.06" fill="#ffffff" textLength="6.3" lengthAdjust="spacingAndGlyphs">38</text><circle cx="1225.25" cy="631.02" r="6.2" fill="#21828f"/><text x="1225.25" y="634.37" fill="#ffffff" textLength="6.3" lengthAdjust="spacingAndGlyphs">59</text><circle cx="1239.75" cy="631.02" r="6.2" fill="#21828f"/><text x="1239.75" y="634.37" fill="#ffffff" textLength="6.3" lengthAdjust="spacingAndGlyphs">58</text><circle cx="1254.25" cy="631.02" r="6.2" fill="#21828f"/><text x="1254.25" y="634.37" fill="#ffffff" textLength="6.3" lengthAdjust="spacingAndGlyphs">57</text><circle cx="1268.75" cy="631.02" r="6.2" fill="#21828f"/><text x="1268.75" y="634.37" fill="#ffffff" textLength="6.3" lengthAdjust="spacingAndGlyphs">56</text><circle cx="1283.25" cy="631.02" r="6.2" fill="#21828f"/><text x="1283.25" y="634.37" fill="#ffffff" textLength="6.3" lengthAdjust="spacingAndGlyphs">55</text><circle cx="1297.75" cy="631.02" r="6.2" fill="#21828f"/><text x="1297.75" y="634.37" fill="#ffffff" textLength="6.3" lengthAdjust="spacingAndGlyphs">54</text><circle cx="1312.25" cy="631.02" r="6.2" fill="#21828f"/><text x="1312.25" y="634.37" fill="#ffffff" textLength="6.3" lengthAdjust="spacingAndGlyphs">53</text><circle cx="1326.75" cy="631.02" r="6.2" fill="#21828f"/><text x="1326.75" y="634.37" fill="#ffffff" textLength="6.3" lengthAdjust="spacingAndGlyphs">52</text><circle cx="1341.25" cy="631.02" r="6.2" fill="#21828f"/><text x="1341.25" y="634.37" fill="#ffffff" textLength="6.3" lengthAdjust="spacingAndGlyphs">51</text><circle cx="1355.75" cy="631.02" r="6.2" fill="#21828f"/><text x="1355.75" y="634.37" fill="#ffffff" textLength="6.3" lengthAdjust="spacingAndGlyphs">50</text><circle cx="1370.25" cy="631.02" r="6.2" fill="#21828f"/><text x="1370.25" y="634.37" fill="#ffffff" textLength="6.3" lengthAdjust="spacingAndGlyphs">49</text><circle cx="1384.75" cy="631.02" r="6.2" fill="#21828f"/><text x="1384.75" y="634.37" fill="#ffffff" textLength="6.3" lengthAdjust="spacingAndGlyphs">48</text><circle cx="1399.25" cy="631.02" r="6.2" fill="#21828f"/><text x="1399.25" y="634.37" fill="#ffffff" textLength="6.3" lengthAdjust="spacingAndGlyphs">47</text><circle cx="1413.75" cy="631.02" r="6.2" fill="#21828f"/><text x="1413.75" y="634.37" fill="#ffffff" textLength="6.3" lengthAdjust="spacingAndGlyphs">46</text><circle cx="1428.25" cy="631.02" r="6.2" fill="#21828f"/><text x="1428.25" y="634.37" fill="#ffffff" textLength="6.3" lengthAdjust="spacingAndGlyphs">45</text><circle cx="1442.75" cy="631.02" r="6.2" fill="#21828f"/><text x="1442.75" y="634.37" fill="#ffffff" textLength="6.3" lengthAdjust="spacingAndGlyphs">44</text><circle cx="1457.25" cy="631.02" r="6.2" fill="#21828f"/><text x="1457.25" y="634.37" fill="#ffffff" textLength="6.3" lengthAdjust="spacingAndGlyphs">43</text><circle cx="1471.75" cy="631.02" r="6.2" fill="#21828f"/><text x="1471.75" y="634.37" fill="#ffffff" textLength="6.3" lengthAdjust="spacingAndGlyphs">42</text><circle cx="1486.25" cy="631.02" r="6.2" fill="#21828f"/><text x="1486.25" y="634.37" fill="#ffffff" textLength="6.3" lengthAdjust="spacingAndGlyphs">41</text><circle cx="1218.00" cy="650.33" r="6.2" fill="#21828f"/><text x="1218.00" y="653.68" fill="#ffffff" textLength="6.3" lengthAdjust="spacingAndGlyphs">62</text><circle cx="1232.50" cy="650.33" r="6.2" fill="#21828f"/><text x="1232.50" y="653.68" fill="#ffffff" textLength="6.3" lengthAdjust="spacingAndGlyphs">63</text><circle cx="1247.00" cy="650.33" r="6.2" fill="#21828f"/><text x="1247.00" y="653.68" fill="#ffffff" textLength="6.3" lengthAdjust="spacingAndGlyphs">64</text><circle cx="1261.50" cy="650.33" r="6.2" fill="#21828f"/><text x="1261.50" y="653.68" fill="#ffffff" textLength="6.3" lengthAdjust="spacingAndGlyphs">65</text><circle cx="1276.00" cy="650.33" r="6.2" fill="#21828f"/><text x="1276.00" y="653.68" fill="#ffffff" textLength="6.3" lengthAdjust="spacingAndGlyphs">66</text><circle cx="1290.50" cy="650.33" r="6.2" fill="#21828f"/><text x="1290.50" y="653.68" fill="#ffffff" textLength="6.3" lengthAdjust="spacingAndGlyphs">67</text><circle cx="1305.00" cy="650.33" r="6.2" fill="#21828f"/><text x="1305.00" y="653.68" fill="#ffffff" textLength="6.3" lengthAdjust="spacingAndGlyphs">68</text><circle cx="1319.50" cy="650.33" r="6.2" fill="#21828f"/><text x="1319.50" y="653.68" fill="#ffffff" textLength="6.3" lengthAdjust="spacingAndGlyphs">69</text><circle cx="1334.00" cy="650.33" r="6.2" fill="#21828f"/><text x="1334.00" y="653.68" fill="#ffffff" textLength="6.3" lengthAdjust="spacingAndGlyphs">70</text><circle cx="1348.50" cy="650.33" r="6.2" fill="#21828f"/><text x="1348.50" y="653.68" fill="#ffffff" textLength="6.3" lengthAdjust="spacingAndGlyphs">71</text><circle cx="1363.00" cy="650.33" r="6.2" fill="#21828f"/><text x="1363.00" y="653.68" fill="#ffffff" textLength="6.3" lengthAdjust="spacingAndGlyphs">72</text><circle cx="1377.50" cy="650.33" r="6.2" fill="#21828f"/><text x="1377.50" y="653.68" fill="#ffffff" textLength="6.3" lengthAdjust="spacingAndGlyphs">73</text><circle cx="1392.00" cy="650.33" r="6.2" fill="#21828f"/><text x="1392.00" y="653.68" fill="#ffffff" textLength="6.3" lengthAdjust="spacingAndGlyphs">74</text><circle cx="1406.50" cy="650.33" r="6.2" fill="#21828f"/><text x="1406.50" y="653.68" fill="#ffffff" textLength="6.3" lengthAdjust="spacingAndGlyphs">75</text><circle cx="1421.00" cy="650.33" r="6.2" fill="#21828f"/><text x="1421.00" y="653.68" fill="#ffffff" textLength="6.3" lengthAdjust="spacingAndGlyphs">76</text><circle cx="1435.50" cy="650.33" r="6.2" fill="#21828f"/><text x="1435.50" y="653.68" fill="#ffffff" textLength="6.3" lengthAdjust="spacingAndGlyphs">77</text><circle cx="1450.00" cy="650.33" r="6.2" fill="#21828f"/><text x="1450.00" y="653.68" fill="#ffffff" textLength="6.3" lengthAdjust="spacingAndGlyphs">78</text><circle cx="1464.50" cy="650.33" r="6.2" fill="#21828f"/><text x="1464.50" y="653.68" fill="#ffffff" textLength="6.3" lengthAdjust="spacingAndGlyphs">79</text><circle cx="1479.00" cy="650.33" r="6.2" fill="#21828f"/><text x="1479.00" y="653.68" fill="#ffffff" textLength="6.3" lengthAdjust="spacingAndGlyphs">80</text><circle cx="1493.50" cy="650.33" r="6.2" fill="#21828f"/><text x="1493.50" y="653.68" fill="#ffffff" textLength="6.3" lengthAdjust="spacingAndGlyphs">81</text><circle cx="1210.75" cy="669.64" r="6.2" fill="#3db5cf"/><text x="1210.75" y="672.99" fill="#0c3340" textLength="10.3" lengthAdjust="spacingAndGlyphs">105</text><circle cx="1225.25" cy="669.64" r="6.2" fill="#3db5cf"/><text x="1225.25" y="672.99" fill="#0c3340" textLength="10.3" lengthAdjust="spacingAndGlyphs">104</text><circle cx="1239.75" cy="669.64" r="6.2" fill="#3db5cf"/><text x="1239.75" y="672.99" fill="#0c3340" textLength="10.3" lengthAdjust="spacingAndGlyphs">103</text><circle cx="1254.25" cy="669.64" r="6.2" fill="#3db5cf"/><text x="1254.25" y="672.99" fill="#0c3340" textLength="10.3" lengthAdjust="spacingAndGlyphs">102</text><circle cx="1268.75" cy="669.64" r="6.2" fill="#3db5cf"/><text x="1268.75" y="672.99" fill="#0c3340" textLength="10.3" lengthAdjust="spacingAndGlyphs">101</text><circle cx="1283.25" cy="669.64" r="6.2" fill="#3db5cf"/><text x="1283.25" y="672.99" fill="#0c3340" textLength="10.3" lengthAdjust="spacingAndGlyphs">100</text><circle cx="1297.75" cy="669.64" r="6.2" fill="#3db5cf"/><text x="1297.75" y="672.99" fill="#0c3340" textLength="6.3" lengthAdjust="spacingAndGlyphs">99</text><circle cx="1312.25" cy="669.64" r="6.2" fill="#3db5cf"/><text x="1312.25" y="672.99" fill="#0c3340" textLength="6.3" lengthAdjust="spacingAndGlyphs">98</text><circle cx="1326.75" cy="669.64" r="6.2" fill="#3db5cf"/><text x="1326.75" y="672.99" fill="#0c3340" textLength="6.3" lengthAdjust="spacingAndGlyphs">97</text><circle cx="1341.25" cy="669.64" r="6.2" fill="#3db5cf"/><text x="1341.25" y="672.99" fill="#0c3340" textLength="6.3" lengthAdjust="spacingAndGlyphs">96</text><circle cx="1355.75" cy="669.64" r="6.2" fill="#3db5cf"/><text x="1355.75" y="672.99" fill="#0c3340" textLength="6.3" lengthAdjust="spacingAndGlyphs">95</text><circle cx="1370.25" cy="669.64" r="6.2" fill="#3db5cf"/><text x="1370.25" y="672.99" fill="#0c3340" textLength="6.3" lengthAdjust="spacingAndGlyphs">94</text><circle cx="1384.75" cy="669.64" r="6.2" fill="#3db5cf"/><text x="1384.75" y="672.99" fill="#0c3340" textLength="6.3" lengthAdjust="spacingAndGlyphs">93</text><circle cx="1399.25" cy="669.64" r="6.2" fill="#3db5cf"/><text x="1399.25" y="672.99" fill="#0c3340" textLength="6.3" lengthAdjust="spacingAndGlyphs">92</text><circle cx="1413.75" cy="669.64" r="6.2" fill="#3db5cf"/><text x="1413.75" y="672.99" fill="#0c3340" textLength="6.3" lengthAdjust="spacingAndGlyphs">91</text><circle cx="1428.25" cy="669.64" r="6.2" fill="#3db5cf"/><text x="1428.25" y="672.99" fill="#0c3340" textLength="6.3" lengthAdjust="spacingAndGlyphs">90</text><circle cx="1442.75" cy="669.64" r="6.2" fill="#3db5cf"/><text x="1442.75" y="672.99" fill="#0c3340" textLength="6.3" lengthAdjust="spacingAndGlyphs">89</text><circle cx="1457.25" cy="669.64" r="6.2" fill="#3db5cf"/><text x="1457.25" y="672.99" fill="#0c3340" textLength="6.3" lengthAdjust="spacingAndGlyphs">88</text><circle cx="1471.75" cy="669.64" r="6.2" fill="#3db5cf"/><text x="1471.75" y="672.99" fill="#0c3340" textLength="6.3" lengthAdjust="spacingAndGlyphs">87</text><circle cx="1486.25" cy="669.64" r="6.2" fill="#3db5cf"/><text x="1486.25" y="672.99" fill="#0c3340" textLength="6.3" lengthAdjust="spacingAndGlyphs">86</text><circle cx="1500.75" cy="669.64" r="6.2" fill="#3db5cf"/><text x="1500.75" y="672.99" fill="#0c3340" textLength="6.3" lengthAdjust="spacingAndGlyphs">85</text><circle cx="1174.50" cy="688.95" r="6.2" fill="#3db5cf"/><text x="1174.50" y="692.30" fill="#0c3340" textLength="10.3" lengthAdjust="spacingAndGlyphs">108</text><circle cx="1189.00" cy="688.95" r="6.2" fill="#3db5cf"/><text x="1189.00" y="692.30" fill="#0c3340" textLength="10.3" lengthAdjust="spacingAndGlyphs">109</text><circle cx="1203.50" cy="688.95" r="6.2" fill="#3db5cf"/><text x="1203.50" y="692.30" fill="#0c3340" textLength="10.3" lengthAdjust="spacingAndGlyphs">110</text><circle cx="1218.00" cy="688.95" r="6.2" fill="#3db5cf"/><text x="1218.00" y="692.30" fill="#0c3340" textLength="10.3" lengthAdjust="spacingAndGlyphs">111</text><circle cx="1232.50" cy="688.95" r="6.2" fill="#3db5cf"/><text x="1232.50" y="692.30" fill="#0c3340" textLength="10.3" lengthAdjust="spacingAndGlyphs">112</text><circle cx="1247.00" cy="688.95" r="6.2" fill="#3db5cf"/><text x="1247.00" y="692.30" fill="#0c3340" textLength="10.3" lengthAdjust="spacingAndGlyphs">113</text><circle cx="1261.50" cy="688.95" r="6.2" fill="#3db5cf"/><text x="1261.50" y="692.30" fill="#0c3340" textLength="10.3" lengthAdjust="spacingAndGlyphs">114</text><circle cx="1276.00" cy="688.95" r="6.2" fill="#3db5cf"/><text x="1276.00" y="692.30" fill="#0c3340" textLength="10.3" lengthAdjust="spacingAndGlyphs">115</text><circle cx="1290.50" cy="688.95" r="6.2" fill="#3db5cf"/><text x="1290.50" y="692.30" fill="#0c3340" textLength="10.3" lengthAdjust="spacingAndGlyphs">116</text><circle cx="1305.00" cy="688.95" r="6.2" fill="#3db5cf"/><text x="1305.00" y="692.30" fill="#0c3340" textLength="10.3" lengthAdjust="spacingAndGlyphs">117</text><circle cx="1319.50" cy="688.95" r="6.2" fill="#3db5cf"/><text x="1319.50" y="692.30" fill="#0c3340" textLength="10.3" lengthAdjust="spacingAndGlyphs">118</text><circle cx="1334.00" cy="688.95" r="6.2" fill="#3db5cf"/><text x="1334.00" y="692.30" fill="#0c3340" textLength="10.3" lengthAdjust="spacingAndGlyphs">119</text><circle cx="1348.50" cy="688.95" r="6.2" fill="#3db5cf"/><text x="1348.50" y="692.30" fill="#0c3340" textLength="10.3" lengthAdjust="spacingAndGlyphs">120</text><circle cx="1363.00" cy="688.95" r="6.2" fill="#3db5cf"/><text x="1363.00" y="692.30" fill="#0c3340" textLength="10.3" lengthAdjust="spacingAndGlyphs">121</text><circle cx="1377.50" cy="688.95" r="6.2" fill="#3db5cf"/><text x="1377.50" y="692.30" fill="#0c3340" textLength="10.3" lengthAdjust="spacingAndGlyphs">122</text><circle cx="1392.00" cy="688.95" r="6.2" fill="#3db5cf"/><text x="1392.00" y="692.30" fill="#0c3340" textLength="10.3" lengthAdjust="spacingAndGlyphs">123</text><circle cx="1406.50" cy="688.95" r="6.2" fill="#3db5cf"/><text x="1406.50" y="692.30" fill="#0c3340" textLength="10.3" lengthAdjust="spacingAndGlyphs">124</text><circle cx="1421.00" cy="688.95" r="6.2" fill="#3db5cf"/><text x="1421.00" y="692.30" fill="#0c3340" textLength="10.3" lengthAdjust="spacingAndGlyphs">125</text><circle cx="1435.50" cy="688.95" r="6.2" fill="#3db5cf"/><text x="1435.50" y="692.30" fill="#0c3340" textLength="10.3" lengthAdjust="spacingAndGlyphs">126</text><circle cx="1450.00" cy="688.95" r="6.2" fill="#3db5cf"/><text x="1450.00" y="692.30" fill="#0c3340" textLength="10.3" lengthAdjust="spacingAndGlyphs">127</text><circle cx="1464.50" cy="688.95" r="6.2" fill="#3db5cf"/><text x="1464.50" y="692.30" fill="#0c3340" textLength="10.3" lengthAdjust="spacingAndGlyphs">128</text><circle cx="1479.00" cy="688.95" r="6.2" fill="#3db5cf"/><text x="1479.00" y="692.30" fill="#0c3340" textLength="10.3" lengthAdjust="spacingAndGlyphs">129</text><circle cx="1493.50" cy="688.95" r="6.2" fill="#3db5cf"/><text x="1493.50" y="692.30" fill="#0c3340" textLength="10.3" lengthAdjust="spacingAndGlyphs">130</text><circle cx="1508.00" cy="688.95" r="6.2" fill="#3db5cf"/><text x="1508.00" y="692.30" fill="#0c3340" textLength="10.3" lengthAdjust="spacingAndGlyphs">131</text><circle cx="1522.50" cy="688.95" r="6.2" fill="#3db5cf"/><text x="1522.50" y="692.30" fill="#0c3340" textLength="10.3" lengthAdjust="spacingAndGlyphs">132</text><circle cx="1537.00" cy="688.95" r="6.2" fill="#3db5cf"/><text x="1537.00" y="692.30" fill="#0c3340" textLength="10.3" lengthAdjust="spacingAndGlyphs">133</text><circle cx="1181.75" cy="708.26" r="6.2" fill="#3db5cf"/><text x="1181.75" y="711.61" fill="#0c3340" textLength="10.3" lengthAdjust="spacingAndGlyphs">159</text><circle cx="1196.25" cy="708.26" r="6.2" fill="#3db5cf"/><text x="1196.25" y="711.61" fill="#0c3340" textLength="10.3" lengthAdjust="spacingAndGlyphs">158</text><circle cx="1210.75" cy="708.26" r="6.2" fill="#3db5cf"/><text x="1210.75" y="711.61" fill="#0c3340" textLength="10.3" lengthAdjust="spacingAndGlyphs">157</text><circle cx="1225.25" cy="708.26" r="6.2" fill="#3db5cf"/><text x="1225.25" y="711.61" fill="#0c3340" textLength="10.3" lengthAdjust="spacingAndGlyphs">156</text><circle cx="1239.75" cy="708.26" r="6.2" fill="#3db5cf"/><text x="1239.75" y="711.61" fill="#0c3340" textLength="10.3" lengthAdjust="spacingAndGlyphs">155</text><circle cx="1254.25" cy="708.26" r="6.2" fill="#3db5cf"/><text x="1254.25" y="711.61" fill="#0c3340" textLength="10.3" lengthAdjust="spacingAndGlyphs">154</text><circle cx="1268.75" cy="708.26" r="6.2" fill="#3db5cf"/><text x="1268.75" y="711.61" fill="#0c3340" textLength="10.3" lengthAdjust="spacingAndGlyphs">153</text><circle cx="1283.25" cy="708.26" r="6.2" fill="#3db5cf"/><text x="1283.25" y="711.61" fill="#0c3340" textLength="10.3" lengthAdjust="spacingAndGlyphs">152</text><circle cx="1297.75" cy="708.26" r="6.2" fill="#3db5cf"/><text x="1297.75" y="711.61" fill="#0c3340" textLength="10.3" lengthAdjust="spacingAndGlyphs">151</text><circle cx="1312.25" cy="708.26" r="6.2" fill="#3db5cf"/><text x="1312.25" y="711.61" fill="#0c3340" textLength="10.3" lengthAdjust="spacingAndGlyphs">150</text><circle cx="1326.75" cy="708.26" r="6.2" fill="#3db5cf"/><text x="1326.75" y="711.61" fill="#0c3340" textLength="10.3" lengthAdjust="spacingAndGlyphs">149</text><circle cx="1341.25" cy="708.26" r="6.2" fill="#3db5cf"/><text x="1341.25" y="711.61" fill="#0c3340" textLength="10.3" lengthAdjust="spacingAndGlyphs">148</text><circle cx="1355.75" cy="708.26" r="6.2" fill="#3db5cf"/><text x="1355.75" y="711.61" fill="#0c3340" textLength="10.3" lengthAdjust="spacingAndGlyphs">147</text><circle cx="1370.25" cy="708.26" r="6.2" fill="#3db5cf"/><text x="1370.25" y="711.61" fill="#0c3340" textLength="10.3" lengthAdjust="spacingAndGlyphs">146</text><circle cx="1384.75" cy="708.26" r="6.2" fill="#3db5cf"/><text x="1384.75" y="711.61" fill="#0c3340" textLength="10.3" lengthAdjust="spacingAndGlyphs">145</text><circle cx="1399.25" cy="708.26" r="6.2" fill="#3db5cf"/><text x="1399.25" y="711.61" fill="#0c3340" textLength="10.3" lengthAdjust="spacingAndGlyphs">144</text><circle cx="1413.75" cy="708.26" r="6.2" fill="#3db5cf"/><text x="1413.75" y="711.61" fill="#0c3340" textLength="10.3" lengthAdjust="spacingAndGlyphs">143</text><circle cx="1428.25" cy="708.26" r="6.2" fill="#3db5cf"/><text x="1428.25" y="711.61" fill="#0c3340" textLength="10.3" lengthAdjust="spacingAndGlyphs">142</text><circle cx="1442.75" cy="708.26" r="6.2" fill="#3db5cf"/><text x="1442.75" y="711.61" fill="#0c3340" textLength="10.3" lengthAdjust="spacingAndGlyphs">141</text><circle cx="1457.25" cy="708.26" r="6.2" fill="#3db5cf"/><text x="1457.25" y="711.61" fill="#0c3340" textLength="10.3" lengthAdjust="spacingAndGlyphs">140</text><circle cx="1471.75" cy="708.26" r="6.2" fill="#3db5cf"/><text x="1471.75" y="711.61" fill="#0c3340" textLength="10.3" lengthAdjust="spacingAndGlyphs">139</text><circle cx="1486.25" cy="708.26" r="6.2" fill="#3db5cf"/><text x="1486.25" y="711.61" fill="#0c3340" textLength="10.3" lengthAdjust="spacingAndGlyphs">138</text><circle cx="1500.75" cy="708.26" r="6.2" fill="#3db5cf"/><text x="1500.75" y="711.61" fill="#0c3340" textLength="10.3" lengthAdjust="spacingAndGlyphs">137</text><circle cx="1515.25" cy="708.26" r="6.2" fill="#3db5cf"/><text x="1515.25" y="711.61" fill="#0c3340" textLength="10.3" lengthAdjust="spacingAndGlyphs">136</text><circle cx="1529.75" cy="708.26" r="6.2" fill="#3db5cf"/><text x="1529.75" y="711.61" fill="#0c3340" textLength="10.3" lengthAdjust="spacingAndGlyphs">135</text><circle cx="1544.25" cy="708.26" r="6.2" fill="#3db5cf"/><text x="1544.25" y="711.61" fill="#0c3340" textLength="10.3" lengthAdjust="spacingAndGlyphs">134</text><circle cx="1174.50" cy="727.57" r="6.2" fill="#3db5cf"/><text x="1174.50" y="730.92" fill="#0c3340" textLength="10.3" lengthAdjust="spacingAndGlyphs">160</text><circle cx="1189.00" cy="727.57" r="6.2" fill="#3db5cf"/><text x="1189.00" y="730.92" fill="#0c3340" textLength="10.3" lengthAdjust="spacingAndGlyphs">161</text><circle cx="1203.50" cy="727.57" r="6.2" fill="#3db5cf"/><text x="1203.50" y="730.92" fill="#0c3340" textLength="10.3" lengthAdjust="spacingAndGlyphs">162</text><circle cx="1218.00" cy="727.57" r="6.2" fill="#3db5cf"/><text x="1218.00" y="730.92" fill="#0c3340" textLength="10.3" lengthAdjust="spacingAndGlyphs">163</text><circle cx="1232.50" cy="727.57" r="6.2" fill="#3db5cf"/><text x="1232.50" y="730.92" fill="#0c3340" textLength="10.3" lengthAdjust="spacingAndGlyphs">164</text><circle cx="1247.00" cy="727.57" r="6.2" fill="#3db5cf"/><text x="1247.00" y="730.92" fill="#0c3340" textLength="10.3" lengthAdjust="spacingAndGlyphs">165</text><circle cx="1261.50" cy="727.57" r="6.2" fill="#3db5cf"/><text x="1261.50" y="730.92" fill="#0c3340" textLength="10.3" lengthAdjust="spacingAndGlyphs">166</text><circle cx="1276.00" cy="727.57" r="6.2" fill="#3db5cf"/><text x="1276.00" y="730.92" fill="#0c3340" textLength="10.3" lengthAdjust="spacingAndGlyphs">167</text><circle cx="1290.50" cy="727.57" r="6.2" fill="#3db5cf"/><text x="1290.50" y="730.92" fill="#0c3340" textLength="10.3" lengthAdjust="spacingAndGlyphs">168</text><circle cx="1305.00" cy="727.57" r="6.2" fill="#3db5cf"/><text x="1305.00" y="730.92" fill="#0c3340" textLength="10.3" lengthAdjust="spacingAndGlyphs">169</text><circle cx="1319.50" cy="727.57" r="6.2" fill="#3db5cf"/><text x="1319.50" y="730.92" fill="#0c3340" textLength="10.3" lengthAdjust="spacingAndGlyphs">170</text><circle cx="1334.00" cy="727.57" r="6.2" fill="#3db5cf"/><text x="1334.00" y="730.92" fill="#0c3340" textLength="10.3" lengthAdjust="spacingAndGlyphs">171</text><circle cx="1348.50" cy="727.57" r="6.2" fill="#3db5cf"/><text x="1348.50" y="730.92" fill="#0c3340" textLength="10.3" lengthAdjust="spacingAndGlyphs">172</text><circle cx="1363.00" cy="727.57" r="6.2" fill="#3db5cf"/><text x="1363.00" y="730.92" fill="#0c3340" textLength="10.3" lengthAdjust="spacingAndGlyphs">173</text><circle cx="1377.50" cy="727.57" r="6.2" fill="#3db5cf"/><text x="1377.50" y="730.92" fill="#0c3340" textLength="10.3" lengthAdjust="spacingAndGlyphs">174</text><circle cx="1392.00" cy="727.57" r="6.2" fill="#3db5cf"/><text x="1392.00" y="730.92" fill="#0c3340" textLength="10.3" lengthAdjust="spacingAndGlyphs">175</text><circle cx="1406.50" cy="727.57" r="6.2" fill="#3db5cf"/><text x="1406.50" y="730.92" fill="#0c3340" textLength="10.3" lengthAdjust="spacingAndGlyphs">176</text><circle cx="1421.00" cy="727.57" r="6.2" fill="#3db5cf"/><text x="1421.00" y="730.92" fill="#0c3340" textLength="10.3" lengthAdjust="spacingAndGlyphs">177</text><circle cx="1435.50" cy="727.57" r="6.2" fill="#3db5cf"/><text x="1435.50" y="730.92" fill="#0c3340" textLength="10.3" lengthAdjust="spacingAndGlyphs">178</text><circle cx="1450.00" cy="727.57" r="6.2" fill="#3db5cf"/><text x="1450.00" y="730.92" fill="#0c3340" textLength="10.3" lengthAdjust="spacingAndGlyphs">179</text><circle cx="1464.50" cy="727.57" r="6.2" fill="#3db5cf"/><text x="1464.50" y="730.92" fill="#0c3340" textLength="10.3" lengthAdjust="spacingAndGlyphs">180</text><circle cx="1479.00" cy="727.57" r="6.2" fill="#3db5cf"/><text x="1479.00" y="730.92" fill="#0c3340" textLength="10.3" lengthAdjust="spacingAndGlyphs">181</text><circle cx="1493.50" cy="727.57" r="6.2" fill="#3db5cf"/><text x="1493.50" y="730.92" fill="#0c3340" textLength="10.3" lengthAdjust="spacingAndGlyphs">182</text><circle cx="1508.00" cy="727.57" r="6.2" fill="#3db5cf"/><text x="1508.00" y="730.92" fill="#0c3340" textLength="10.3" lengthAdjust="spacingAndGlyphs">183</text><circle cx="1522.50" cy="727.57" r="6.2" fill="#3db5cf"/><text x="1522.50" y="730.92" fill="#0c3340" textLength="10.3" lengthAdjust="spacingAndGlyphs">184</text><circle cx="1537.00" cy="727.57" r="6.2" fill="#3db5cf"/><text x="1537.00" y="730.92" fill="#0c3340" textLength="10.3" lengthAdjust="spacingAndGlyphs">185</text><circle cx="1181.75" cy="746.88" r="6.2" fill="#3db5cf"/><text x="1181.75" y="750.23" fill="#0c3340" textLength="10.3" lengthAdjust="spacingAndGlyphs">210</text><circle cx="1196.25" cy="746.88" r="6.2" fill="#3db5cf"/><text x="1196.25" y="750.23" fill="#0c3340" textLength="10.3" lengthAdjust="spacingAndGlyphs">209</text><circle cx="1210.75" cy="746.88" r="6.2" fill="#3db5cf"/><text x="1210.75" y="750.23" fill="#0c3340" textLength="10.3" lengthAdjust="spacingAndGlyphs">208</text><circle cx="1225.25" cy="746.88" r="6.2" fill="#3db5cf"/><text x="1225.25" y="750.23" fill="#0c3340" textLength="10.3" lengthAdjust="spacingAndGlyphs">207</text><circle cx="1239.75" cy="746.88" r="6.2" fill="#3db5cf"/><text x="1239.75" y="750.23" fill="#0c3340" textLength="10.3" lengthAdjust="spacingAndGlyphs">206</text><circle cx="1254.25" cy="746.88" r="6.2" fill="#3db5cf"/><text x="1254.25" y="750.23" fill="#0c3340" textLength="10.3" lengthAdjust="spacingAndGlyphs">205</text><circle cx="1268.75" cy="746.88" r="6.2" fill="#3db5cf"/><text x="1268.75" y="750.23" fill="#0c3340" textLength="10.3" lengthAdjust="spacingAndGlyphs">204</text><circle cx="1283.25" cy="746.88" r="6.2" fill="#3db5cf"/><text x="1283.25" y="750.23" fill="#0c3340" textLength="10.3" lengthAdjust="spacingAndGlyphs">203</text><circle cx="1297.75" cy="746.88" r="6.2" fill="#3db5cf"/><text x="1297.75" y="750.23" fill="#0c3340" textLength="10.3" lengthAdjust="spacingAndGlyphs">202</text><circle cx="1312.25" cy="746.88" r="6.2" fill="#3db5cf"/><text x="1312.25" y="750.23" fill="#0c3340" textLength="10.3" lengthAdjust="spacingAndGlyphs">201</text><circle cx="1326.75" cy="746.88" r="6.2" fill="#3db5cf"/><text x="1326.75" y="750.23" fill="#0c3340" textLength="10.3" lengthAdjust="spacingAndGlyphs">200</text><circle cx="1341.25" cy="746.88" r="6.2" fill="#3db5cf"/><text x="1341.25" y="750.23" fill="#0c3340" textLength="10.3" lengthAdjust="spacingAndGlyphs">199</text><circle cx="1355.75" cy="746.88" r="6.2" fill="#3db5cf"/><text x="1355.75" y="750.23" fill="#0c3340" textLength="10.3" lengthAdjust="spacingAndGlyphs">198</text><circle cx="1370.25" cy="746.88" r="6.2" fill="#3db5cf"/><text x="1370.25" y="750.23" fill="#0c3340" textLength="10.3" lengthAdjust="spacingAndGlyphs">197</text><circle cx="1384.75" cy="746.88" r="6.2" fill="#3db5cf"/><text x="1384.75" y="750.23" fill="#0c3340" textLength="10.3" lengthAdjust="spacingAndGlyphs">196</text><circle cx="1399.25" cy="746.88" r="6.2" fill="#3db5cf"/><text x="1399.25" y="750.23" fill="#0c3340" textLength="10.3" lengthAdjust="spacingAndGlyphs">195</text><circle cx="1413.75" cy="746.88" r="6.2" fill="#3db5cf"/><text x="1413.75" y="750.23" fill="#0c3340" textLength="10.3" lengthAdjust="spacingAndGlyphs">194</text><circle cx="1428.25" cy="746.88" r="6.2" fill="#3db5cf"/><text x="1428.25" y="750.23" fill="#0c3340" textLength="10.3" lengthAdjust="spacingAndGlyphs">193</text><circle cx="1442.75" cy="746.88" r="6.2" fill="#3db5cf"/><text x="1442.75" y="750.23" fill="#0c3340" textLength="10.3" lengthAdjust="spacingAndGlyphs">192</text><circle cx="1457.25" cy="746.88" r="6.2" fill="#3db5cf"/><text x="1457.25" y="750.23" fill="#0c3340" textLength="10.3" lengthAdjust="spacingAndGlyphs">191</text><circle cx="1471.75" cy="746.88" r="6.2" fill="#3db5cf"/><text x="1471.75" y="750.23" fill="#0c3340" textLength="10.3" lengthAdjust="spacingAndGlyphs">190</text><circle cx="1486.25" cy="746.88" r="6.2" fill="#3db5cf"/><text x="1486.25" y="750.23" fill="#0c3340" textLength="10.3" lengthAdjust="spacingAndGlyphs">189</text><circle cx="1500.75" cy="746.88" r="6.2" fill="#3db5cf"/><text x="1500.75" y="750.23" fill="#0c3340" textLength="10.3" lengthAdjust="spacingAndGlyphs">188</text><circle cx="1515.25" cy="746.88" r="6.2" fill="#3db5cf"/><text x="1515.25" y="750.23" fill="#0c3340" textLength="10.3" lengthAdjust="spacingAndGlyphs">187</text><circle cx="1529.75" cy="746.88" r="6.2" fill="#3db5cf"/><text x="1529.75" y="750.23" fill="#0c3340" textLength="10.3" lengthAdjust="spacingAndGlyphs">186</text><circle cx="1174.50" cy="766.19" r="6.2" fill="#21828f"/><text x="1174.50" y="769.54" fill="#ffffff" textLength="6.3" lengthAdjust="spacingAndGlyphs">26</text><circle cx="1189.00" cy="766.19" r="6.2" fill="#21828f"/><text x="1189.00" y="769.54" fill="#ffffff" textLength="6.3" lengthAdjust="spacingAndGlyphs">25</text><circle cx="1203.50" cy="766.19" r="6.2" fill="#21828f"/><text x="1203.50" y="769.54" fill="#ffffff" textLength="6.3" lengthAdjust="spacingAndGlyphs">24</text><circle cx="1218.00" cy="766.19" r="6.2" fill="#21828f"/><text x="1218.00" y="769.54" fill="#ffffff" textLength="6.3" lengthAdjust="spacingAndGlyphs">23</text><circle cx="1232.50" cy="766.19" r="6.2" fill="#21828f"/><text x="1232.50" y="769.54" fill="#ffffff" textLength="6.3" lengthAdjust="spacingAndGlyphs">22</text><circle cx="1247.00" cy="766.19" r="6.2" fill="#21828f"/><text x="1247.00" y="769.54" fill="#ffffff" textLength="6.3" lengthAdjust="spacingAndGlyphs">21</text><circle cx="1261.50" cy="766.19" r="6.2" fill="#21828f"/><text x="1261.50" y="769.54" fill="#ffffff" textLength="6.3" lengthAdjust="spacingAndGlyphs">20</text><circle cx="1276.00" cy="766.19" r="6.2" fill="#21828f"/><text x="1276.00" y="769.54" fill="#ffffff" textLength="6.3" lengthAdjust="spacingAndGlyphs">19</text><circle cx="1290.50" cy="766.19" r="6.2" fill="#21828f"/><text x="1290.50" y="769.54" fill="#ffffff" textLength="6.3" lengthAdjust="spacingAndGlyphs">18</text><circle cx="1305.00" cy="766.19" r="6.2" fill="#21828f"/><text x="1305.00" y="769.54" fill="#ffffff" textLength="6.3" lengthAdjust="spacingAndGlyphs">17</text><circle cx="1319.50" cy="766.19" r="6.2" fill="#21828f"/><text x="1319.50" y="769.54" fill="#ffffff" textLength="6.3" lengthAdjust="spacingAndGlyphs">16</text><circle cx="1334.00" cy="766.19" r="6.2" fill="#21828f"/><text x="1334.00" y="769.54" fill="#ffffff" textLength="6.3" lengthAdjust="spacingAndGlyphs">15</text><circle cx="1348.50" cy="766.19" r="6.2" fill="#21828f"/><text x="1348.50" y="769.54" fill="#ffffff" textLength="6.3" lengthAdjust="spacingAndGlyphs">14</text><circle cx="1363.00" cy="766.19" r="6.2" fill="#21828f"/><text x="1363.00" y="769.54" fill="#ffffff" textLength="6.3" lengthAdjust="spacingAndGlyphs">13</text><circle cx="1377.50" cy="766.19" r="6.2" fill="#21828f"/><text x="1377.50" y="769.54" fill="#ffffff" textLength="6.3" lengthAdjust="spacingAndGlyphs">12</text><circle cx="1392.00" cy="766.19" r="6.2" fill="#21828f"/><text x="1392.00" y="769.54" fill="#ffffff" textLength="6.3" lengthAdjust="spacingAndGlyphs">11</text><circle cx="1406.50" cy="766.19" r="6.2" fill="#21828f"/><text x="1406.50" y="769.54" fill="#ffffff" textLength="6.3" lengthAdjust="spacingAndGlyphs">10</text><circle cx="1421.00" cy="766.19" r="6.2" fill="#21828f"/><text x="1421.00" y="769.54" fill="#ffffff" textLength="3.6" lengthAdjust="spacingAndGlyphs">9</text><circle cx="1435.50" cy="766.19" r="6.2" fill="#21828f"/><text x="1435.50" y="769.54" fill="#ffffff" textLength="3.6" lengthAdjust="spacingAndGlyphs">8</text><circle cx="1450.00" cy="766.19" r="6.2" fill="#21828f"/><text x="1450.00" y="769.54" fill="#ffffff" textLength="3.6" lengthAdjust="spacingAndGlyphs">7</text><circle cx="1464.50" cy="766.19" r="6.2" fill="#21828f"/><text x="1464.50" y="769.54" fill="#ffffff" textLength="3.6" lengthAdjust="spacingAndGlyphs">6</text><circle cx="1479.00" cy="766.19" r="6.2" fill="#21828f"/><text x="1479.00" y="769.54" fill="#ffffff" textLength="3.6" lengthAdjust="spacingAndGlyphs">5</text><circle cx="1493.50" cy="766.19" r="6.2" fill="#21828f"/><text x="1493.50" y="769.54" fill="#ffffff" textLength="3.6" lengthAdjust="spacingAndGlyphs">4</text><circle cx="1508.00" cy="766.19" r="6.2" fill="#21828f"/><text x="1508.00" y="769.54" fill="#ffffff" textLength="3.6" lengthAdjust="spacingAndGlyphs">3</text><circle cx="1522.50" cy="766.19" r="6.2" fill="#21828f"/><text x="1522.50" y="769.54" fill="#ffffff" textLength="3.6" lengthAdjust="spacingAndGlyphs">2</text><circle cx="1537.00" cy="766.19" r="6.2" fill="#21828f"/><text x="1537.00" y="769.54" fill="#ffffff" textLength="3.6" lengthAdjust="spacingAndGlyphs">1</text><circle cx="1181.75" cy="785.50" r="6.2" fill="#21828f"/><text x="1181.75" y="788.85" fill="#ffffff" textLength="6.3" lengthAdjust="spacingAndGlyphs">27</text><circle cx="1196.25" cy="785.50" r="6.2" fill="#21828f"/><text x="1196.25" y="788.85" fill="#ffffff" textLength="6.3" lengthAdjust="spacingAndGlyphs">28</text><circle cx="1210.75" cy="785.50" r="6.2" fill="#21828f"/><text x="1210.75" y="788.85" fill="#ffffff" textLength="6.3" lengthAdjust="spacingAndGlyphs">29</text><circle cx="1225.25" cy="785.50" r="6.2" fill="#21828f"/><text x="1225.25" y="788.85" fill="#ffffff" textLength="6.3" lengthAdjust="spacingAndGlyphs">30</text><circle cx="1239.75" cy="785.50" r="6.2" fill="#21828f"/><text x="1239.75" y="788.85" fill="#ffffff" textLength="6.3" lengthAdjust="spacingAndGlyphs">31</text><circle cx="1254.25" cy="785.50" r="6.2" fill="#21828f"/><text x="1254.25" y="788.85" fill="#ffffff" textLength="6.3" lengthAdjust="spacingAndGlyphs">32</text><circle cx="1268.75" cy="785.50" r="6.2" fill="#21828f"/><text x="1268.75" y="788.85" fill="#ffffff" textLength="6.3" lengthAdjust="spacingAndGlyphs">33</text><circle cx="1283.25" cy="785.50" r="6.2" fill="#21828f"/><text x="1283.25" y="788.85" fill="#ffffff" textLength="6.3" lengthAdjust="spacingAndGlyphs">34</text><circle cx="1297.75" cy="785.50" r="6.2" fill="#21828f"/><text x="1297.75" y="788.85" fill="#ffffff" textLength="6.3" lengthAdjust="spacingAndGlyphs">35</text><circle cx="1312.25" cy="785.50" r="6.2" fill="#21828f"/><text x="1312.25" y="788.85" fill="#ffffff" textLength="6.3" lengthAdjust="spacingAndGlyphs">36</text><circle cx="1326.75" cy="785.50" r="6.2" fill="#21828f"/><text x="1326.75" y="788.85" fill="#ffffff" textLength="6.3" lengthAdjust="spacingAndGlyphs">37</text><circle cx="1341.25" cy="785.50" r="6.2" fill="#21828f"/><text x="1341.25" y="788.85" fill="#ffffff" textLength="6.3" lengthAdjust="spacingAndGlyphs">38</text><circle cx="1355.75" cy="785.50" r="6.2" fill="#21828f"/><text x="1355.75" y="788.85" fill="#ffffff" textLength="6.3" lengthAdjust="spacingAndGlyphs">39</text><circle cx="1370.25" cy="785.50" r="6.2" fill="#21828f"/><text x="1370.25" y="788.85" fill="#ffffff" textLength="6.3" lengthAdjust="spacingAndGlyphs">40</text><circle cx="1384.75" cy="785.50" r="6.2" fill="#21828f"/><text x="1384.75" y="788.85" fill="#ffffff" textLength="6.3" lengthAdjust="spacingAndGlyphs">41</text><circle cx="1399.25" cy="785.50" r="6.2" fill="#21828f"/><text x="1399.25" y="788.85" fill="#ffffff" textLength="6.3" lengthAdjust="spacingAndGlyphs">42</text><circle cx="1413.75" cy="785.50" r="6.2" fill="#21828f"/><text x="1413.75" y="788.85" fill="#ffffff" textLength="6.3" lengthAdjust="spacingAndGlyphs">43</text><circle cx="1428.25" cy="785.50" r="6.2" fill="#21828f"/><text x="1428.25" y="788.85" fill="#ffffff" textLength="6.3" lengthAdjust="spacingAndGlyphs">44</text><circle cx="1442.75" cy="785.50" r="6.2" fill="#21828f"/><text x="1442.75" y="788.85" fill="#ffffff" textLength="6.3" lengthAdjust="spacingAndGlyphs">45</text><circle cx="1457.25" cy="785.50" r="6.2" fill="#21828f"/><text x="1457.25" y="788.85" fill="#ffffff" textLength="6.3" lengthAdjust="spacingAndGlyphs">46</text><circle cx="1471.75" cy="785.50" r="6.2" fill="#21828f"/><text x="1471.75" y="788.85" fill="#ffffff" textLength="6.3" lengthAdjust="spacingAndGlyphs">47</text><circle cx="1486.25" cy="785.50" r="6.2" fill="#21828f"/><text x="1486.25" y="788.85" fill="#ffffff" textLength="6.3" lengthAdjust="spacingAndGlyphs">48</text><circle cx="1500.75" cy="785.50" r="6.2" fill="#21828f"/><text x="1500.75" y="788.85" fill="#ffffff" textLength="6.3" lengthAdjust="spacingAndGlyphs">49</text><circle cx="1515.25" cy="785.50" r="6.2" fill="#21828f"/><text x="1515.25" y="788.85" fill="#ffffff" textLength="6.3" lengthAdjust="spacingAndGlyphs">50</text><circle cx="1529.75" cy="785.50" r="6.2" fill="#21828f"/><text x="1529.75" y="788.85" fill="#ffffff" textLength="6.3" lengthAdjust="spacingAndGlyphs">51</text><circle cx="1544.25" cy="785.50" r="6.2" fill="#21828f"/><text x="1544.25" y="788.85" fill="#ffffff" textLength="6.3" lengthAdjust="spacingAndGlyphs">52</text><circle cx="1174.50" cy="804.81" r="6.2" fill="#21828f"/><text x="1174.50" y="808.16" fill="#ffffff" textLength="6.3" lengthAdjust="spacingAndGlyphs">78</text><circle cx="1189.00" cy="804.81" r="6.2" fill="#21828f"/><text x="1189.00" y="808.16" fill="#ffffff" textLength="6.3" lengthAdjust="spacingAndGlyphs">77</text><circle cx="1203.50" cy="804.81" r="6.2" fill="#21828f"/><text x="1203.50" y="808.16" fill="#ffffff" textLength="6.3" lengthAdjust="spacingAndGlyphs">76</text><circle cx="1218.00" cy="804.81" r="6.2" fill="#21828f"/><text x="1218.00" y="808.16" fill="#ffffff" textLength="6.3" lengthAdjust="spacingAndGlyphs">75</text><circle cx="1232.50" cy="804.81" r="6.2" fill="#21828f"/><text x="1232.50" y="808.16" fill="#ffffff" textLength="6.3" lengthAdjust="spacingAndGlyphs">74</text><circle cx="1247.00" cy="804.81" r="6.2" fill="#21828f"/><text x="1247.00" y="808.16" fill="#ffffff" textLength="6.3" lengthAdjust="spacingAndGlyphs">73</text><circle cx="1261.50" cy="804.81" r="6.2" fill="#21828f"/><text x="1261.50" y="808.16" fill="#ffffff" textLength="6.3" lengthAdjust="spacingAndGlyphs">72</text><circle cx="1276.00" cy="804.81" r="6.2" fill="#21828f"/><text x="1276.00" y="808.16" fill="#ffffff" textLength="6.3" lengthAdjust="spacingAndGlyphs">71</text><circle cx="1290.50" cy="804.81" r="6.2" fill="#21828f"/><text x="1290.50" y="808.16" fill="#ffffff" textLength="6.3" lengthAdjust="spacingAndGlyphs">70</text><circle cx="1305.00" cy="804.81" r="6.2" fill="#21828f"/><text x="1305.00" y="808.16" fill="#ffffff" textLength="6.3" lengthAdjust="spacingAndGlyphs">69</text><circle cx="1319.50" cy="804.81" r="6.2" fill="#21828f"/><text x="1319.50" y="808.16" fill="#ffffff" textLength="6.3" lengthAdjust="spacingAndGlyphs">68</text><circle cx="1334.00" cy="804.81" r="6.2" fill="#21828f"/><text x="1334.00" y="808.16" fill="#ffffff" textLength="6.3" lengthAdjust="spacingAndGlyphs">67</text><circle cx="1348.50" cy="804.81" r="6.2" fill="#21828f"/><text x="1348.50" y="808.16" fill="#ffffff" textLength="6.3" lengthAdjust="spacingAndGlyphs">66</text><circle cx="1363.00" cy="804.81" r="6.2" fill="#21828f"/><text x="1363.00" y="808.16" fill="#ffffff" textLength="6.3" lengthAdjust="spacingAndGlyphs">65</text><circle cx="1377.50" cy="804.81" r="6.2" fill="#21828f"/><text x="1377.50" y="808.16" fill="#ffffff" textLength="6.3" lengthAdjust="spacingAndGlyphs">64</text><circle cx="1392.00" cy="804.81" r="6.2" fill="#21828f"/><text x="1392.00" y="808.16" fill="#ffffff" textLength="6.3" lengthAdjust="spacingAndGlyphs">63</text><circle cx="1406.50" cy="804.81" r="6.2" fill="#21828f"/><text x="1406.50" y="808.16" fill="#ffffff" textLength="6.3" lengthAdjust="spacingAndGlyphs">62</text><circle cx="1421.00" cy="804.81" r="6.2" fill="#21828f"/><text x="1421.00" y="808.16" fill="#ffffff" textLength="6.3" lengthAdjust="spacingAndGlyphs">61</text><circle cx="1435.50" cy="804.81" r="6.2" fill="#21828f"/><text x="1435.50" y="808.16" fill="#ffffff" textLength="6.3" lengthAdjust="spacingAndGlyphs">60</text><circle cx="1450.00" cy="804.81" r="6.2" fill="#21828f"/><text x="1450.00" y="808.16" fill="#ffffff" textLength="6.3" lengthAdjust="spacingAndGlyphs">59</text><circle cx="1464.50" cy="804.81" r="6.2" fill="#21828f"/><text x="1464.50" y="808.16" fill="#ffffff" textLength="6.3" lengthAdjust="spacingAndGlyphs">58</text><circle cx="1479.00" cy="804.81" r="6.2" fill="#21828f"/><text x="1479.00" y="808.16" fill="#ffffff" textLength="6.3" lengthAdjust="spacingAndGlyphs">57</text><circle cx="1493.50" cy="804.81" r="6.2" fill="#21828f"/><text x="1493.50" y="808.16" fill="#ffffff" textLength="6.3" lengthAdjust="spacingAndGlyphs">56</text><circle cx="1508.00" cy="804.81" r="6.2" fill="#21828f"/><text x="1508.00" y="808.16" fill="#ffffff" textLength="6.3" lengthAdjust="spacingAndGlyphs">55</text><circle cx="1522.50" cy="804.81" r="6.2" fill="#21828f"/><text x="1522.50" y="808.16" fill="#ffffff" textLength="6.3" lengthAdjust="spacingAndGlyphs">54</text><circle cx="1537.00" cy="804.81" r="6.2" fill="#21828f"/><text x="1537.00" y="808.16" fill="#ffffff" textLength="6.3" lengthAdjust="spacingAndGlyphs">53</text><circle cx="1181.75" cy="824.12" r="6.2" fill="#21828f"/><text x="1181.75" y="827.47" fill="#ffffff" textLength="6.3" lengthAdjust="spacingAndGlyphs">79</text><circle cx="1196.25" cy="824.12" r="6.2" fill="#21828f"/><text x="1196.25" y="827.47" fill="#ffffff" textLength="6.3" lengthAdjust="spacingAndGlyphs">80</text><circle cx="1210.75" cy="824.12" r="6.2" fill="#21828f"/><text x="1210.75" y="827.47" fill="#ffffff" textLength="6.3" lengthAdjust="spacingAndGlyphs">81</text><circle cx="1225.25" cy="824.12" r="6.2" fill="#21828f"/><text x="1225.25" y="827.47" fill="#ffffff" textLength="6.3" lengthAdjust="spacingAndGlyphs">82</text><circle cx="1239.75" cy="824.12" r="6.2" fill="#21828f"/><text x="1239.75" y="827.47" fill="#ffffff" textLength="6.3" lengthAdjust="spacingAndGlyphs">83</text><circle cx="1254.25" cy="824.12" r="6.2" fill="#21828f"/><text x="1254.25" y="827.47" fill="#ffffff" textLength="6.3" lengthAdjust="spacingAndGlyphs">84</text><circle cx="1268.75" cy="824.12" r="6.2" fill="#21828f"/><text x="1268.75" y="827.47" fill="#ffffff" textLength="6.3" lengthAdjust="spacingAndGlyphs">85</text><circle cx="1283.25" cy="824.12" r="6.2" fill="#21828f"/><text x="1283.25" y="827.47" fill="#ffffff" textLength="6.3" lengthAdjust="spacingAndGlyphs">86</text><circle cx="1297.75" cy="824.12" r="6.2" fill="#21828f"/><text x="1297.75" y="827.47" fill="#ffffff" textLength="6.3" lengthAdjust="spacingAndGlyphs">87</text><circle cx="1312.25" cy="824.12" r="6.2" fill="#21828f"/><text x="1312.25" y="827.47" fill="#ffffff" textLength="6.3" lengthAdjust="spacingAndGlyphs">88</text><circle cx="1326.75" cy="824.12" r="6.2" fill="#21828f"/><text x="1326.75" y="827.47" fill="#ffffff" textLength="6.3" lengthAdjust="spacingAndGlyphs">89</text><circle cx="1341.25" cy="824.12" r="6.2" fill="#21828f"/><text x="1341.25" y="827.47" fill="#ffffff" textLength="6.3" lengthAdjust="spacingAndGlyphs">90</text><circle cx="1355.75" cy="824.12" r="6.2" fill="#21828f"/><text x="1355.75" y="827.47" fill="#ffffff" textLength="6.3" lengthAdjust="spacingAndGlyphs">91</text><circle cx="1370.25" cy="824.12" r="6.2" fill="#21828f"/><text x="1370.25" y="827.47" fill="#ffffff" textLength="6.3" lengthAdjust="spacingAndGlyphs">92</text><circle cx="1384.75" cy="824.12" r="6.2" fill="#21828f"/><text x="1384.75" y="827.47" fill="#ffffff" textLength="6.3" lengthAdjust="spacingAndGlyphs">93</text><circle cx="1399.25" cy="824.12" r="6.2" fill="#21828f"/><text x="1399.25" y="827.47" fill="#ffffff" textLength="6.3" lengthAdjust="spacingAndGlyphs">94</text><circle cx="1413.75" cy="824.12" r="6.2" fill="#21828f"/><text x="1413.75" y="827.47" fill="#ffffff" textLength="6.3" lengthAdjust="spacingAndGlyphs">95</text><circle cx="1428.25" cy="824.12" r="6.2" fill="#21828f"/><text x="1428.25" y="827.47" fill="#ffffff" textLength="6.3" lengthAdjust="spacingAndGlyphs">96</text><circle cx="1442.75" cy="824.12" r="6.2" fill="#21828f"/><text x="1442.75" y="827.47" fill="#ffffff" textLength="6.3" lengthAdjust="spacingAndGlyphs">97</text><circle cx="1457.25" cy="824.12" r="6.2" fill="#21828f"/><text x="1457.25" y="827.47" fill="#ffffff" textLength="6.3" lengthAdjust="spacingAndGlyphs">98</text><circle cx="1471.75" cy="824.12" r="6.2" fill="#21828f"/><text x="1471.75" y="827.47" fill="#ffffff" textLength="6.3" lengthAdjust="spacingAndGlyphs">99</text><circle cx="1486.25" cy="824.12" r="6.2" fill="#21828f"/><text x="1486.25" y="827.47" fill="#ffffff" textLength="10.3" lengthAdjust="spacingAndGlyphs">100</text><circle cx="1500.75" cy="824.12" r="6.2" fill="#21828f"/><text x="1500.75" y="827.47" fill="#ffffff" textLength="10.3" lengthAdjust="spacingAndGlyphs">101</text><circle cx="1515.25" cy="824.12" r="6.2" fill="#21828f"/><text x="1515.25" y="827.47" fill="#ffffff" textLength="10.3" lengthAdjust="spacingAndGlyphs">102</text><circle cx="1529.75" cy="824.12" r="6.2" fill="#21828f"/><text x="1529.75" y="827.47" fill="#ffffff" textLength="10.3" lengthAdjust="spacingAndGlyphs">103</text><circle cx="1544.25" cy="824.12" r="6.2" fill="#21828f"/><text x="1544.25" y="827.47" fill="#ffffff" textLength="10.3" lengthAdjust="spacingAndGlyphs">104</text><circle cx="1174.50" cy="843.43" r="6.2" fill="#21828f"/><text x="1174.50" y="846.78" fill="#ffffff" textLength="10.3" lengthAdjust="spacingAndGlyphs">130</text><circle cx="1189.00" cy="843.43" r="6.2" fill="#21828f"/><text x="1189.00" y="846.78" fill="#ffffff" textLength="10.3" lengthAdjust="spacingAndGlyphs">129</text><circle cx="1203.50" cy="843.43" r="6.2" fill="#21828f"/><text x="1203.50" y="846.78" fill="#ffffff" textLength="10.3" lengthAdjust="spacingAndGlyphs">128</text><circle cx="1218.00" cy="843.43" r="6.2" fill="#21828f"/><text x="1218.00" y="846.78" fill="#ffffff" textLength="10.3" lengthAdjust="spacingAndGlyphs">127</text><circle cx="1232.50" cy="843.43" r="6.2" fill="#21828f"/><text x="1232.50" y="846.78" fill="#ffffff" textLength="10.3" lengthAdjust="spacingAndGlyphs">126</text><circle cx="1247.00" cy="843.43" r="6.2" fill="#21828f"/><text x="1247.00" y="846.78" fill="#ffffff" textLength="10.3" lengthAdjust="spacingAndGlyphs">125</text><circle cx="1261.50" cy="843.43" r="6.2" fill="#21828f"/><text x="1261.50" y="846.78" fill="#ffffff" textLength="10.3" lengthAdjust="spacingAndGlyphs">124</text><circle cx="1276.00" cy="843.43" r="6.2" fill="#21828f"/><text x="1276.00" y="846.78" fill="#ffffff" textLength="10.3" lengthAdjust="spacingAndGlyphs">123</text><circle cx="1290.50" cy="843.43" r="6.2" fill="#21828f"/><text x="1290.50" y="846.78" fill="#ffffff" textLength="10.3" lengthAdjust="spacingAndGlyphs">122</text><circle cx="1305.00" cy="843.43" r="6.2" fill="#21828f"/><text x="1305.00" y="846.78" fill="#ffffff" textLength="10.3" lengthAdjust="spacingAndGlyphs">121</text><circle cx="1319.50" cy="843.43" r="6.2" fill="#21828f"/><text x="1319.50" y="846.78" fill="#ffffff" textLength="10.3" lengthAdjust="spacingAndGlyphs">120</text><circle cx="1334.00" cy="843.43" r="6.2" fill="#21828f"/><text x="1334.00" y="846.78" fill="#ffffff" textLength="10.3" lengthAdjust="spacingAndGlyphs">119</text><circle cx="1348.50" cy="843.43" r="6.2" fill="#21828f"/><text x="1348.50" y="846.78" fill="#ffffff" textLength="10.3" lengthAdjust="spacingAndGlyphs">118</text><circle cx="1363.00" cy="843.43" r="6.2" fill="#21828f"/><text x="1363.00" y="846.78" fill="#ffffff" textLength="10.3" lengthAdjust="spacingAndGlyphs">117</text><circle cx="1377.50" cy="843.43" r="6.2" fill="#21828f"/><text x="1377.50" y="846.78" fill="#ffffff" textLength="10.3" lengthAdjust="spacingAndGlyphs">116</text><circle cx="1392.00" cy="843.43" r="6.2" fill="#21828f"/><text x="1392.00" y="846.78" fill="#ffffff" textLength="10.3" lengthAdjust="spacingAndGlyphs">115</text><circle cx="1406.50" cy="843.43" r="6.2" fill="#21828f"/><text x="1406.50" y="846.78" fill="#ffffff" textLength="10.3" lengthAdjust="spacingAndGlyphs">114</text><circle cx="1421.00" cy="843.43" r="6.2" fill="#21828f"/><text x="1421.00" y="846.78" fill="#ffffff" textLength="10.3" lengthAdjust="spacingAndGlyphs">113</text><circle cx="1435.50" cy="843.43" r="6.2" fill="#21828f"/><text x="1435.50" y="846.78" fill="#ffffff" textLength="10.3" lengthAdjust="spacingAndGlyphs">112</text><circle cx="1450.00" cy="843.43" r="6.2" fill="#21828f"/><text x="1450.00" y="846.78" fill="#ffffff" textLength="10.3" lengthAdjust="spacingAndGlyphs">111</text><circle cx="1464.50" cy="843.43" r="6.2" fill="#21828f"/><text x="1464.50" y="846.78" fill="#ffffff" textLength="10.3" lengthAdjust="spacingAndGlyphs">110</text><circle cx="1479.00" cy="843.43" r="6.2" fill="#21828f"/><text x="1479.00" y="846.78" fill="#ffffff" textLength="10.3" lengthAdjust="spacingAndGlyphs">109</text><circle cx="1493.50" cy="843.43" r="6.2" fill="#21828f"/><text x="1493.50" y="846.78" fill="#ffffff" textLength="10.3" lengthAdjust="spacingAndGlyphs">108</text><circle cx="1508.00" cy="843.43" r="6.2" fill="#21828f"/><text x="1508.00" y="846.78" fill="#ffffff" textLength="10.3" lengthAdjust="spacingAndGlyphs">107</text><circle cx="1522.50" cy="843.43" r="6.2" fill="#21828f"/><text x="1522.50" y="846.78" fill="#ffffff" textLength="10.3" lengthAdjust="spacingAndGlyphs">106</text><circle cx="1537.00" cy="843.43" r="6.2" fill="#21828f"/><text x="1537.00" y="846.78" fill="#ffffff" textLength="10.3" lengthAdjust="spacingAndGlyphs">105</text><circle cx="1167.25" cy="862.74" r="6.2" fill="#0b0b0b"/><text x="1167.25" y="866.09" fill="#ffffff" textLength="10.3" lengthAdjust="spacingAndGlyphs">131</text><circle cx="1181.75" cy="862.74" r="6.2" fill="#0b0b0b"/><text x="1181.75" y="866.09" fill="#ffffff" textLength="10.3" lengthAdjust="spacingAndGlyphs">132</text><circle cx="1196.25" cy="862.74" r="6.2" fill="#0b0b0b"/><text x="1196.25" y="866.09" fill="#ffffff" textLength="10.3" lengthAdjust="spacingAndGlyphs">133</text><circle cx="1210.75" cy="862.74" r="6.2" fill="#0b0b0b"/><text x="1210.75" y="866.09" fill="#ffffff" textLength="10.3" lengthAdjust="spacingAndGlyphs">134</text><circle cx="1225.25" cy="862.74" r="6.2" fill="#0b0b0b"/><text x="1225.25" y="866.09" fill="#ffffff" textLength="10.3" lengthAdjust="spacingAndGlyphs">135</text><circle cx="1239.75" cy="862.74" r="6.2" fill="#0b0b0b"/><text x="1239.75" y="866.09" fill="#ffffff" textLength="10.3" lengthAdjust="spacingAndGlyphs">136</text><circle cx="1254.25" cy="862.74" r="6.2" fill="#0b0b0b"/><text x="1254.25" y="866.09" fill="#ffffff" textLength="10.3" lengthAdjust="spacingAndGlyphs">137</text><circle cx="1268.75" cy="862.74" r="6.2" fill="#0b0b0b"/><text x="1268.75" y="866.09" fill="#ffffff" textLength="10.3" lengthAdjust="spacingAndGlyphs">138</text><circle cx="1283.25" cy="862.74" r="6.2" fill="#0b0b0b"/><text x="1283.25" y="866.09" fill="#ffffff" textLength="10.3" lengthAdjust="spacingAndGlyphs">139</text><circle cx="1297.75" cy="862.74" r="6.2" fill="#0b0b0b"/><text x="1297.75" y="866.09" fill="#ffffff" textLength="10.3" lengthAdjust="spacingAndGlyphs">140</text><circle cx="1312.25" cy="862.74" r="6.2" fill="#0b0b0b"/><text x="1312.25" y="866.09" fill="#ffffff" textLength="10.3" lengthAdjust="spacingAndGlyphs">141</text><circle cx="1326.75" cy="862.74" r="6.2" fill="#0b0b0b"/><text x="1326.75" y="866.09" fill="#ffffff" textLength="10.3" lengthAdjust="spacingAndGlyphs">142</text><circle cx="1341.25" cy="862.74" r="6.2" fill="#0b0b0b"/><text x="1341.25" y="866.09" fill="#ffffff" textLength="10.3" lengthAdjust="spacingAndGlyphs">143</text><circle cx="1355.75" cy="862.74" r="6.2" fill="#0b0b0b"/><text x="1355.75" y="866.09" fill="#ffffff" textLength="10.3" lengthAdjust="spacingAndGlyphs">144</text><circle cx="1370.25" cy="862.74" r="6.2" fill="#0b0b0b"/><text x="1370.25" y="866.09" fill="#ffffff" textLength="10.3" lengthAdjust="spacingAndGlyphs">145</text><circle cx="1384.75" cy="862.74" r="6.2" fill="#0b0b0b"/><text x="1384.75" y="866.09" fill="#ffffff" textLength="10.3" lengthAdjust="spacingAndGlyphs">146</text><circle cx="1399.25" cy="862.74" r="6.2" fill="#0b0b0b"/><text x="1399.25" y="866.09" fill="#ffffff" textLength="10.3" lengthAdjust="spacingAndGlyphs">147</text><circle cx="1413.75" cy="862.74" r="6.2" fill="#0b0b0b"/><text x="1413.75" y="866.09" fill="#ffffff" textLength="10.3" lengthAdjust="spacingAndGlyphs">148</text><circle cx="1428.25" cy="862.74" r="6.2" fill="#0b0b0b"/><text x="1428.25" y="866.09" fill="#ffffff" textLength="10.3" lengthAdjust="spacingAndGlyphs">149</text><circle cx="1442.75" cy="862.74" r="6.2" fill="#0b0b0b"/><text x="1442.75" y="866.09" fill="#ffffff" textLength="10.3" lengthAdjust="spacingAndGlyphs">150</text><circle cx="1457.25" cy="862.74" r="6.2" fill="#0b0b0b"/><text x="1457.25" y="866.09" fill="#ffffff" textLength="10.3" lengthAdjust="spacingAndGlyphs">151</text><circle cx="1471.75" cy="862.74" r="6.2" fill="#0b0b0b"/><text x="1471.75" y="866.09" fill="#ffffff" textLength="10.3" lengthAdjust="spacingAndGlyphs">152</text><circle cx="1486.25" cy="862.74" r="6.2" fill="#0b0b0b"/><text x="1486.25" y="866.09" fill="#ffffff" textLength="10.3" lengthAdjust="spacingAndGlyphs">153</text><circle cx="1500.75" cy="862.74" r="6.2" fill="#0b0b0b"/><text x="1500.75" y="866.09" fill="#ffffff" textLength="10.3" lengthAdjust="spacingAndGlyphs">154</text><circle cx="1515.25" cy="862.74" r="6.2" fill="#0b0b0b"/><text x="1515.25" y="866.09" fill="#ffffff" textLength="10.3" lengthAdjust="spacingAndGlyphs">155</text><circle cx="1529.75" cy="862.74" r="6.2" fill="#0b0b0b"/><text x="1529.75" y="866.09" fill="#ffffff" textLength="10.3" lengthAdjust="spacingAndGlyphs">156</text><circle cx="1544.25" cy="862.74" r="6.2" fill="#0b0b0b"/><text x="1544.25" y="866.09" fill="#ffffff" textLength="10.3" lengthAdjust="spacingAndGlyphs">157</text><circle cx="1189.00" cy="882.05" r="6.2" fill="#0b0b0b"/><text x="1189.00" y="885.40" fill="#ffffff" textLength="6.3" lengthAdjust="spacingAndGlyphs">24</text><circle cx="1203.50" cy="882.05" r="6.2" fill="#0b0b0b"/><text x="1203.50" y="885.40" fill="#ffffff" textLength="6.3" lengthAdjust="spacingAndGlyphs">23</text><circle cx="1218.00" cy="882.05" r="6.2" fill="#0b0b0b"/><text x="1218.00" y="885.40" fill="#ffffff" textLength="6.3" lengthAdjust="spacingAndGlyphs">22</text><circle cx="1232.50" cy="882.05" r="6.2" fill="#0b0b0b"/><text x="1232.50" y="885.40" fill="#ffffff" textLength="6.3" lengthAdjust="spacingAndGlyphs">21</text><circle cx="1247.00" cy="882.05" r="6.2" fill="#0b0b0b"/><text x="1247.00" y="885.40" fill="#ffffff" textLength="6.3" lengthAdjust="spacingAndGlyphs">20</text><circle cx="1261.50" cy="882.05" r="6.2" fill="#0b0b0b"/><text x="1261.50" y="885.40" fill="#ffffff" textLength="6.3" lengthAdjust="spacingAndGlyphs">19</text><circle cx="1276.00" cy="882.05" r="6.2" fill="#0b0b0b"/><text x="1276.00" y="885.40" fill="#ffffff" textLength="6.3" lengthAdjust="spacingAndGlyphs">18</text><circle cx="1290.50" cy="882.05" r="6.2" fill="#0b0b0b"/><text x="1290.50" y="885.40" fill="#ffffff" textLength="6.3" lengthAdjust="spacingAndGlyphs">17</text><circle cx="1305.00" cy="882.05" r="6.2" fill="#0b0b0b"/><text x="1305.00" y="885.40" fill="#ffffff" textLength="6.3" lengthAdjust="spacingAndGlyphs">16</text><circle cx="1406.50" cy="882.05" r="6.2" fill="#0b0b0b"/><text x="1406.50" y="885.40" fill="#ffffff" textLength="3.6" lengthAdjust="spacingAndGlyphs">9</text><circle cx="1421.00" cy="882.05" r="6.2" fill="#0b0b0b"/><text x="1421.00" y="885.40" fill="#ffffff" textLength="3.6" lengthAdjust="spacingAndGlyphs">8</text><circle cx="1435.50" cy="882.05" r="6.2" fill="#0b0b0b"/><text x="1435.50" y="885.40" fill="#ffffff" textLength="3.6" lengthAdjust="spacingAndGlyphs">7</text><circle cx="1450.00" cy="882.05" r="6.2" fill="#0b0b0b"/><text x="1450.00" y="885.40" fill="#ffffff" textLength="3.6" lengthAdjust="spacingAndGlyphs">6</text><circle cx="1464.50" cy="882.05" r="6.2" fill="#0b0b0b"/><text x="1464.50" y="885.40" fill="#ffffff" textLength="3.6" lengthAdjust="spacingAndGlyphs">5</text><circle cx="1479.00" cy="882.05" r="6.2" fill="#0b0b0b"/><text x="1479.00" y="885.40" fill="#ffffff" textLength="3.6" lengthAdjust="spacingAndGlyphs">4</text><circle cx="1493.50" cy="882.05" r="6.2" fill="#0b0b0b"/><text x="1493.50" y="885.40" fill="#ffffff" textLength="3.6" lengthAdjust="spacingAndGlyphs">3</text><circle cx="1508.00" cy="882.05" r="6.2" fill="#0b0b0b"/><text x="1508.00" y="885.40" fill="#ffffff" textLength="3.6" lengthAdjust="spacingAndGlyphs">2</text><circle cx="1522.50" cy="882.05" r="6.2" fill="#0b0b0b"/><text x="1522.50" y="885.40" fill="#ffffff" textLength="3.6" lengthAdjust="spacingAndGlyphs">1</text><circle cx="1189.00" cy="901.36" r="6.2" fill="#0b0b0b"/><text x="1189.00" y="904.71" fill="#ffffff" textLength="6.3" lengthAdjust="spacingAndGlyphs">25</text><circle cx="1203.50" cy="901.36" r="6.2" fill="#0b0b0b"/><text x="1203.50" y="904.71" fill="#ffffff" textLength="6.3" lengthAdjust="spacingAndGlyphs">26</text><circle cx="1218.00" cy="901.36" r="6.2" fill="#0b0b0b"/><text x="1218.00" y="904.71" fill="#ffffff" textLength="6.3" lengthAdjust="spacingAndGlyphs">27</text><circle cx="1232.50" cy="901.36" r="6.2" fill="#0b0b0b"/><text x="1232.50" y="904.71" fill="#ffffff" textLength="6.3" lengthAdjust="spacingAndGlyphs">28</text><circle cx="1247.00" cy="901.36" r="6.2" fill="#0b0b0b"/><text x="1247.00" y="904.71" fill="#ffffff" textLength="6.3" lengthAdjust="spacingAndGlyphs">29</text><circle cx="1261.50" cy="901.36" r="6.2" fill="#0b0b0b"/><text x="1261.50" y="904.71" fill="#ffffff" textLength="6.3" lengthAdjust="spacingAndGlyphs">30</text><circle cx="1276.00" cy="901.36" r="6.2" fill="#0b0b0b"/><text x="1276.00" y="904.71" fill="#ffffff" textLength="6.3" lengthAdjust="spacingAndGlyphs">31</text><circle cx="1290.50" cy="901.36" r="6.2" fill="#0b0b0b"/><text x="1290.50" y="904.71" fill="#ffffff" textLength="6.3" lengthAdjust="spacingAndGlyphs">32</text><circle cx="1305.00" cy="901.36" r="6.2" fill="#0b0b0b"/><text x="1305.00" y="904.71" fill="#ffffff" textLength="6.3" lengthAdjust="spacingAndGlyphs">33</text><circle cx="1406.50" cy="901.36" r="6.2" fill="#0b0b0b"/><text x="1406.50" y="904.71" fill="#ffffff" textLength="6.3" lengthAdjust="spacingAndGlyphs">38</text><circle cx="1421.00" cy="901.36" r="6.2" fill="#0b0b0b"/><text x="1421.00" y="904.71" fill="#ffffff" textLength="6.3" lengthAdjust="spacingAndGlyphs">39</text><circle cx="1435.50" cy="901.36" r="6.2" fill="#0b0b0b"/><text x="1435.50" y="904.71" fill="#ffffff" textLength="6.3" lengthAdjust="spacingAndGlyphs">40</text><circle cx="1450.00" cy="901.36" r="6.2" fill="#0b0b0b"/><text x="1450.00" y="904.71" fill="#ffffff" textLength="6.3" lengthAdjust="spacingAndGlyphs">41</text><circle cx="1464.50" cy="901.36" r="6.2" fill="#0b0b0b"/><text x="1464.50" y="904.71" fill="#ffffff" textLength="6.3" lengthAdjust="spacingAndGlyphs">42</text><circle cx="1479.00" cy="901.36" r="6.2" fill="#0b0b0b"/><text x="1479.00" y="904.71" fill="#ffffff" textLength="6.3" lengthAdjust="spacingAndGlyphs">43</text><circle cx="1493.50" cy="901.36" r="6.2" fill="#0b0b0b"/><text x="1493.50" y="904.71" fill="#ffffff" textLength="6.3" lengthAdjust="spacingAndGlyphs">44</text><circle cx="1508.00" cy="901.36" r="6.2" fill="#0b0b0b"/><text x="1508.00" y="904.71" fill="#ffffff" textLength="6.3" lengthAdjust="spacingAndGlyphs">45</text><circle cx="1522.50" cy="901.36" r="6.2" fill="#0b0b0b"/><text x="1522.50" y="904.71" fill="#ffffff" textLength="6.3" lengthAdjust="spacingAndGlyphs">46</text><circle cx="1210.75" cy="936.30" r="6.2" fill="#0b0b0b"/><text x="1210.75" y="939.65" fill="#ffffff" textLength="6.3" lengthAdjust="spacingAndGlyphs">27</text><circle cx="1225.25" cy="940.00" r="6.2" fill="#3db5cf"/><text x="1225.25" y="943.35" fill="#0c3340" textLength="6.3" lengthAdjust="spacingAndGlyphs">26</text><circle cx="1239.75" cy="943.29" r="6.2" fill="#3db5cf"/><text x="1239.75" y="946.64" fill="#0c3340" textLength="6.3" lengthAdjust="spacingAndGlyphs">25</text><circle cx="1254.25" cy="946.17" r="6.2" fill="#3db5cf"/><text x="1254.25" y="949.52" fill="#0c3340" textLength="6.3" lengthAdjust="spacingAndGlyphs">24</text><circle cx="1268.75" cy="948.66" r="6.2" fill="#3db5cf"/><text x="1268.75" y="952.01" fill="#0c3340" textLength="6.3" lengthAdjust="spacingAndGlyphs">23</text><circle cx="1283.25" cy="950.76" r="6.2" fill="#3db5cf"/><text x="1283.25" y="954.11" fill="#0c3340" textLength="6.3" lengthAdjust="spacingAndGlyphs">22</text><circle cx="1297.75" cy="952.47" r="6.2" fill="#3db5cf"/><text x="1297.75" y="955.82" fill="#0c3340" textLength="6.3" lengthAdjust="spacingAndGlyphs">21</text><circle cx="1312.25" cy="953.80" r="6.2" fill="#3db5cf"/><text x="1312.25" y="957.15" fill="#0c3340" textLength="6.3" lengthAdjust="spacingAndGlyphs">20</text><circle cx="1326.75" cy="954.74" r="6.2" fill="#3db5cf"/><text x="1326.75" y="958.09" fill="#0c3340" textLength="6.3" lengthAdjust="spacingAndGlyphs">19</text><circle cx="1341.25" cy="955.31" r="6.2" fill="#3db5cf"/><text x="1341.25" y="958.66" fill="#0c3340" textLength="6.3" lengthAdjust="spacingAndGlyphs">18</text><circle cx="1355.75" cy="955.50" r="6.2" fill="#3db5cf"/><text x="1355.75" y="958.85" fill="#0c3340" textLength="6.3" lengthAdjust="spacingAndGlyphs">17</text><circle cx="1370.25" cy="955.31" r="6.2" fill="#3db5cf"/><text x="1370.25" y="958.66" fill="#0c3340" textLength="6.3" lengthAdjust="spacingAndGlyphs">16</text><circle cx="1384.75" cy="954.74" r="6.2" fill="#3db5cf"/><text x="1384.75" y="958.09" fill="#0c3340" textLength="6.3" lengthAdjust="spacingAndGlyphs">15</text><circle cx="1399.25" cy="953.80" r="6.2" fill="#3db5cf"/><text x="1399.25" y="957.15" fill="#0c3340" textLength="6.3" lengthAdjust="spacingAndGlyphs">14</text><circle cx="1413.75" cy="952.47" r="6.2" fill="#3db5cf"/><text x="1413.75" y="955.82" fill="#0c3340" textLength="6.3" lengthAdjust="spacingAndGlyphs">13</text><circle cx="1428.25" cy="950.76" r="6.2" fill="#3db5cf"/><text x="1428.25" y="954.11" fill="#0c3340" textLength="6.3" lengthAdjust="spacingAndGlyphs">12</text><circle cx="1442.75" cy="948.66" r="6.2" fill="#3db5cf"/><text x="1442.75" y="952.01" fill="#0c3340" textLength="6.3" lengthAdjust="spacingAndGlyphs">11</text><circle cx="1457.25" cy="946.17" r="6.2" fill="#3db5cf"/><text x="1457.25" y="949.52" fill="#0c3340" textLength="6.3" lengthAdjust="spacingAndGlyphs">10</text><circle cx="1471.75" cy="943.29" r="6.2" fill="#3db5cf"/><text x="1471.75" y="946.64" fill="#0c3340" textLength="3.6" lengthAdjust="spacingAndGlyphs">9</text><circle cx="1486.25" cy="940.00" r="6.2" fill="#3db5cf"/><text x="1486.25" y="943.35" fill="#0c3340" textLength="3.6" lengthAdjust="spacingAndGlyphs">8</text><circle cx="1500.75" cy="936.30" r="6.2" fill="#0b0b0b"/><text x="1500.75" y="939.65" fill="#ffffff" textLength="3.6" lengthAdjust="spacingAndGlyphs">7</text><circle cx="1167.25" cy="939.11" r="6.2" fill="#0b0b0b"/><text x="1167.25" y="942.46" fill="#ffffff" textLength="6.3" lengthAdjust="spacingAndGlyphs">33</text><circle cx="1181.75" cy="944.54" r="6.2" fill="#0b0b0b"/><text x="1181.75" y="947.89" fill="#ffffff" textLength="6.3" lengthAdjust="spacingAndGlyphs">34</text><circle cx="1196.25" cy="949.48" r="6.2" fill="#0b0b0b"/><text x="1196.25" y="952.83" fill="#ffffff" textLength="6.3" lengthAdjust="spacingAndGlyphs">35</text><circle cx="1210.75" cy="953.95" r="6.2" fill="#3db5cf"/><text x="1210.75" y="957.30" fill="#0c3340" textLength="6.3" lengthAdjust="spacingAndGlyphs">36</text><circle cx="1225.25" cy="957.96" r="6.2" fill="#3db5cf"/><text x="1225.25" y="961.31" fill="#0c3340" textLength="6.3" lengthAdjust="spacingAndGlyphs">37</text><circle cx="1239.75" cy="961.52" r="6.2" fill="#3db5cf"/><text x="1239.75" y="964.87" fill="#0c3340" textLength="6.3" lengthAdjust="spacingAndGlyphs">38</text><circle cx="1254.25" cy="964.64" r="6.2" fill="#3db5cf"/><text x="1254.25" y="967.99" fill="#0c3340" textLength="6.3" lengthAdjust="spacingAndGlyphs">39</text><circle cx="1268.75" cy="967.33" r="6.2" fill="#3db5cf"/><text x="1268.75" y="970.68" fill="#0c3340" textLength="6.3" lengthAdjust="spacingAndGlyphs">40</text><circle cx="1283.25" cy="969.59" r="6.2" fill="#3db5cf"/><text x="1283.25" y="972.94" fill="#0c3340" textLength="6.3" lengthAdjust="spacingAndGlyphs">41</text><circle cx="1297.75" cy="971.44" r="6.2" fill="#3db5cf"/><text x="1297.75" y="974.79" fill="#0c3340" textLength="6.3" lengthAdjust="spacingAndGlyphs">42</text><circle cx="1312.25" cy="972.87" r="6.2" fill="#3db5cf"/><text x="1312.25" y="976.22" fill="#0c3340" textLength="6.3" lengthAdjust="spacingAndGlyphs">43</text><circle cx="1326.75" cy="973.89" r="6.2" fill="#3db5cf"/><text x="1326.75" y="977.24" fill="#0c3340" textLength="6.3" lengthAdjust="spacingAndGlyphs">44</text><circle cx="1341.25" cy="974.50" r="6.2" fill="#3db5cf"/><text x="1341.25" y="977.85" fill="#0c3340" textLength="6.3" lengthAdjust="spacingAndGlyphs">45</text><circle cx="1355.75" cy="974.70" r="6.2" fill="#3db5cf"/><text x="1355.75" y="978.05" fill="#0c3340" textLength="6.3" lengthAdjust="spacingAndGlyphs">46</text><circle cx="1370.25" cy="974.50" r="6.2" fill="#3db5cf"/><text x="1370.25" y="977.85" fill="#0c3340" textLength="6.3" lengthAdjust="spacingAndGlyphs">47</text><circle cx="1384.75" cy="973.89" r="6.2" fill="#3db5cf"/><text x="1384.75" y="977.24" fill="#0c3340" textLength="6.3" lengthAdjust="spacingAndGlyphs">48</text><circle cx="1399.25" cy="972.87" r="6.2" fill="#3db5cf"/><text x="1399.25" y="976.22" fill="#0c3340" textLength="6.3" lengthAdjust="spacingAndGlyphs">49</text><circle cx="1413.75" cy="971.44" r="6.2" fill="#3db5cf"/><text x="1413.75" y="974.79" fill="#0c3340" textLength="6.3" lengthAdjust="spacingAndGlyphs">50</text><circle cx="1428.25" cy="969.59" r="6.2" fill="#3db5cf"/><text x="1428.25" y="972.94" fill="#0c3340" textLength="6.3" lengthAdjust="spacingAndGlyphs">51</text><circle cx="1442.75" cy="967.33" r="6.2" fill="#3db5cf"/><text x="1442.75" y="970.68" fill="#0c3340" textLength="6.3" lengthAdjust="spacingAndGlyphs">52</text><circle cx="1457.25" cy="964.64" r="6.2" fill="#3db5cf"/><text x="1457.25" y="967.99" fill="#0c3340" textLength="6.3" lengthAdjust="spacingAndGlyphs">53</text><circle cx="1471.75" cy="961.52" r="6.2" fill="#3db5cf"/><text x="1471.75" y="964.87" fill="#0c3340" textLength="6.3" lengthAdjust="spacingAndGlyphs">54</text><circle cx="1486.25" cy="957.96" r="6.2" fill="#3db5cf"/><text x="1486.25" y="961.31" fill="#0c3340" textLength="6.3" lengthAdjust="spacingAndGlyphs">55</text><circle cx="1500.75" cy="953.95" r="6.2" fill="#3db5cf"/><text x="1500.75" y="957.30" fill="#0c3340" textLength="6.3" lengthAdjust="spacingAndGlyphs">56</text><circle cx="1515.25" cy="949.48" r="6.2" fill="#0b0b0b"/><text x="1515.25" y="952.83" fill="#ffffff" textLength="6.3" lengthAdjust="spacingAndGlyphs">57</text><circle cx="1529.75" cy="944.54" r="6.2" fill="#0b0b0b"/><text x="1529.75" y="947.89" fill="#ffffff" textLength="6.3" lengthAdjust="spacingAndGlyphs">58</text><circle cx="1544.25" cy="939.11" r="6.2" fill="#0b0b0b"/><text x="1544.25" y="942.46" fill="#ffffff" textLength="6.3" lengthAdjust="spacingAndGlyphs">59</text><circle cx="1160.00" cy="955.93" r="6.2" fill="#0b0b0b"/><text x="1160.00" y="959.28" fill="#ffffff" textLength="6.3" lengthAdjust="spacingAndGlyphs">88</text><circle cx="1174.50" cy="961.56" r="6.2" fill="#0b0b0b"/><text x="1174.50" y="964.91" fill="#ffffff" textLength="6.3" lengthAdjust="spacingAndGlyphs">87</text><circle cx="1189.00" cy="966.69" r="6.2" fill="#21828f"/><text x="1189.00" y="970.04" fill="#ffffff" textLength="6.3" lengthAdjust="spacingAndGlyphs">86</text><circle cx="1203.50" cy="971.36" r="6.2" fill="#21828f"/><text x="1203.50" y="974.71" fill="#ffffff" textLength="6.3" lengthAdjust="spacingAndGlyphs">85</text><circle cx="1218.00" cy="975.56" r="6.2" fill="#21828f"/><text x="1218.00" y="978.91" fill="#ffffff" textLength="6.3" lengthAdjust="spacingAndGlyphs">84</text><circle cx="1232.50" cy="979.31" r="6.2" fill="#21828f"/><text x="1232.50" y="982.66" fill="#ffffff" textLength="6.3" lengthAdjust="spacingAndGlyphs">83</text><circle cx="1247.00" cy="982.62" r="6.2" fill="#21828f"/><text x="1247.00" y="985.97" fill="#ffffff" textLength="6.3" lengthAdjust="spacingAndGlyphs">82</text><circle cx="1261.50" cy="985.50" r="6.2" fill="#21828f"/><text x="1261.50" y="988.85" fill="#ffffff" textLength="6.3" lengthAdjust="spacingAndGlyphs">81</text><circle cx="1276.00" cy="987.96" r="6.2" fill="#21828f"/><text x="1276.00" y="991.31" fill="#ffffff" textLength="6.3" lengthAdjust="spacingAndGlyphs">80</text><circle cx="1290.50" cy="990.00" r="6.2" fill="#21828f"/><text x="1290.50" y="993.35" fill="#ffffff" textLength="6.3" lengthAdjust="spacingAndGlyphs">79</text><circle cx="1305.00" cy="991.62" r="6.2" fill="#21828f"/><text x="1305.00" y="994.97" fill="#ffffff" textLength="6.3" lengthAdjust="spacingAndGlyphs">78</text><circle cx="1319.50" cy="992.84" r="6.2" fill="#21828f"/><text x="1319.50" y="996.19" fill="#ffffff" textLength="6.3" lengthAdjust="spacingAndGlyphs">77</text><circle cx="1334.00" cy="993.65" r="6.2" fill="#21828f"/><text x="1334.00" y="997.00" fill="#ffffff" textLength="6.3" lengthAdjust="spacingAndGlyphs">76</text><circle cx="1348.50" cy="994.05" r="6.2" fill="#21828f"/><text x="1348.50" y="997.40" fill="#ffffff" textLength="6.3" lengthAdjust="spacingAndGlyphs">75</text><circle cx="1363.00" cy="994.05" r="6.2" fill="#21828f"/><text x="1363.00" y="997.40" fill="#ffffff" textLength="6.3" lengthAdjust="spacingAndGlyphs">74</text><circle cx="1377.50" cy="993.65" r="6.2" fill="#21828f"/><text x="1377.50" y="997.00" fill="#ffffff" textLength="6.3" lengthAdjust="spacingAndGlyphs">73</text><circle cx="1392.00" cy="992.84" r="6.2" fill="#21828f"/><text x="1392.00" y="996.19" fill="#ffffff" textLength="6.3" lengthAdjust="spacingAndGlyphs">72</text><circle cx="1406.50" cy="991.62" r="6.2" fill="#21828f"/><text x="1406.50" y="994.97" fill="#ffffff" textLength="6.3" lengthAdjust="spacingAndGlyphs">71</text><circle cx="1421.00" cy="990.00" r="6.2" fill="#21828f"/><text x="1421.00" y="993.35" fill="#ffffff" textLength="6.3" lengthAdjust="spacingAndGlyphs">70</text><circle cx="1435.50" cy="987.96" r="6.2" fill="#21828f"/><text x="1435.50" y="991.31" fill="#ffffff" textLength="6.3" lengthAdjust="spacingAndGlyphs">69</text><circle cx="1450.00" cy="985.50" r="6.2" fill="#21828f"/><text x="1450.00" y="988.85" fill="#ffffff" textLength="6.3" lengthAdjust="spacingAndGlyphs">68</text><circle cx="1464.50" cy="982.62" r="6.2" fill="#21828f"/><text x="1464.50" y="985.97" fill="#ffffff" textLength="6.3" lengthAdjust="spacingAndGlyphs">67</text><circle cx="1479.00" cy="979.31" r="6.2" fill="#21828f"/><text x="1479.00" y="982.66" fill="#ffffff" textLength="6.3" lengthAdjust="spacingAndGlyphs">66</text><circle cx="1493.50" cy="975.56" r="6.2" fill="#21828f"/><text x="1493.50" y="978.91" fill="#ffffff" textLength="6.3" lengthAdjust="spacingAndGlyphs">65</text><circle cx="1508.00" cy="971.36" r="6.2" fill="#21828f"/><text x="1508.00" y="974.71" fill="#ffffff" textLength="6.3" lengthAdjust="spacingAndGlyphs">64</text><circle cx="1522.50" cy="966.69" r="6.2" fill="#21828f"/><text x="1522.50" y="970.04" fill="#ffffff" textLength="6.3" lengthAdjust="spacingAndGlyphs">63</text><circle cx="1537.00" cy="961.56" r="6.2" fill="#0b0b0b"/><text x="1537.00" y="964.91" fill="#ffffff" textLength="6.3" lengthAdjust="spacingAndGlyphs">62</text><circle cx="1551.50" cy="955.93" r="6.2" fill="#0b0b0b"/><text x="1551.50" y="959.28" fill="#ffffff" textLength="6.3" lengthAdjust="spacingAndGlyphs">61</text><circle cx="1174.50" cy="982.64" r="6.2" fill="#0b0b0b"/><text x="1174.50" y="985.99" fill="#ffffff" textLength="6.3" lengthAdjust="spacingAndGlyphs">89</text><circle cx="1189.00" cy="987.46" r="6.2" fill="#21828f"/><text x="1189.00" y="990.81" fill="#ffffff" textLength="6.3" lengthAdjust="spacingAndGlyphs">90</text><circle cx="1203.50" cy="991.85" r="6.2" fill="#21828f"/><text x="1203.50" y="995.20" fill="#ffffff" textLength="6.3" lengthAdjust="spacingAndGlyphs">91</text><circle cx="1218.00" cy="995.80" r="6.2" fill="#21828f"/><text x="1218.00" y="999.15" fill="#ffffff" textLength="6.3" lengthAdjust="spacingAndGlyphs">92</text><circle cx="1232.50" cy="999.34" r="6.2" fill="#21828f"/><text x="1232.50" y="1002.69" fill="#ffffff" textLength="6.3" lengthAdjust="spacingAndGlyphs">93</text><circle cx="1247.00" cy="1002.46" r="6.2" fill="#21828f"/><text x="1247.00" y="1005.81" fill="#ffffff" textLength="6.3" lengthAdjust="spacingAndGlyphs">94</text><circle cx="1261.50" cy="1005.18" r="6.2" fill="#21828f"/><text x="1261.50" y="1008.53" fill="#ffffff" textLength="6.3" lengthAdjust="spacingAndGlyphs">95</text><circle cx="1276.00" cy="1007.50" r="6.2" fill="#21828f"/><text x="1276.00" y="1010.85" fill="#ffffff" textLength="6.3" lengthAdjust="spacingAndGlyphs">96</text><circle cx="1290.50" cy="1009.42" r="6.2" fill="#21828f"/><text x="1290.50" y="1012.77" fill="#ffffff" textLength="6.3" lengthAdjust="spacingAndGlyphs">97</text><circle cx="1305.00" cy="1010.96" r="6.2" fill="#21828f"/><text x="1305.00" y="1014.31" fill="#ffffff" textLength="6.3" lengthAdjust="spacingAndGlyphs">98</text><circle cx="1319.50" cy="1012.11" r="6.2" fill="#21828f"/><text x="1319.50" y="1015.46" fill="#ffffff" textLength="6.3" lengthAdjust="spacingAndGlyphs">99</text><circle cx="1334.00" cy="1012.87" r="6.2" fill="#21828f"/><text x="1334.00" y="1016.22" fill="#ffffff" textLength="10.3" lengthAdjust="spacingAndGlyphs">100</text><circle cx="1348.50" cy="1013.25" r="6.2" fill="#21828f"/><text x="1348.50" y="1016.60" fill="#ffffff" textLength="10.3" lengthAdjust="spacingAndGlyphs">101</text><circle cx="1363.00" cy="1013.25" r="6.2" fill="#21828f"/><text x="1363.00" y="1016.60" fill="#ffffff" textLength="10.3" lengthAdjust="spacingAndGlyphs">102</text><circle cx="1377.50" cy="1012.87" r="6.2" fill="#21828f"/><text x="1377.50" y="1016.22" fill="#ffffff" textLength="10.3" lengthAdjust="spacingAndGlyphs">103</text><circle cx="1392.00" cy="1012.11" r="6.2" fill="#21828f"/><text x="1392.00" y="1015.46" fill="#ffffff" textLength="10.3" lengthAdjust="spacingAndGlyphs">104</text><circle cx="1406.50" cy="1010.96" r="6.2" fill="#21828f"/><text x="1406.50" y="1014.31" fill="#ffffff" textLength="10.3" lengthAdjust="spacingAndGlyphs">105</text><circle cx="1421.00" cy="1009.42" r="6.2" fill="#21828f"/><text x="1421.00" y="1012.77" fill="#ffffff" textLength="10.3" lengthAdjust="spacingAndGlyphs">106</text><circle cx="1435.50" cy="1007.50" r="6.2" fill="#21828f"/><text x="1435.50" y="1010.85" fill="#ffffff" textLength="10.3" lengthAdjust="spacingAndGlyphs">107</text><circle cx="1450.00" cy="1005.18" r="6.2" fill="#21828f"/><text x="1450.00" y="1008.53" fill="#ffffff" textLength="10.3" lengthAdjust="spacingAndGlyphs">108</text><circle cx="1464.50" cy="1002.46" r="6.2" fill="#21828f"/><text x="1464.50" y="1005.81" fill="#ffffff" textLength="10.3" lengthAdjust="spacingAndGlyphs">109</text><circle cx="1479.00" cy="999.34" r="6.2" fill="#21828f"/><text x="1479.00" y="1002.69" fill="#ffffff" textLength="10.3" lengthAdjust="spacingAndGlyphs">110</text><circle cx="1493.50" cy="995.80" r="6.2" fill="#21828f"/><text x="1493.50" y="999.15" fill="#ffffff" textLength="10.3" lengthAdjust="spacingAndGlyphs">111</text><circle cx="1508.00" cy="991.85" r="6.2" fill="#21828f"/><text x="1508.00" y="995.20" fill="#ffffff" textLength="10.3" lengthAdjust="spacingAndGlyphs">112</text><circle cx="1522.50" cy="987.46" r="6.2" fill="#21828f"/><text x="1522.50" y="990.81" fill="#ffffff" textLength="10.3" lengthAdjust="spacingAndGlyphs">113</text><circle cx="1537.00" cy="982.64" r="6.2" fill="#0b0b0b"/><text x="1537.00" y="985.99" fill="#ffffff" textLength="10.3" lengthAdjust="spacingAndGlyphs">114</text><circle cx="1160.00" cy="998.17" r="6.2" fill="#0b0b0b"/><text x="1160.00" y="1001.52" fill="#ffffff" textLength="10.3" lengthAdjust="spacingAndGlyphs">142</text><circle cx="1174.50" cy="1003.33" r="6.2" fill="#0b0b0b"/><text x="1174.50" y="1006.68" fill="#ffffff" textLength="10.3" lengthAdjust="spacingAndGlyphs">141</text><circle cx="1189.00" cy="1008.04" r="6.2" fill="#0b0b0b"/><text x="1189.00" y="1011.39" fill="#ffffff" textLength="10.3" lengthAdjust="spacingAndGlyphs">140</text><circle cx="1203.50" cy="1012.32" r="6.2" fill="#0b0b0b"/><text x="1203.50" y="1015.67" fill="#ffffff" textLength="10.3" lengthAdjust="spacingAndGlyphs">139</text><circle cx="1218.00" cy="1016.19" r="6.2" fill="#0b0b0b"/><text x="1218.00" y="1019.54" fill="#ffffff" textLength="10.3" lengthAdjust="spacingAndGlyphs">138</text><circle cx="1232.50" cy="1019.64" r="6.2" fill="#0b0b0b"/><text x="1232.50" y="1022.99" fill="#ffffff" textLength="10.3" lengthAdjust="spacingAndGlyphs">137</text><circle cx="1247.00" cy="1022.70" r="6.2" fill="#0b0b0b"/><text x="1247.00" y="1026.05" fill="#ffffff" textLength="10.3" lengthAdjust="spacingAndGlyphs">136</text><circle cx="1261.50" cy="1025.35" r="6.2" fill="#0b0b0b"/><text x="1261.50" y="1028.70" fill="#ffffff" textLength="10.3" lengthAdjust="spacingAndGlyphs">135</text><circle cx="1276.00" cy="1027.62" r="6.2" fill="#0b0b0b"/><text x="1276.00" y="1030.97" fill="#ffffff" textLength="10.3" lengthAdjust="spacingAndGlyphs">134</text><circle cx="1290.50" cy="1029.51" r="6.2" fill="#0b0b0b"/><text x="1290.50" y="1032.86" fill="#ffffff" textLength="10.3" lengthAdjust="spacingAndGlyphs">133</text><circle cx="1305.00" cy="1031.01" r="6.2" fill="#0b0b0b"/><text x="1305.00" y="1034.36" fill="#ffffff" textLength="10.3" lengthAdjust="spacingAndGlyphs">132</text><circle cx="1319.50" cy="1032.13" r="6.2" fill="#0b0b0b"/><text x="1319.50" y="1035.48" fill="#ffffff" textLength="10.3" lengthAdjust="spacingAndGlyphs">131</text><circle cx="1334.00" cy="1032.88" r="6.2" fill="#0b0b0b"/><text x="1334.00" y="1036.23" fill="#ffffff" textLength="10.3" lengthAdjust="spacingAndGlyphs">130</text><circle cx="1348.50" cy="1033.25" r="6.2" fill="#0b0b0b"/><text x="1348.50" y="1036.60" fill="#ffffff" textLength="10.3" lengthAdjust="spacingAndGlyphs">129</text><circle cx="1363.00" cy="1033.25" r="6.2" fill="#0b0b0b"/><text x="1363.00" y="1036.60" fill="#ffffff" textLength="10.3" lengthAdjust="spacingAndGlyphs">128</text><circle cx="1377.50" cy="1032.88" r="6.2" fill="#0b0b0b"/><text x="1377.50" y="1036.23" fill="#ffffff" textLength="10.3" lengthAdjust="spacingAndGlyphs">127</text><circle cx="1392.00" cy="1032.13" r="6.2" fill="#0b0b0b"/><text x="1392.00" y="1035.48" fill="#ffffff" textLength="10.3" lengthAdjust="spacingAndGlyphs">126</text><circle cx="1406.50" cy="1031.01" r="6.2" fill="#0b0b0b"/><text x="1406.50" y="1034.36" fill="#ffffff" textLength="10.3" lengthAdjust="spacingAndGlyphs">125</text><circle cx="1421.00" cy="1029.51" r="6.2" fill="#0b0b0b"/><text x="1421.00" y="1032.86" fill="#ffffff" textLength="10.3" lengthAdjust="spacingAndGlyphs">124</text><circle cx="1435.50" cy="1027.62" r="6.2" fill="#0b0b0b"/><text x="1435.50" y="1030.97" fill="#ffffff" textLength="10.3" lengthAdjust="spacingAndGlyphs">123</text><circle cx="1450.00" cy="1025.35" r="6.2" fill="#0b0b0b"/><text x="1450.00" y="1028.70" fill="#ffffff" textLength="10.3" lengthAdjust="spacingAndGlyphs">122</text><circle cx="1464.50" cy="1022.70" r="6.2" fill="#0b0b0b"/><text x="1464.50" y="1026.05" fill="#ffffff" textLength="10.3" lengthAdjust="spacingAndGlyphs">121</text><circle cx="1479.00" cy="1019.64" r="6.2" fill="#0b0b0b"/><text x="1479.00" y="1022.99" fill="#ffffff" textLength="10.3" lengthAdjust="spacingAndGlyphs">120</text><circle cx="1493.50" cy="1016.19" r="6.2" fill="#0b0b0b"/><text x="1493.50" y="1019.54" fill="#ffffff" textLength="10.3" lengthAdjust="spacingAndGlyphs">119</text><circle cx="1508.00" cy="1012.32" r="6.2" fill="#0b0b0b"/><text x="1508.00" y="1015.67" fill="#ffffff" textLength="10.3" lengthAdjust="spacingAndGlyphs">118</text><circle cx="1522.50" cy="1008.04" r="6.2" fill="#0b0b0b"/><text x="1522.50" y="1011.39" fill="#ffffff" textLength="10.3" lengthAdjust="spacingAndGlyphs">117</text><circle cx="1537.00" cy="1003.33" r="6.2" fill="#0b0b0b"/><text x="1537.00" y="1006.68" fill="#ffffff" textLength="10.3" lengthAdjust="spacingAndGlyphs">116</text><circle cx="1551.50" cy="998.17" r="6.2" fill="#0b0b0b"/><text x="1551.50" y="1001.52" fill="#ffffff" textLength="10.3" lengthAdjust="spacingAndGlyphs">115</text><circle cx="1124.00" cy="746.88" r="6.2" fill="#0b0b0b"/><text x="1124.00" y="750.23" fill="#ffffff" textLength="3.6" lengthAdjust="spacingAndGlyphs">7</text><circle cx="1587.70" cy="746.88" r="6.2" fill="#0b0b0b"/><text x="1587.70" y="750.23" fill="#ffffff" textLength="3.6" lengthAdjust="spacingAndGlyphs">1</text><circle cx="1124.00" cy="766.19" r="6.2" fill="#0b0b0b"/><text x="1124.00" y="769.54" fill="#ffffff" textLength="3.6" lengthAdjust="spacingAndGlyphs">8</text><circle cx="1587.70" cy="766.19" r="6.2" fill="#0b0b0b"/><text x="1587.70" y="769.54" fill="#ffffff" textLength="3.6" lengthAdjust="spacingAndGlyphs">2</text><circle cx="1124.00" cy="785.50" r="6.2" fill="#0b0b0b"/><text x="1124.00" y="788.85" fill="#ffffff" textLength="3.6" lengthAdjust="spacingAndGlyphs">9</text><circle cx="1587.70" cy="785.50" r="6.2" fill="#0b0b0b"/><text x="1587.70" y="788.85" fill="#ffffff" textLength="3.6" lengthAdjust="spacingAndGlyphs">3</text><circle cx="1124.00" cy="804.81" r="6.2" fill="#0b0b0b"/><text x="1124.00" y="808.16" fill="#ffffff" textLength="6.3" lengthAdjust="spacingAndGlyphs">10</text><circle cx="1587.70" cy="804.81" r="6.2" fill="#0b0b0b"/><text x="1587.70" y="808.16" fill="#ffffff" textLength="3.6" lengthAdjust="spacingAndGlyphs">4</text><circle cx="1124.00" cy="824.12" r="6.2" fill="#0b0b0b"/><text x="1124.00" y="827.47" fill="#ffffff" textLength="6.3" lengthAdjust="spacingAndGlyphs">11</text><circle cx="1587.70" cy="824.12" r="6.2" fill="#0b0b0b"/><text x="1587.70" y="827.47" fill="#ffffff" textLength="3.6" lengthAdjust="spacingAndGlyphs">5</text><circle cx="1124.00" cy="843.43" r="6.2" fill="#0b0b0b"/><text x="1124.00" y="846.78" fill="#ffffff" textLength="6.3" lengthAdjust="spacingAndGlyphs">12</text><circle cx="1587.70" cy="843.43" r="6.2" fill="#0b0b0b"/><text x="1587.70" y="846.78" fill="#ffffff" textLength="3.6" lengthAdjust="spacingAndGlyphs">6</text><circle cx="1124.00" cy="862.74" r="6.2" fill="#21828f"/><text x="1124.00" y="866.09" fill="#ffffff" textLength="6.3" lengthAdjust="spacingAndGlyphs">32</text><circle cx="1587.70" cy="862.74" r="6.2" fill="#21828f"/><text x="1587.70" y="866.09" fill="#ffffff" textLength="3.6" lengthAdjust="spacingAndGlyphs">1</text><circle cx="1124.00" cy="882.05" r="6.2" fill="#21828f"/><text x="1124.00" y="885.40" fill="#ffffff" textLength="6.3" lengthAdjust="spacingAndGlyphs">31</text><circle cx="1587.70" cy="882.05" r="6.2" fill="#21828f"/><text x="1587.70" y="885.40" fill="#ffffff" textLength="3.6" lengthAdjust="spacingAndGlyphs">2</text><text class="lb" x="1140.2" y="597.05" fill="#4fb9cf" stroke="#4fb9cf" textLength="3.6" lengthAdjust="spacingAndGlyphs" style="text-anchor:start">1</text><text class="lb" x="1571.6" y="597.05" fill="#4fb9cf" stroke="#4fb9cf" textLength="3.6" lengthAdjust="spacingAndGlyphs" style="text-anchor:end">1</text><text class="lb" x="1140.2" y="616.36" fill="#4fb9cf" stroke="#4fb9cf" textLength="3.6" lengthAdjust="spacingAndGlyphs" style="text-anchor:start">2</text><text class="lb" x="1571.6" y="616.36" fill="#4fb9cf" stroke="#4fb9cf" textLength="3.6" lengthAdjust="spacingAndGlyphs" style="text-anchor:end">2</text><text class="lb" x="1140.2" y="635.67" fill="#4fb9cf" stroke="#4fb9cf" textLength="3.6" lengthAdjust="spacingAndGlyphs" style="text-anchor:start">3</text><text class="lb" x="1571.6" y="635.67" fill="#4fb9cf" stroke="#4fb9cf" textLength="3.6" lengthAdjust="spacingAndGlyphs" style="text-anchor:end">3</text><text class="lb" x="1140.2" y="654.98" fill="#4fb9cf" stroke="#4fb9cf" textLength="3.6" lengthAdjust="spacingAndGlyphs" style="text-anchor:start">4</text><text class="lb" x="1571.6" y="654.98" fill="#4fb9cf" stroke="#4fb9cf" textLength="3.6" lengthAdjust="spacingAndGlyphs" style="text-anchor:end">4</text><text class="lb" x="1140.2" y="674.29" fill="#4fb9cf" stroke="#4fb9cf" textLength="3.6" lengthAdjust="spacingAndGlyphs" style="text-anchor:start">5</text><text class="lb" x="1571.6" y="674.29" fill="#4fb9cf" stroke="#4fb9cf" textLength="3.6" lengthAdjust="spacingAndGlyphs" style="text-anchor:end">5</text><text class="lb" x="1140.2" y="693.60" fill="#4fb9cf" stroke="#4fb9cf" textLength="3.6" lengthAdjust="spacingAndGlyphs" style="text-anchor:start">6</text><text class="lb" x="1571.6" y="693.60" fill="#4fb9cf" stroke="#4fb9cf" textLength="3.6" lengthAdjust="spacingAndGlyphs" style="text-anchor:end">6</text><text class="lb" x="1140.2" y="712.91" fill="#4fb9cf" stroke="#4fb9cf" textLength="3.6" lengthAdjust="spacingAndGlyphs" style="text-anchor:start">7</text><text class="lb" x="1571.6" y="712.91" fill="#4fb9cf" stroke="#4fb9cf" textLength="3.6" lengthAdjust="spacingAndGlyphs" style="text-anchor:end">7</text><text class="lb" x="1140.2" y="732.22" fill="#4fb9cf" stroke="#4fb9cf" textLength="3.6" lengthAdjust="spacingAndGlyphs" style="text-anchor:start">8</text><text class="lb" x="1571.6" y="732.22" fill="#4fb9cf" stroke="#4fb9cf" textLength="3.6" lengthAdjust="spacingAndGlyphs" style="text-anchor:end">8</text><text class="lb" x="1140.2" y="751.53" fill="#4fb9cf" stroke="#4fb9cf" textLength="3.6" lengthAdjust="spacingAndGlyphs" style="text-anchor:start">9</text><text class="lb" x="1571.6" y="751.53" fill="#4fb9cf" stroke="#4fb9cf" textLength="3.6" lengthAdjust="spacingAndGlyphs" style="text-anchor:end">9</text><text class="lb" x="1140.2" y="770.84" fill="#338898" stroke="#338898" textLength="9.2" lengthAdjust="spacingAndGlyphs" style="text-anchor:start">10</text><text class="lb" x="1571.6" y="770.84" fill="#338898" stroke="#338898" textLength="9.2" lengthAdjust="spacingAndGlyphs" style="text-anchor:end">10</text><text class="lb" x="1140.2" y="790.15" fill="#338898" stroke="#338898" textLength="9.2" lengthAdjust="spacingAndGlyphs" style="text-anchor:start">11</text><text class="lb" x="1571.6" y="790.15" fill="#338898" stroke="#338898" textLength="9.2" lengthAdjust="spacingAndGlyphs" style="text-anchor:end">11</text><text class="lb" x="1140.2" y="809.46" fill="#338898" stroke="#338898" textLength="9.2" lengthAdjust="spacingAndGlyphs" style="text-anchor:start">12</text><text class="lb" x="1571.6" y="809.46" fill="#338898" stroke="#338898" textLength="9.2" lengthAdjust="spacingAndGlyphs" style="text-anchor:end">12</text><text class="lb" x="1140.2" y="828.77" fill="#338898" stroke="#338898" textLength="9.2" lengthAdjust="spacingAndGlyphs" style="text-anchor:start">13</text><text class="lb" x="1571.6" y="828.77" fill="#338898" stroke="#338898" textLength="9.2" lengthAdjust="spacingAndGlyphs" style="text-anchor:end">13</text><text class="lb" x="1140.2" y="848.08" fill="#338898" stroke="#338898" textLength="9.2" lengthAdjust="spacingAndGlyphs" style="text-anchor:start">14</text><text class="lb" x="1571.6" y="848.08" fill="#338898" stroke="#338898" textLength="9.2" lengthAdjust="spacingAndGlyphs" style="text-anchor:end">14</text><text class="lb" x="1140.2" y="867.39" fill="#161616" stroke="#161616" textLength="9.2" lengthAdjust="spacingAndGlyphs" style="text-anchor:start">15</text><text class="lb" x="1571.6" y="867.39" fill="#161616" stroke="#161616" textLength="9.2" lengthAdjust="spacingAndGlyphs" style="text-anchor:end">15</text><text class="lb" x="1140.2" y="886.70" fill="#161616" stroke="#161616" textLength="9.2" lengthAdjust="spacingAndGlyphs" style="text-anchor:start">16</text><text class="lb" x="1571.6" y="886.70" fill="#161616" stroke="#161616" textLength="9.2" lengthAdjust="spacingAndGlyphs" style="text-anchor:end">16</text><text class="lb" x="1140.2" y="906.01" fill="#161616" stroke="#161616" textLength="9.2" lengthAdjust="spacingAndGlyphs" style="text-anchor:start">17</text><text class="lb" x="1571.6" y="906.01" fill="#161616" stroke="#161616" textLength="9.2" lengthAdjust="spacingAndGlyphs" style="text-anchor:end">17</text><text class="lb" x="1140.2" y="935.35" fill="#4fb9cf" stroke="#4fb9cf" textLength="3.6" lengthAdjust="spacingAndGlyphs" style="text-anchor:start">1</text><text class="lb" x="1571.6" y="935.35" fill="#4fb9cf" stroke="#4fb9cf" textLength="3.6" lengthAdjust="spacingAndGlyphs" style="text-anchor:end">1</text><text class="lb" x="1140.2" y="953.95" fill="#4fb9cf" stroke="#4fb9cf" textLength="3.6" lengthAdjust="spacingAndGlyphs" style="text-anchor:start">2</text><text class="lb" x="1571.6" y="953.95" fill="#4fb9cf" stroke="#4fb9cf" textLength="3.6" lengthAdjust="spacingAndGlyphs" style="text-anchor:end">2</text><text class="lb" x="1140.2" y="973.95" fill="#338898" stroke="#338898" textLength="3.6" lengthAdjust="spacingAndGlyphs" style="text-anchor:start">3</text><text class="lb" x="1571.6" y="973.95" fill="#338898" stroke="#338898" textLength="3.6" lengthAdjust="spacingAndGlyphs" style="text-anchor:end">3</text><text class="lb" x="1140.2" y="992.65" fill="#338898" stroke="#338898" textLength="3.6" lengthAdjust="spacingAndGlyphs" style="text-anchor:start">4</text><text class="lb" x="1571.6" y="992.65" fill="#338898" stroke="#338898" textLength="3.6" lengthAdjust="spacingAndGlyphs" style="text-anchor:end">4</text><text class="lb" x="1140.2" y="1012.65" fill="#161616" stroke="#161616" textLength="3.6" lengthAdjust="spacingAndGlyphs" style="text-anchor:start">5</text><text class="lb" x="1571.6" y="1012.65" fill="#161616" stroke="#161616" textLength="3.6" lengthAdjust="spacingAndGlyphs" style="text-anchor:end">5</text><text class="hd" x="1356.8" y="564.8" text-anchor="middle" textLength="42.7" lengthAdjust="spacingAndGlyphs">BÜHNE</text><rect x="1138.5" y="574.0" width="435.5" height="2" fill="url(#dots)"/><text class="hd" x="1356.7" y="593.3" text-anchor="middle" textLength="57" lengthAdjust="spacingAndGlyphs">PARKETT</text><text class="hd" x="1356.8" y="940" text-anchor="middle" textLength="34.6" lengthAdjust="spacingAndGlyphs">RANG</text><text class="vt" transform="translate(1163.3 610.8) rotate(-90) scale(0.64 1)">LINKS</text><text class="vt" transform="translate(1560.3 619.4) rotate(-90) scale(0.66 1)">RECHTS</text><text class="vs" transform="translate(1129.2 976.8) rotate(-90) scale(0.621 1)">SEITENRANG LINKS</text><text class="vs" transform="translate(1593.6 984.6) rotate(-90) scale(0.629 1)">SEITENRANG RECHTS</text><circle cx="885.2" cy="234.4" r="5.1" fill="#22e0ee"/><circle cx="885.2" cy="252.2" r="5.1" fill="#16809a"/><circle cx="885.2" cy="270.0" r="5.1" fill="#0c0c0c"/><circle cx="885.2" cy="623.2" r="5.1" fill="#22e0ee"/><circle cx="885.2" cy="641.0" r="5.1" fill="#16809a"/><circle cx="885.2" cy="658.8" r="5.1" fill="#0c0c0c"/></svg>
</body></html>
